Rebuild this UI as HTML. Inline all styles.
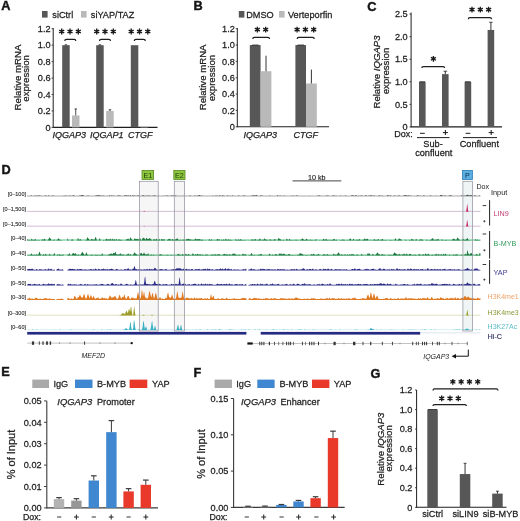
<!DOCTYPE html>
<html><head><meta charset="utf-8"><style>
html,body{margin:0;padding:0;background:#fff;}
svg{display:block;will-change:transform;}
text{font-family:"Liberation Sans", sans-serif;stroke:#222;stroke-width:0.25px;}
</style></head><body>
<svg width="520" height="521" viewBox="0 0 520 521" fill="#222">
<rect width="520" height="521" fill="#fff"/>
<text transform="translate(1.20,10.40) scale(0.95,1)" font-size="13.44" font-weight="bold" fill="#111" stroke="#111" style="stroke-width:0.45px">A</text>
<rect x="42.00" y="11.00" width="5.60" height="6.60" fill="#575757"/>
<text transform="translate(52.30,17.60) scale(0.95,1)" font-size="9.67">siCtrl</text>
<rect x="81.00" y="11.00" width="5.60" height="6.60" fill="#b9b9b9"/>
<text transform="translate(90.80,17.60) scale(0.95,1)" font-size="9.67">siYAP/TAZ</text>
<line x1="53.20" y1="28.00" x2="53.20" y2="127.90" stroke="#1e1e1e" stroke-width="1"/>
<line x1="53.20" y1="127.40" x2="157.50" y2="127.40" stroke="#1e1e1e" stroke-width="1.1"/>
<text transform="translate(50.60,130.60) scale(0.95,1)" font-size="9.67" text-anchor="end">0</text>
<line x1="51.60" y1="127.40" x2="53.20" y2="127.40" stroke="#1e1e1e" stroke-width="0.8"/>
<text transform="translate(50.60,114.16) scale(0.95,1)" font-size="9.67" text-anchor="end">0.2</text>
<line x1="51.60" y1="110.96" x2="53.20" y2="110.96" stroke="#1e1e1e" stroke-width="0.8"/>
<text transform="translate(50.60,97.72) scale(0.95,1)" font-size="9.67" text-anchor="end">0.4</text>
<line x1="51.60" y1="94.52" x2="53.20" y2="94.52" stroke="#1e1e1e" stroke-width="0.8"/>
<text transform="translate(50.60,81.28) scale(0.95,1)" font-size="9.67" text-anchor="end">0.6</text>
<line x1="51.60" y1="78.08" x2="53.20" y2="78.08" stroke="#1e1e1e" stroke-width="0.8"/>
<text transform="translate(50.60,64.84) scale(0.95,1)" font-size="9.67" text-anchor="end">0.8</text>
<line x1="51.60" y1="61.64" x2="53.20" y2="61.64" stroke="#1e1e1e" stroke-width="0.8"/>
<text transform="translate(50.60,48.40) scale(0.95,1)" font-size="9.67" text-anchor="end">1.0</text>
<line x1="51.60" y1="45.20" x2="53.20" y2="45.20" stroke="#1e1e1e" stroke-width="0.8"/>
<text transform="translate(50.60,31.96) scale(0.95,1)" font-size="9.67" text-anchor="end">1.2</text>
<line x1="51.60" y1="28.76" x2="53.20" y2="28.76" stroke="#1e1e1e" stroke-width="0.8"/>
<text transform="translate(20.80,77.50) rotate(-90)" font-size="9.63" text-anchor="middle" fill="#222" stroke="#222">Relative mRNA</text>
<text transform="translate(29.40,78.40) rotate(-90)" font-size="9.63" text-anchor="middle" fill="#222" stroke="#222">expression</text>
<rect x="62.20" y="45.20" width="7.50" height="82.20" fill="#575757"/>
<line x1="65.95" y1="45.20" x2="65.95" y2="44.79" stroke="#1e1e1e" stroke-width="0.8"/>
<line x1="64.75" y1="44.79" x2="67.15" y2="44.79" stroke="#1e1e1e" stroke-width="0.8"/>
<rect x="72.00" y="115.48" width="7.50" height="11.92" fill="#b9b9b9"/>
<line x1="75.75" y1="115.48" x2="75.75" y2="108.91" stroke="#1e1e1e" stroke-width="0.8"/>
<line x1="74.55" y1="108.91" x2="76.95" y2="108.91" stroke="#1e1e1e" stroke-width="0.8"/>
<rect x="96.20" y="45.20" width="7.50" height="82.20" fill="#575757"/>
<line x1="99.95" y1="45.20" x2="99.95" y2="44.79" stroke="#1e1e1e" stroke-width="0.8"/>
<line x1="98.75" y1="44.79" x2="101.15" y2="44.79" stroke="#1e1e1e" stroke-width="0.8"/>
<rect x="106.20" y="110.96" width="7.50" height="16.44" fill="#b9b9b9"/>
<line x1="109.95" y1="110.96" x2="109.95" y2="109.73" stroke="#1e1e1e" stroke-width="0.8"/>
<line x1="108.75" y1="109.73" x2="111.15" y2="109.73" stroke="#1e1e1e" stroke-width="0.8"/>
<rect x="130.80" y="45.20" width="7.50" height="82.20" fill="#575757"/>
<rect x="140.50" y="126.41" width="7.50" height="0.99" fill="#b9b9b9"/>
<path d="M61.70 28.60L61.70 34.40M64.21 30.05L59.19 32.95M64.21 32.95L59.19 30.05" fill="none" stroke="#1a1a1a" stroke-width="1.35"/>
<path d="M70.00 28.60L70.00 34.40M72.51 30.05L67.49 32.95M72.51 32.95L67.49 30.05" fill="none" stroke="#1a1a1a" stroke-width="1.35"/>
<path d="M78.30 28.60L78.30 34.40M80.81 30.05L75.79 32.95M80.81 32.95L75.79 30.05" fill="none" stroke="#1a1a1a" stroke-width="1.35"/>
<path d="M64.80 40.90Q64.80 39.30 66.40 39.30L74.20 39.30Q75.80 39.30 75.80 40.90" fill="none" stroke="#1e1e1e" stroke-width="1.25"/>
<path d="M96.70 28.60L96.70 34.40M99.21 30.05L94.19 32.95M99.21 32.95L94.19 30.05" fill="none" stroke="#1a1a1a" stroke-width="1.35"/>
<path d="M105.00 28.60L105.00 34.40M107.51 30.05L102.49 32.95M107.51 32.95L102.49 30.05" fill="none" stroke="#1a1a1a" stroke-width="1.35"/>
<path d="M113.30 28.60L113.30 34.40M115.81 30.05L110.79 32.95M115.81 32.95L110.79 30.05" fill="none" stroke="#1a1a1a" stroke-width="1.35"/>
<path d="M99.50 40.90Q99.50 39.30 101.10 39.30L108.90 39.30Q110.50 39.30 110.50 40.90" fill="none" stroke="#1e1e1e" stroke-width="1.25"/>
<path d="M131.20 28.60L131.20 34.40M133.71 30.05L128.69 32.95M133.71 32.95L128.69 30.05" fill="none" stroke="#1a1a1a" stroke-width="1.35"/>
<path d="M139.50 28.60L139.50 34.40M142.01 30.05L136.99 32.95M142.01 32.95L136.99 30.05" fill="none" stroke="#1a1a1a" stroke-width="1.35"/>
<path d="M147.80 28.60L147.80 34.40M150.31 30.05L145.29 32.95M150.31 32.95L145.29 30.05" fill="none" stroke="#1a1a1a" stroke-width="1.35"/>
<path d="M134.30 40.90Q134.30 39.30 135.90 39.30L143.70 39.30Q145.30 39.30 145.30 40.90" fill="none" stroke="#1e1e1e" stroke-width="1.25"/>
<text transform="translate(52.50,137.60) scale(1.0,1)" font-size="9.00" font-style="italic">IQGAP3</text>
<text transform="translate(90.00,137.60) scale(1.0,1)" font-size="9.00" font-style="italic">IQGAP1</text>
<text transform="translate(128.00,137.60) scale(1.0,1)" font-size="9.00" font-style="italic">CTGF</text>
<text transform="translate(193.50,10.40) scale(0.95,1)" font-size="13.44" font-weight="bold" fill="#111" stroke="#111" style="stroke-width:0.45px">B</text>
<rect x="238.80" y="11.00" width="5.60" height="6.60" fill="#575757"/>
<text transform="translate(246.20,17.60) scale(0.95,1)" font-size="9.67">DMSO</text>
<rect x="279.00" y="11.00" width="5.60" height="6.60" fill="#b9b9b9"/>
<text transform="translate(288.00,17.60) scale(0.95,1)" font-size="9.67">Verteporfin</text>
<line x1="237.30" y1="28.00" x2="237.30" y2="127.30" stroke="#1e1e1e" stroke-width="1"/>
<line x1="237.30" y1="126.80" x2="329.00" y2="126.80" stroke="#1e1e1e" stroke-width="1.1"/>
<text transform="translate(234.80,130.00) scale(0.95,1)" font-size="9.67" text-anchor="end">0</text>
<line x1="235.70" y1="126.80" x2="237.30" y2="126.80" stroke="#1e1e1e" stroke-width="0.8"/>
<text transform="translate(234.80,113.65) scale(0.95,1)" font-size="9.67" text-anchor="end">0.2</text>
<line x1="235.70" y1="110.45" x2="237.30" y2="110.45" stroke="#1e1e1e" stroke-width="0.8"/>
<text transform="translate(234.80,97.30) scale(0.95,1)" font-size="9.67" text-anchor="end">0.4</text>
<line x1="235.70" y1="94.10" x2="237.30" y2="94.10" stroke="#1e1e1e" stroke-width="0.8"/>
<text transform="translate(234.80,80.95) scale(0.95,1)" font-size="9.67" text-anchor="end">0.6</text>
<line x1="235.70" y1="77.75" x2="237.30" y2="77.75" stroke="#1e1e1e" stroke-width="0.8"/>
<text transform="translate(234.80,64.60) scale(0.95,1)" font-size="9.67" text-anchor="end">0.8</text>
<line x1="235.70" y1="61.40" x2="237.30" y2="61.40" stroke="#1e1e1e" stroke-width="0.8"/>
<text transform="translate(234.80,48.25) scale(0.95,1)" font-size="9.67" text-anchor="end">1.0</text>
<line x1="235.70" y1="45.05" x2="237.30" y2="45.05" stroke="#1e1e1e" stroke-width="0.8"/>
<text transform="translate(234.80,31.90) scale(0.95,1)" font-size="9.67" text-anchor="end">1.2</text>
<line x1="235.70" y1="28.70" x2="237.30" y2="28.70" stroke="#1e1e1e" stroke-width="0.8"/>
<text transform="translate(206.10,77.40) rotate(-90)" font-size="9.63" text-anchor="middle" fill="#222" stroke="#222">Relative mRNA</text>
<text transform="translate(214.60,78.10) rotate(-90)" font-size="9.63" text-anchor="middle" fill="#222" stroke="#222">expression</text>
<rect x="249.80" y="45.05" width="10.80" height="81.75" fill="#575757"/>
<line x1="252.00" y1="45.05" x2="258.50" y2="45.05" stroke="#1e1e1e" stroke-width="0.8"/>
<rect x="260.60" y="71.21" width="10.80" height="55.59" fill="#b9b9b9"/>
<line x1="266.00" y1="71.21" x2="266.00" y2="55.68" stroke="#1e1e1e" stroke-width="0.9"/>
<line x1="266.00" y1="55.68" x2="266.00" y2="55.68" stroke="#1e1e1e" stroke-width="0.9"/>
<rect x="295.40" y="45.05" width="10.60" height="81.75" fill="#575757"/>
<line x1="297.50" y1="45.05" x2="304.00" y2="45.05" stroke="#1e1e1e" stroke-width="0.8"/>
<rect x="306.00" y="83.47" width="10.80" height="43.33" fill="#b9b9b9"/>
<line x1="311.40" y1="83.47" x2="311.40" y2="69.58" stroke="#1e1e1e" stroke-width="0.9"/>
<line x1="311.40" y1="69.58" x2="311.40" y2="69.58" stroke="#1e1e1e" stroke-width="0.9"/>
<path d="M257.35 26.70L257.35 32.50M259.86 28.15L254.84 31.05M259.86 31.05L254.84 28.15" fill="none" stroke="#1a1a1a" stroke-width="1.35"/>
<path d="M265.65 26.70L265.65 32.50M268.16 28.15L263.14 31.05M268.16 31.05L263.14 28.15" fill="none" stroke="#1a1a1a" stroke-width="1.35"/>
<path d="M252.80 38.90Q252.80 37.30 254.40 37.30L267.90 37.30Q269.50 37.30 269.50 38.90" fill="none" stroke="#1e1e1e" stroke-width="1.25"/>
<path d="M297.10 26.70L297.10 32.50M299.61 28.15L294.59 31.05M299.61 31.05L294.59 28.15" fill="none" stroke="#1a1a1a" stroke-width="1.35"/>
<path d="M305.40 26.70L305.40 32.50M307.91 28.15L302.89 31.05M307.91 31.05L302.89 28.15" fill="none" stroke="#1a1a1a" stroke-width="1.35"/>
<path d="M313.70 26.70L313.70 32.50M316.21 28.15L311.19 31.05M316.21 31.05L311.19 28.15" fill="none" stroke="#1a1a1a" stroke-width="1.35"/>
<path d="M297.20 38.90Q297.20 37.30 298.80 37.30L312.60 37.30Q314.20 37.30 314.20 38.90" fill="none" stroke="#1e1e1e" stroke-width="1.25"/>
<text transform="translate(243.40,137.90) scale(1.0,1)" font-size="9.00" font-style="italic">IQGAP3</text>
<text transform="translate(293.60,137.90) scale(1.0,1)" font-size="9.00" font-style="italic">CTGF</text>
<text transform="translate(367.20,10.60) scale(0.95,1)" font-size="13.44" font-weight="bold" fill="#111" stroke="#111" style="stroke-width:0.45px">C</text>
<line x1="411.10" y1="12.50" x2="411.10" y2="127.40" stroke="#1e1e1e" stroke-width="1"/>
<line x1="411.10" y1="126.90" x2="502.00" y2="126.90" stroke="#1e1e1e" stroke-width="1.1"/>
<text transform="translate(407.70,130.10) scale(0.95,1)" font-size="9.67" text-anchor="end">0</text>
<line x1="409.50" y1="126.90" x2="411.10" y2="126.90" stroke="#1e1e1e" stroke-width="0.8"/>
<text transform="translate(407.70,107.55) scale(0.95,1)" font-size="9.67" text-anchor="end">0.5</text>
<line x1="409.50" y1="104.35" x2="411.10" y2="104.35" stroke="#1e1e1e" stroke-width="0.8"/>
<text transform="translate(407.70,85.00) scale(0.95,1)" font-size="9.67" text-anchor="end">1.0</text>
<line x1="409.50" y1="81.80" x2="411.10" y2="81.80" stroke="#1e1e1e" stroke-width="0.8"/>
<text transform="translate(407.70,62.45) scale(0.95,1)" font-size="9.67" text-anchor="end">1.5</text>
<line x1="409.50" y1="59.25" x2="411.10" y2="59.25" stroke="#1e1e1e" stroke-width="0.8"/>
<text transform="translate(407.70,39.90) scale(0.95,1)" font-size="9.67" text-anchor="end">2.0</text>
<line x1="409.50" y1="36.70" x2="411.10" y2="36.70" stroke="#1e1e1e" stroke-width="0.8"/>
<text transform="translate(407.70,17.35) scale(0.95,1)" font-size="9.67" text-anchor="end">2.5</text>
<line x1="409.50" y1="14.15" x2="411.10" y2="14.15" stroke="#1e1e1e" stroke-width="0.8"/>
<text transform="translate(380.0,72.0) rotate(-90)" font-size="9.6" text-anchor="middle" fill="#222">Relative <tspan font-style="italic">IQGAP3</tspan></text>
<text transform="translate(389.00,71.00) rotate(-90)" font-size="9.63" text-anchor="middle" fill="#222" stroke="#222">expression</text>
<rect x="419.00" y="81.80" width="6.60" height="45.10" fill="#575757"/>
<line x1="419.50" y1="81.80" x2="425.00" y2="81.80" stroke="#1e1e1e" stroke-width="0.8"/>
<rect x="442.00" y="74.13" width="6.60" height="52.77" fill="#575757"/>
<line x1="445.30" y1="74.13" x2="445.30" y2="71.20" stroke="#1e1e1e" stroke-width="0.9"/>
<line x1="445.30" y1="71.20" x2="445.30" y2="71.20" stroke="#1e1e1e" stroke-width="0.9"/>
<line x1="443.50" y1="71.20" x2="447.20" y2="71.20" stroke="#1e1e1e" stroke-width="0.8"/>
<rect x="464.60" y="81.80" width="6.60" height="45.10" fill="#575757"/>
<line x1="465.00" y1="81.80" x2="470.50" y2="81.80" stroke="#1e1e1e" stroke-width="0.8"/>
<rect x="487.60" y="29.94" width="6.60" height="96.97" fill="#575757"/>
<line x1="490.90" y1="29.94" x2="490.90" y2="22.27" stroke="#1e1e1e" stroke-width="0.9"/>
<line x1="490.90" y1="22.27" x2="490.90" y2="22.27" stroke="#1e1e1e" stroke-width="0.9"/>
<line x1="489.20" y1="22.27" x2="492.60" y2="22.27" stroke="#1e1e1e" stroke-width="0.8"/>
<path d="M433.40 55.90L433.40 61.70M435.91 57.35L430.89 60.25M435.91 60.25L430.89 57.35" fill="none" stroke="#1a1a1a" stroke-width="1.35"/>
<path d="M421.80 68.10Q421.80 66.50 423.40 66.50L443.00 66.50Q444.60 66.50 444.60 68.10" fill="none" stroke="#1e1e1e" stroke-width="1.25"/>
<path d="M472.00 6.70L472.00 12.50M474.51 8.15L469.49 11.05M474.51 11.05L469.49 8.15" fill="none" stroke="#1a1a1a" stroke-width="1.35"/>
<path d="M480.30 6.70L480.30 12.50M482.81 8.15L477.79 11.05M482.81 11.05L477.79 8.15" fill="none" stroke="#1a1a1a" stroke-width="1.35"/>
<path d="M488.60 6.70L488.60 12.50M491.11 8.15L486.09 11.05M491.11 11.05L486.09 8.15" fill="none" stroke="#1a1a1a" stroke-width="1.35"/>
<path d="M468.30 19.20Q468.30 17.60 469.90 17.60L489.90 17.60Q491.50 17.60 491.50 19.20" fill="none" stroke="#1e1e1e" stroke-width="1.25"/>
<text transform="translate(394.20,136.80) scale(1,1)" font-size="9.00">Dox:</text>
<line x1="420.00" y1="133.30" x2="424.80" y2="133.30" stroke="#1e1e1e" stroke-width="1.0"/>
<line x1="442.90" y1="132.60" x2="447.90" y2="132.60" stroke="#1e1e1e" stroke-width="1.05"/>
<line x1="445.40" y1="130.10" x2="445.40" y2="135.10" stroke="#1e1e1e" stroke-width="1.05"/>
<line x1="465.60" y1="133.30" x2="470.40" y2="133.30" stroke="#1e1e1e" stroke-width="1.0"/>
<line x1="488.70" y1="132.60" x2="493.70" y2="132.60" stroke="#1e1e1e" stroke-width="1.05"/>
<line x1="491.20" y1="130.10" x2="491.20" y2="135.10" stroke="#1e1e1e" stroke-width="1.05"/>
<line x1="417.00" y1="137.60" x2="449.50" y2="137.60" stroke="#1e1e1e" stroke-width="1.0"/>
<line x1="463.00" y1="137.60" x2="497.00" y2="137.60" stroke="#1e1e1e" stroke-width="1.0"/>
<text transform="translate(433.00,146.80) scale(0.95,1)" font-size="9.67" text-anchor="middle">Sub-</text>
<text transform="translate(433.80,156.20) scale(0.95,1)" font-size="9.67" text-anchor="middle">confluent</text>
<text transform="translate(479.30,146.60) scale(0.95,1)" font-size="9.67" text-anchor="middle">Confluent</text>
<rect x="139.40" y="181.30" width="18.80" height="149.70" fill="#f6f6f7"/>
<rect x="174.30" y="181.30" width="10.20" height="149.70" fill="#f6f6f7"/>
<rect x="462.90" y="181.30" width="9.70" height="149.70" fill="#eef5f4"/>
<text transform="translate(1.50,173.60) scale(0.95,1)" font-size="13.44" font-weight="bold" fill="#111" stroke="#111" style="stroke-width:0.45px">D</text>
<rect x="142.00" y="170.40" width="11.60" height="9.20" fill="#8cc63f" stroke="#5a8a1e" stroke-width="0.8"/>
<text transform="translate(147.80,177.90) scale(1,1)" font-size="7.20" text-anchor="middle" fill="#1d3a08" stroke="#1d3a08" style="stroke:none">E1</text>
<rect x="173.80" y="170.40" width="11.20" height="9.20" fill="#8cc63f" stroke="#5a8a1e" stroke-width="0.8"/>
<text transform="translate(179.40,177.90) scale(1,1)" font-size="7.20" text-anchor="middle" fill="#1d3a08" stroke="#1d3a08" style="stroke:none">E2</text>
<rect x="462.40" y="170.40" width="10.00" height="9.20" fill="#5aaee0" stroke="#2f7fb8" stroke-width="0.8"/>
<text transform="translate(467.40,177.90) scale(1,1)" font-size="7.20" text-anchor="middle" fill="#0d2a50" stroke="#0d2a50" style="stroke:none">P</text>
<line x1="292.50" y1="180.90" x2="341.30" y2="180.90" stroke="#444" stroke-width="1.0"/>
<text transform="translate(316.80,179.80) scale(1,1)" font-size="7.20" text-anchor="middle" style="stroke-width:0.15px">10 kb</text>
<text transform="translate(26.00,195.60) scale(1,1)" font-size="5.50" text-anchor="end" fill="#333333" stroke="#333333" style="stroke-width:0.12px">[0–100]</text>
<path d="M27.2 196.20L27.2 195.61L27.7 195.68L28.2 195.75L28.7 195.75L29.2 195.75L29.7 195.75L30.2 195.68L30.7 195.38L31.2 195.23L31.7 195.49L32.2 195.67L32.7 195.70L33.2 195.67L33.7 195.64L34.2 195.70L34.7 195.52L35.2 195.28L35.7 195.52L36.2 195.75L36.7 195.62L37.2 195.50L37.7 195.46L38.2 195.42L38.7 195.39L39.2 195.37L39.7 195.49L40.2 195.61L40.7 195.68L41.2 195.65L41.7 195.56L42.2 195.65L42.7 195.75L43.2 195.75L43.7 195.75L44.2 195.64L44.7 195.53L45.2 195.45L45.7 195.28L46.2 195.40L46.7 195.67L47.2 195.75L47.7 195.75L48.2 195.56L48.7 195.37L49.2 195.56L49.7 195.75L50.2 195.75L50.7 195.75L51.2 195.75L51.7 195.62L52.2 195.48L52.7 195.46L53.2 195.43L53.7 195.59L54.2 195.75L54.7 195.71L55.2 195.67L55.7 195.71L56.2 195.75L56.7 195.75L57.2 195.75L57.7 195.73L58.2 195.71L58.7 195.73L59.2 195.69L59.7 195.64L60.2 195.69L60.7 195.75L61.2 195.75L61.7 195.75L62.2 195.75L62.7 195.75L63.2 195.75L63.7 195.58L64.2 195.40L64.7 195.56L65.2 195.71L65.7 195.60L66.2 195.50L66.7 195.62L67.2 195.75L67.7 195.75L68.2 195.75L68.7 195.68L69.2 195.50L69.7 195.46L70.2 195.56L70.7 195.62L71.2 195.69L71.7 195.75L72.2 195.75L72.7 195.61L73.2 195.21L73.7 195.08L74.2 195.40L74.7 195.64L75.2 195.71L75.7 195.75L76.2 195.75L76.7 195.71L77.2 195.68L77.7 195.71L78.2 195.75L78.7 195.75L79.2 195.62L79.7 195.48L80.2 195.62L80.7 195.51L81.2 195.15L81.7 195.10L82.2 195.08L82.7 195.01L83.2 195.24L83.7 195.60L84.2 195.70L84.7 195.64L85.2 195.68L85.7 195.72L86.2 195.74L86.7 195.63L87.2 195.51L87.7 195.53L88.2 195.54L88.7 195.61L89.2 195.68L89.7 195.71L90.2 195.69L90.7 195.64L91.2 195.69L91.7 195.75L92.2 195.75L92.7 195.75L93.2 195.74L93.7 195.72L94.2 195.73L94.7 195.64L95.2 195.55L95.7 195.49L96.2 195.43L96.7 195.36L97.2 195.29L97.7 195.31L98.2 195.15L98.7 195.17L99.2 195.35L99.7 195.32L100.2 195.53L100.7 195.60L101.2 195.44L101.7 195.59L102.2 195.66L102.7 195.58L103.2 195.55L103.7 195.43L104.2 195.48L104.7 195.67L105.2 195.75L105.7 195.75L106.2 195.75L106.7 195.66L107.2 195.57L107.7 195.66L108.2 195.75L108.7 195.65L109.2 195.30L109.7 195.13L110.2 195.46L110.7 195.69L111.2 195.47L111.7 195.30L112.2 195.55L112.7 195.74L113.2 195.58L113.7 195.42L114.2 195.59L114.7 195.75L115.2 195.71L115.7 195.64L116.2 195.65L116.7 195.72L117.2 195.75L117.7 195.54L118.2 195.17L118.7 195.22L119.2 195.50L119.7 195.56L120.2 195.57L120.7 195.59L121.2 195.65L121.7 195.68L122.2 195.64L122.7 195.65L123.2 195.71L123.7 195.75L124.2 195.55L124.7 195.23L125.2 195.25L125.7 195.41L126.2 195.31L126.7 195.30L127.2 195.58L127.7 195.56L128.2 195.29L128.7 195.40L129.2 195.67L129.7 195.53L130.2 195.20L130.7 195.32L131.2 195.64L131.7 195.69L132.2 195.42L132.7 195.26L133.2 195.37L133.7 195.42L134.2 195.50L134.7 195.56L135.2 195.62L135.7 195.72L136.2 195.75L136.7 195.75L137.2 195.52L137.7 195.15L138.2 195.24L138.7 195.61L139.2 195.75L139.7 195.75L140.2 195.75L140.7 195.75L141.2 195.75L141.7 195.75L142.2 195.51L142.7 195.27L143.2 195.27L143.7 195.28L144.2 195.51L144.7 195.75L145.2 195.75L145.7 195.58L146.2 195.40L146.7 195.58L147.2 195.75L147.7 195.59L148.2 195.42L148.7 195.59L149.2 195.61L149.7 195.48L150.2 195.61L150.7 195.74L151.2 195.74L151.7 195.75L152.2 195.75L152.7 195.61L153.2 195.46L153.7 195.61L154.2 195.51L154.7 195.18L155.2 195.31L155.7 195.65L156.2 195.75L156.7 195.75L157.2 195.75L157.7 195.75L158.2 195.69L158.7 195.62L159.2 195.69L159.7 195.73L160.2 195.71L160.7 195.73L161.2 195.75L161.7 195.75L162.2 195.75L162.7 195.63L163.2 195.50L163.7 195.63L164.2 195.63L164.7 195.51L165.2 195.63L165.7 195.75L166.2 195.56L166.7 195.37L167.2 195.49L167.7 195.56L168.2 195.60L168.7 195.66L169.2 195.64L169.7 195.69L170.2 195.65L170.7 195.55L171.2 195.49L171.7 195.37L172.2 195.46L172.7 195.55L173.2 195.40L173.7 195.33L174.2 195.43L174.7 195.63L175.2 195.52L175.7 195.25L176.2 195.45L176.7 195.72L177.2 195.72L177.7 195.68L178.2 195.72L178.7 195.75L179.2 195.75L179.7 195.75L180.2 195.75L180.7 195.75L181.2 195.75L181.7 195.75L182.2 195.75L182.7 195.75L183.2 195.66L183.7 195.55L184.2 195.62L184.7 195.73L185.2 195.75L185.7 195.75L186.2 195.75L186.7 195.75L187.2 195.75L187.7 195.75L188.2 195.75L188.7 195.75L189.2 195.75L189.7 195.50L190.2 195.25L190.7 195.50L191.2 195.75L191.7 195.75L192.2 195.75L192.7 195.75L193.2 195.75L193.7 195.63L194.2 195.50L194.7 195.61L195.2 195.66L195.7 195.60L196.2 195.66L196.7 195.62L197.2 195.53L197.7 195.46L198.2 195.46L198.7 195.38L199.2 195.04L199.7 194.97L200.2 195.34L200.7 195.65L201.2 195.58L201.7 195.41L202.2 195.58L202.7 195.75L203.2 195.69L203.7 195.63L204.2 195.69L204.7 195.75L205.2 195.75L205.7 195.75L206.2 195.72L206.7 195.69L207.2 195.72L207.7 195.75L208.2 195.75L208.7 195.74L209.2 195.73L209.7 195.74L210.2 195.74L210.7 195.75L211.2 195.75L211.7 195.75L212.2 195.69L212.7 195.51L213.2 195.45L213.7 195.63L214.2 195.75L214.7 195.75L215.2 195.58L215.7 195.41L216.2 195.43L216.7 195.44L217.2 195.59L217.7 195.75L218.2 195.75L218.7 195.75L219.2 195.58L219.7 195.21L220.2 195.17L220.7 195.54L221.2 195.75L221.7 195.64L222.2 195.36L222.7 195.32L223.2 195.59L223.7 195.62L224.2 195.50L224.7 195.63L225.2 195.75L225.7 195.75L226.2 195.75L226.7 195.75L227.2 195.51L227.7 195.26L228.2 195.51L228.7 195.75L229.2 195.73L229.7 195.64L230.2 195.61L230.7 195.68L231.2 195.72L231.7 195.73L232.2 195.54L232.7 195.32L233.2 195.53L233.7 195.74L234.2 195.70L234.7 195.66L235.2 195.71L235.7 195.75L236.2 195.75L236.7 195.75L237.2 195.75L237.7 195.75L238.2 195.54L238.7 195.33L239.2 195.54L239.7 195.75L240.2 195.74L240.7 195.75L241.2 195.75L241.7 195.75L242.2 195.75L242.7 195.59L243.2 195.43L243.7 195.59L244.2 195.55L244.7 195.35L245.2 195.55L245.7 195.75L246.2 195.75L246.7 195.75L247.2 195.75L247.7 195.75L248.2 195.75L248.7 195.75L249.2 195.75L249.7 195.75L250.2 195.75L250.7 195.75L251.2 195.58L251.7 195.39L252.2 195.55L252.7 195.53L253.2 195.26L253.7 195.19L254.2 195.14L254.7 195.27L255.2 195.60L255.7 195.51L256.2 195.09L256.7 195.08L257.2 195.44L257.7 195.69L258.2 195.75L258.7 195.75L259.2 195.75L259.7 195.70L260.2 195.41L260.7 195.22L261.2 195.51L261.7 195.61L262.2 195.48L262.7 195.60L263.2 195.71L263.7 195.73L264.2 195.75L264.7 195.75L265.2 195.75L265.7 195.70L266.2 195.66L266.7 195.70L267.2 195.75L267.7 195.75L268.2 195.75L268.7 195.75L269.2 195.62L269.7 195.49L270.2 195.62L270.7 195.75L271.2 195.74L271.7 195.75L272.2 195.74L272.7 195.74L273.2 195.74L273.7 195.75L274.2 195.75L274.7 195.75L275.2 195.75L275.7 195.75L276.2 195.75L276.7 195.63L277.2 195.30L277.7 195.21L278.2 195.54L278.7 195.75L279.2 195.75L279.7 195.61L280.2 195.47L280.7 195.56L281.2 195.64L281.7 195.65L282.2 195.66L282.7 195.70L283.2 195.69L283.7 195.55L284.2 195.52L284.7 195.62L285.2 195.67L285.7 195.71L286.2 195.75L286.7 195.75L287.2 195.73L287.7 195.70L288.2 195.68L288.7 195.68L289.2 195.73L289.7 195.75L290.2 195.75L290.7 195.75L291.2 195.75L291.7 195.60L292.2 195.39L292.7 195.49L293.2 195.70L293.7 195.69L294.2 195.58L294.7 195.59L295.2 195.66L295.7 195.67L296.2 195.50L296.7 195.30L297.2 195.40L297.7 195.57L298.2 195.68L298.7 195.75L299.2 195.75L299.7 195.74L300.2 195.75L300.7 195.75L301.2 195.75L301.7 195.75L302.2 195.75L302.7 195.75L303.2 195.75L303.7 195.75L304.2 195.75L304.7 195.75L305.2 195.75L305.7 195.75L306.2 195.75L306.7 195.75L307.2 195.75L307.7 195.75L308.2 195.75L308.7 195.68L309.2 195.61L309.7 195.68L310.2 195.75L310.7 195.75L311.2 195.75L311.7 195.72L312.2 195.68L312.7 195.70L313.2 195.74L313.7 195.75L314.2 195.75L314.7 195.74L315.2 195.74L315.7 195.73L316.2 195.73L316.7 195.74L317.2 195.72L317.7 195.45L318.2 195.25L318.7 195.51L319.2 195.52L319.7 195.29L320.2 195.52L320.7 195.75L321.2 195.75L321.7 195.75L322.2 195.75L322.7 195.72L323.2 195.69L323.7 195.72L324.2 195.75L324.7 195.75L325.2 195.74L325.7 195.59L326.2 195.47L326.7 195.60L327.2 195.54L327.7 195.39L328.2 195.51L328.7 195.61L329.2 195.68L329.7 195.73L330.2 195.71L330.7 195.73L331.2 195.72L331.7 195.70L332.2 195.61L332.7 195.51L333.2 195.43L333.7 195.34L334.2 195.39L334.7 195.43L335.2 195.59L335.7 195.67L336.2 195.60L336.7 195.67L337.2 195.75L337.7 195.75L338.2 195.75L338.7 195.75L339.2 195.75L339.7 195.65L340.2 195.52L340.7 195.49L341.2 195.53L341.7 195.66L342.2 195.75L342.7 195.75L343.2 195.75L343.7 195.64L344.2 195.52L344.7 195.64L345.2 195.60L345.7 195.45L346.2 195.60L346.7 195.70L347.2 195.66L347.7 195.68L348.2 195.71L348.7 195.72L349.2 195.74L349.7 195.74L350.2 195.75L350.7 195.75L351.2 195.60L351.7 195.31L352.2 195.17L352.7 195.16L353.2 195.33L353.7 195.62L354.2 195.75L354.7 195.71L355.2 195.43L355.7 195.05L356.2 195.13L356.7 195.50L357.2 195.71L357.7 195.72L358.2 195.56L358.7 195.47L359.2 195.63L359.7 195.68L360.2 195.62L360.7 195.58L361.2 195.50L361.7 195.49L362.2 195.50L362.7 195.50L363.2 195.65L363.7 195.74L364.2 195.73L364.7 195.74L365.2 195.52L365.7 195.16L366.2 195.17L366.7 195.42L367.2 195.65L367.7 195.65L368.2 195.55L368.7 195.49L369.2 195.44L369.7 195.59L370.2 195.56L370.7 195.14L371.2 195.06L371.7 195.41L372.2 195.64L372.7 195.61L373.2 195.54L373.7 195.48L374.2 195.42L374.7 195.59L375.2 195.71L375.7 195.68L376.2 195.71L376.7 195.75L377.2 195.74L377.7 195.73L378.2 195.74L378.7 195.57L379.2 195.23L379.7 195.24L380.2 195.59L380.7 195.67L381.2 195.59L381.7 195.66L382.2 195.62L382.7 195.50L383.2 195.63L383.7 195.75L384.2 195.75L384.7 195.75L385.2 195.75L385.7 195.75L386.2 195.72L386.7 195.69L387.2 195.47L387.7 195.04L388.2 195.08L388.7 195.49L389.2 195.65L389.7 195.45L390.2 195.25L390.7 195.50L391.2 195.64L391.7 195.54L392.2 195.64L392.7 195.75L393.2 195.75L393.7 195.67L394.2 195.42L394.7 195.29L395.2 195.46L395.7 195.63L396.2 195.71L396.7 195.75L397.2 195.68L397.7 195.49L398.2 195.44L398.7 195.43L399.2 195.35L399.7 195.55L400.2 195.75L400.7 195.75L401.2 195.75L401.7 195.75L402.2 195.75L402.7 195.63L403.2 195.50L403.7 195.49L404.2 195.26L404.7 195.19L405.2 195.33L405.7 195.19L406.2 195.06L406.7 195.24L407.2 195.57L407.7 195.67L408.2 195.34L408.7 195.18L409.2 195.51L409.7 195.75L410.2 195.61L410.7 195.47L411.2 195.61L411.7 195.75L412.2 195.75L412.7 195.75L413.2 195.75L413.7 195.75L414.2 195.75L414.7 195.75L415.2 195.70L415.7 195.64L416.2 195.67L416.7 195.62L417.2 195.46L417.7 195.33L418.2 195.32L418.7 195.56L419.2 195.71L419.7 195.68L420.2 195.62L420.7 195.57L421.2 195.66L421.7 195.75L422.2 195.75L422.7 195.71L423.2 195.43L423.7 195.22L424.2 195.41L424.7 195.56L425.2 195.65L425.7 195.75L426.2 195.75L426.7 195.74L427.2 195.71L427.7 195.66L428.2 195.66L428.7 195.72L429.2 195.65L429.7 195.55L430.2 195.41L430.7 195.26L431.2 195.51L431.7 195.75L432.2 195.75L432.7 195.75L433.2 195.75L433.7 195.69L434.2 195.63L434.7 195.63L435.2 195.62L435.7 195.68L436.2 195.65L436.7 195.56L437.2 195.65L437.7 195.75L438.2 195.75L438.7 195.75L439.2 195.75L439.7 195.63L440.2 195.29L440.7 195.08L441.2 195.08L441.7 195.03L442.2 195.19L442.7 195.43L443.2 195.48L443.7 195.63L444.2 195.71L444.7 195.47L445.2 195.32L445.7 195.56L446.2 195.75L446.7 195.75L447.2 195.75L447.7 195.75L448.2 195.75L448.7 195.60L449.2 195.42L449.7 195.29L450.2 195.24L450.7 195.27L451.2 195.26L451.7 195.50L452.2 195.73L452.7 195.71L453.2 195.73L453.7 195.75L454.2 195.75L454.7 195.75L455.2 195.75L455.7 195.75L456.2 195.75L456.7 195.66L457.2 195.57L457.7 195.66L458.2 195.75L458.7 195.75L459.2 195.75L459.7 195.75L460.2 195.75L460.7 195.63L461.2 195.37L461.7 195.33L462.2 195.60L462.7 195.75L463.2 195.75L463.7 195.62L464.2 195.49L464.7 195.62L465.2 195.75L465.7 195.54L466.2 195.34L466.7 195.01L467.2 194.70L467.7 194.67L468.2 194.97L468.7 195.31L469.2 195.48L469.7 195.26L470.2 195.15L470.7 195.00L471.2 194.99L471.7 195.26L472.2 195.58L472.7 195.69L473.2 195.69L473.7 195.64L474.2 195.48L474.7 195.34L475.2 195.36L475.7 195.59L476.2 195.74L476.7 195.75L477.2 195.75L477.7 195.75L478.2 195.75L478.7 195.69L479.2 195.44L479.7 195.30L480.2 195.56L480.5 196.20Z" fill="#555555" stroke="none" stroke-width="1"/>
<text transform="translate(26.00,211.20) scale(1,1)" font-size="5.50" text-anchor="end" fill="#333333" stroke="#333333" style="stroke-width:0.12px">[0–1,500]</text>
<line x1="27.20" y1="211.40" x2="480.50" y2="211.40" stroke="#cbaccb" stroke-width="0.8"/>
<path d="M27.2 211.80L27.2 211.80L27.7 211.80L28.2 211.80L28.7 211.80L29.2 211.80L29.7 211.80L30.2 211.80L30.7 211.80L31.2 211.80L31.7 211.80L32.2 211.80L32.7 211.80L33.2 211.80L33.7 211.80L34.2 211.80L34.7 211.80L35.2 211.80L35.7 211.80L36.2 211.80L36.7 211.80L37.2 211.80L37.7 211.80L38.2 211.80L38.7 211.80L39.2 211.80L39.7 211.80L40.2 211.80L40.7 211.80L41.2 211.80L41.7 211.80L42.2 211.80L42.7 211.80L43.2 211.80L43.7 211.80L44.2 211.80L44.7 211.80L45.2 211.80L45.7 211.80L46.2 211.80L46.7 211.80L47.2 211.80L47.7 211.80L48.2 211.80L48.7 211.80L49.2 211.80L49.7 211.80L50.2 211.80L50.7 211.80L51.2 211.80L51.7 211.80L52.2 211.80L52.7 211.80L53.2 211.80L53.7 211.80L54.2 211.80L54.7 211.80L55.2 211.80L55.7 211.80L56.2 211.80L56.7 211.80L57.2 211.80L57.7 211.80L58.2 211.80L58.7 211.80L59.2 211.80L59.7 211.80L60.2 211.80L60.7 211.80L61.2 211.80L61.7 211.80L62.2 211.80L62.7 211.80L63.2 211.80L63.7 211.80L64.2 211.80L64.7 211.80L65.2 211.80L65.7 211.80L66.2 211.80L66.7 211.80L67.2 211.80L67.7 211.80L68.2 211.80L68.7 211.80L69.2 211.80L69.7 211.80L70.2 211.80L70.7 211.80L71.2 211.80L71.7 211.80L72.2 211.80L72.7 211.80L73.2 211.80L73.7 211.80L74.2 211.80L74.7 211.80L75.2 211.80L75.7 211.80L76.2 211.80L76.7 211.80L77.2 211.80L77.7 211.80L78.2 211.80L78.7 211.80L79.2 211.80L79.7 211.80L80.2 211.80L80.7 211.80L81.2 211.80L81.7 211.80L82.2 211.80L82.7 211.80L83.2 211.80L83.7 211.80L84.2 211.80L84.7 211.80L85.2 211.80L85.7 211.80L86.2 211.80L86.7 211.80L87.2 211.80L87.7 211.80L88.2 211.80L88.7 211.80L89.2 211.80L89.7 211.80L90.2 211.80L90.7 211.80L91.2 211.80L91.7 211.80L92.2 211.80L92.7 211.80L93.2 211.80L93.7 211.80L94.2 211.80L94.7 211.80L95.2 211.80L95.7 211.80L96.2 211.80L96.7 211.80L97.2 211.80L97.7 211.80L98.2 211.80L98.7 211.80L99.2 211.80L99.7 211.80L100.2 211.80L100.7 211.80L101.2 211.80L101.7 211.80L102.2 211.80L102.7 211.80L103.2 211.80L103.7 211.80L104.2 211.80L104.7 211.80L105.2 211.80L105.7 211.80L106.2 211.80L106.7 211.80L107.2 211.80L107.7 211.80L108.2 211.80L108.7 211.80L109.2 211.80L109.7 211.80L110.2 211.80L110.7 211.80L111.2 211.80L111.7 211.80L112.2 211.80L112.7 211.80L113.2 211.80L113.7 211.80L114.2 211.80L114.7 211.80L115.2 211.80L115.7 211.80L116.2 211.80L116.7 211.80L117.2 211.80L117.7 211.80L118.2 211.80L118.7 211.80L119.2 211.80L119.7 211.80L120.2 211.80L120.7 211.80L121.2 211.80L121.7 211.80L122.2 211.80L122.7 211.80L123.2 211.80L123.7 211.80L124.2 211.80L124.7 211.80L125.2 211.80L125.7 211.80L126.2 211.80L126.7 211.80L127.2 211.80L127.7 211.80L128.2 211.80L128.7 211.80L129.2 211.80L129.7 211.80L130.2 211.80L130.7 211.80L131.2 211.80L131.7 211.80L132.2 211.80L132.7 211.80L133.2 211.80L133.7 211.80L134.2 211.80L134.7 211.80L135.2 211.80L135.7 211.80L136.2 211.80L136.7 211.80L137.2 211.80L137.7 211.80L138.2 211.80L138.7 211.80L139.2 211.80L139.7 211.80L140.2 211.80L140.7 211.80L141.2 211.80L141.7 211.80L142.2 211.80L142.7 211.80L143.2 211.80L143.7 211.56L144.2 210.51L144.7 211.52L145.2 211.80L145.7 211.80L146.2 211.80L146.7 211.80L147.2 211.80L147.7 211.80L148.2 211.80L148.7 211.80L149.2 211.80L149.7 211.80L150.2 211.80L150.7 211.80L151.2 211.80L151.7 211.80L152.2 211.80L152.7 211.80L153.2 211.80L153.7 211.80L154.2 211.80L154.7 211.80L155.2 211.80L155.7 211.80L156.2 211.80L156.7 211.80L157.2 211.80L157.7 211.80L158.2 211.80L158.7 211.80L159.2 211.80L159.7 211.80L160.2 211.80L160.7 211.80L161.2 211.80L161.7 211.80L162.2 211.80L162.7 211.80L163.2 211.80L163.7 211.80L164.2 211.80L164.7 211.80L165.2 211.80L165.7 211.80L166.2 211.80L166.7 211.80L167.2 211.80L167.7 211.80L168.2 211.80L168.7 211.80L169.2 211.80L169.7 211.80L170.2 211.80L170.7 211.80L171.2 211.80L171.7 211.80L172.2 211.80L172.7 211.80L173.2 211.80L173.7 211.80L174.2 211.80L174.7 211.80L175.2 211.80L175.7 211.80L176.2 211.80L176.7 211.80L177.2 211.80L177.7 211.80L178.2 211.80L178.7 211.80L179.2 211.80L179.7 211.80L180.2 211.80L180.7 211.80L181.2 211.80L181.7 211.80L182.2 211.80L182.7 211.80L183.2 211.80L183.7 211.80L184.2 211.80L184.7 211.80L185.2 211.80L185.7 211.80L186.2 211.80L186.7 211.80L187.2 211.80L187.7 211.80L188.2 211.80L188.7 211.80L189.2 211.80L189.7 211.80L190.2 211.80L190.7 211.80L191.2 211.80L191.7 211.80L192.2 211.80L192.7 211.80L193.2 211.80L193.7 211.80L194.2 211.80L194.7 211.80L195.2 211.80L195.7 211.80L196.2 211.80L196.7 211.80L197.2 211.80L197.7 211.80L198.2 211.80L198.7 211.80L199.2 211.80L199.7 211.80L200.2 211.80L200.7 211.80L201.2 211.80L201.7 211.80L202.2 211.80L202.7 211.80L203.2 211.80L203.7 211.80L204.2 211.80L204.7 211.80L205.2 211.80L205.7 211.80L206.2 211.80L206.7 211.80L207.2 211.80L207.7 211.80L208.2 211.80L208.7 211.80L209.2 211.80L209.7 211.80L210.2 211.80L210.7 211.80L211.2 211.80L211.7 211.80L212.2 211.80L212.7 211.80L213.2 211.80L213.7 211.80L214.2 211.80L214.7 211.80L215.2 211.80L215.7 211.80L216.2 211.80L216.7 211.80L217.2 211.80L217.7 211.80L218.2 211.80L218.7 211.80L219.2 211.80L219.7 211.80L220.2 211.80L220.7 211.80L221.2 211.80L221.7 211.80L222.2 211.80L222.7 211.80L223.2 211.80L223.7 211.80L224.2 211.80L224.7 211.80L225.2 211.80L225.7 211.80L226.2 211.80L226.7 211.80L227.2 211.80L227.7 211.80L228.2 211.80L228.7 211.80L229.2 211.80L229.7 211.80L230.2 211.80L230.7 211.80L231.2 211.80L231.7 211.80L232.2 211.80L232.7 211.80L233.2 211.80L233.7 211.80L234.2 211.80L234.7 211.80L235.2 211.80L235.7 211.80L236.2 211.80L236.7 211.80L237.2 211.80L237.7 211.80L238.2 211.80L238.7 211.80L239.2 211.80L239.7 211.80L240.2 211.80L240.7 211.80L241.2 211.80L241.7 211.80L242.2 211.80L242.7 211.80L243.2 211.80L243.7 211.80L244.2 211.80L244.7 211.80L245.2 211.80L245.7 211.80L246.2 211.80L246.7 211.80L247.2 211.80L247.7 211.80L248.2 211.80L248.7 211.80L249.2 211.80L249.7 211.80L250.2 211.80L250.7 211.80L251.2 211.80L251.7 211.80L252.2 211.80L252.7 211.80L253.2 211.80L253.7 211.80L254.2 211.80L254.7 211.80L255.2 211.80L255.7 211.80L256.2 211.80L256.7 211.80L257.2 211.80L257.7 211.80L258.2 211.80L258.7 211.80L259.2 211.80L259.7 211.80L260.2 211.80L260.7 211.80L261.2 211.80L261.7 211.80L262.2 211.80L262.7 211.80L263.2 211.80L263.7 211.80L264.2 211.80L264.7 211.80L265.2 211.80L265.7 211.80L266.2 211.80L266.7 211.80L267.2 211.80L267.7 211.80L268.2 211.80L268.7 211.80L269.2 211.80L269.7 211.80L270.2 211.80L270.7 211.80L271.2 211.80L271.7 211.80L272.2 211.80L272.7 211.80L273.2 211.80L273.7 211.80L274.2 211.80L274.7 211.80L275.2 211.80L275.7 211.80L276.2 211.80L276.7 211.80L277.2 211.80L277.7 211.80L278.2 211.80L278.7 211.80L279.2 211.80L279.7 211.80L280.2 211.80L280.7 211.80L281.2 211.80L281.7 211.80L282.2 211.80L282.7 211.80L283.2 211.80L283.7 211.80L284.2 211.80L284.7 211.80L285.2 211.80L285.7 211.80L286.2 211.80L286.7 211.80L287.2 211.80L287.7 211.80L288.2 211.80L288.7 211.80L289.2 211.80L289.7 211.80L290.2 211.80L290.7 211.80L291.2 211.80L291.7 211.80L292.2 211.80L292.7 211.80L293.2 211.80L293.7 211.80L294.2 211.80L294.7 211.80L295.2 211.80L295.7 211.80L296.2 211.80L296.7 211.80L297.2 211.80L297.7 211.80L298.2 211.80L298.7 211.80L299.2 211.80L299.7 211.80L300.2 211.80L300.7 211.80L301.2 211.80L301.7 211.80L302.2 211.80L302.7 211.80L303.2 211.80L303.7 211.80L304.2 211.80L304.7 211.80L305.2 211.80L305.7 211.80L306.2 211.80L306.7 211.80L307.2 211.80L307.7 211.80L308.2 211.80L308.7 211.80L309.2 211.80L309.7 211.80L310.2 211.80L310.7 211.80L311.2 211.80L311.7 211.80L312.2 211.80L312.7 211.80L313.2 211.80L313.7 211.80L314.2 211.80L314.7 211.80L315.2 211.80L315.7 211.80L316.2 211.80L316.7 211.80L317.2 211.80L317.7 211.80L318.2 211.80L318.7 211.80L319.2 211.80L319.7 211.80L320.2 211.80L320.7 211.80L321.2 211.80L321.7 211.80L322.2 211.80L322.7 211.80L323.2 211.80L323.7 211.80L324.2 211.80L324.7 211.80L325.2 211.80L325.7 211.80L326.2 211.80L326.7 211.80L327.2 211.80L327.7 211.80L328.2 211.80L328.7 211.80L329.2 211.80L329.7 211.80L330.2 211.80L330.7 211.80L331.2 211.80L331.7 211.80L332.2 211.80L332.7 211.80L333.2 211.80L333.7 211.80L334.2 211.80L334.7 211.80L335.2 211.80L335.7 211.80L336.2 211.80L336.7 211.80L337.2 211.80L337.7 211.80L338.2 211.80L338.7 211.80L339.2 211.80L339.7 211.80L340.2 211.80L340.7 211.80L341.2 211.80L341.7 211.80L342.2 211.80L342.7 211.80L343.2 211.80L343.7 211.80L344.2 211.80L344.7 211.80L345.2 211.80L345.7 211.80L346.2 211.80L346.7 211.80L347.2 211.80L347.7 211.80L348.2 211.80L348.7 211.80L349.2 211.80L349.7 211.80L350.2 211.80L350.7 211.80L351.2 211.80L351.7 211.80L352.2 211.80L352.7 211.80L353.2 211.80L353.7 211.80L354.2 211.80L354.7 211.80L355.2 211.80L355.7 211.80L356.2 211.80L356.7 211.80L357.2 211.80L357.7 211.80L358.2 211.80L358.7 211.80L359.2 211.80L359.7 211.80L360.2 211.80L360.7 211.80L361.2 211.80L361.7 211.80L362.2 211.80L362.7 211.80L363.2 211.80L363.7 211.80L364.2 211.80L364.7 211.80L365.2 211.80L365.7 211.80L366.2 211.80L366.7 211.80L367.2 211.80L367.7 211.80L368.2 211.80L368.7 211.80L369.2 211.80L369.7 211.80L370.2 211.80L370.7 211.80L371.2 211.80L371.7 211.80L372.2 211.80L372.7 211.80L373.2 211.80L373.7 211.80L374.2 211.80L374.7 211.80L375.2 211.80L375.7 211.80L376.2 211.80L376.7 211.80L377.2 211.80L377.7 211.80L378.2 211.80L378.7 211.80L379.2 211.80L379.7 211.80L380.2 211.80L380.7 211.80L381.2 211.80L381.7 211.80L382.2 211.80L382.7 211.80L383.2 211.80L383.7 211.80L384.2 211.80L384.7 211.80L385.2 211.80L385.7 211.80L386.2 211.80L386.7 211.80L387.2 211.80L387.7 211.80L388.2 211.80L388.7 211.80L389.2 211.80L389.7 211.80L390.2 211.80L390.7 211.80L391.2 211.80L391.7 211.80L392.2 211.80L392.7 211.80L393.2 211.80L393.7 211.80L394.2 211.80L394.7 211.80L395.2 211.80L395.7 211.80L396.2 211.80L396.7 211.80L397.2 211.80L397.7 211.80L398.2 211.80L398.7 211.80L399.2 211.80L399.7 211.80L400.2 211.80L400.7 211.80L401.2 211.80L401.7 211.80L402.2 211.80L402.7 211.80L403.2 211.80L403.7 211.80L404.2 211.80L404.7 211.80L405.2 211.80L405.7 211.80L406.2 211.80L406.7 211.80L407.2 211.80L407.7 211.80L408.2 211.80L408.7 211.80L409.2 211.80L409.7 211.80L410.2 211.80L410.7 211.80L411.2 211.80L411.7 211.80L412.2 211.80L412.7 211.80L413.2 211.80L413.7 211.80L414.2 211.80L414.7 211.80L415.2 211.80L415.7 211.80L416.2 211.80L416.7 211.80L417.2 211.80L417.7 211.80L418.2 211.80L418.7 211.80L419.2 211.80L419.7 211.80L420.2 211.80L420.7 211.80L421.2 211.80L421.7 211.80L422.2 211.80L422.7 211.80L423.2 211.80L423.7 211.80L424.2 211.80L424.7 211.80L425.2 211.80L425.7 211.80L426.2 211.80L426.7 211.80L427.2 211.80L427.7 211.80L428.2 211.80L428.7 211.80L429.2 211.80L429.7 211.80L430.2 211.80L430.7 211.80L431.2 211.80L431.7 211.80L432.2 211.80L432.7 211.80L433.2 211.80L433.7 211.80L434.2 211.80L434.7 211.80L435.2 211.80L435.7 211.80L436.2 211.80L436.7 211.80L437.2 211.80L437.7 211.80L438.2 211.80L438.7 211.80L439.2 211.80L439.7 211.80L440.2 211.80L440.7 211.80L441.2 211.80L441.7 211.80L442.2 211.80L442.7 211.80L443.2 211.80L443.7 211.80L444.2 211.80L444.7 211.80L445.2 211.80L445.7 211.80L446.2 211.80L446.7 211.80L447.2 211.80L447.7 211.80L448.2 211.80L448.7 211.80L449.2 211.80L449.7 211.80L450.2 211.80L450.7 211.80L451.2 211.80L451.7 211.80L452.2 211.80L452.7 211.80L453.2 211.80L453.7 211.80L454.2 211.80L454.7 211.80L455.2 211.80L455.7 211.80L456.2 211.80L456.7 211.80L457.2 211.80L457.7 211.80L458.2 211.80L458.7 211.80L459.2 211.80L459.7 211.80L460.2 211.80L460.7 211.80L461.2 211.80L461.7 211.80L462.2 211.80L462.7 211.80L463.2 211.80L463.7 211.80L464.2 211.80L464.7 211.80L465.2 211.80L465.7 211.80L466.2 211.23L466.7 207.73L467.2 203.57L467.7 207.03L468.2 211.20L468.7 211.80L469.2 211.80L469.7 211.80L470.2 211.80L470.7 211.80L471.2 211.80L471.7 211.80L472.2 211.80L472.7 211.80L473.2 211.80L473.7 211.80L474.2 211.80L474.7 211.80L475.2 211.80L475.7 211.80L476.2 211.80L476.7 211.80L477.2 211.80L477.7 211.80L478.2 211.80L478.7 211.80L479.2 211.80L479.7 211.80L480.2 211.80L480.5 211.80Z" fill="#c8286e" stroke="none" stroke-width="1"/>
<text transform="translate(26.00,226.00) scale(1,1)" font-size="5.50" text-anchor="end" fill="#333333" stroke="#333333" style="stroke-width:0.12px">[0–1,500]</text>
<line x1="27.20" y1="226.20" x2="480.50" y2="226.20" stroke="#cbaccb" stroke-width="0.8"/>
<path d="M27.2 226.60L27.2 226.60L27.7 226.60L28.2 226.60L28.7 226.60L29.2 226.60L29.7 226.60L30.2 226.60L30.7 226.60L31.2 226.60L31.7 226.60L32.2 226.60L32.7 226.60L33.2 226.60L33.7 226.60L34.2 226.60L34.7 226.60L35.2 226.60L35.7 226.60L36.2 226.60L36.7 226.60L37.2 226.60L37.7 226.60L38.2 226.60L38.7 226.60L39.2 226.60L39.7 226.60L40.2 226.60L40.7 226.60L41.2 226.60L41.7 226.60L42.2 226.60L42.7 226.60L43.2 226.60L43.7 226.60L44.2 226.60L44.7 226.60L45.2 226.60L45.7 226.60L46.2 226.60L46.7 226.60L47.2 226.60L47.7 226.60L48.2 226.60L48.7 226.60L49.2 226.60L49.7 226.60L50.2 226.60L50.7 226.60L51.2 226.60L51.7 226.60L52.2 226.60L52.7 226.60L53.2 226.60L53.7 226.60L54.2 226.60L54.7 226.60L55.2 226.60L55.7 226.60L56.2 226.60L56.7 226.60L57.2 226.60L57.7 226.60L58.2 226.60L58.7 226.60L59.2 226.60L59.7 226.60L60.2 226.60L60.7 226.60L61.2 226.60L61.7 226.60L62.2 226.60L62.7 226.60L63.2 226.60L63.7 226.60L64.2 226.60L64.7 226.60L65.2 226.60L65.7 226.60L66.2 226.60L66.7 226.60L67.2 226.60L67.7 226.60L68.2 226.60L68.7 226.60L69.2 226.60L69.7 226.60L70.2 226.60L70.7 226.60L71.2 226.60L71.7 226.60L72.2 226.60L72.7 226.60L73.2 226.60L73.7 226.60L74.2 226.60L74.7 226.60L75.2 226.60L75.7 226.60L76.2 226.60L76.7 226.60L77.2 226.60L77.7 226.60L78.2 226.60L78.7 226.60L79.2 226.60L79.7 226.60L80.2 226.60L80.7 226.60L81.2 226.60L81.7 226.60L82.2 226.60L82.7 226.60L83.2 226.60L83.7 226.60L84.2 226.60L84.7 226.60L85.2 226.60L85.7 226.60L86.2 226.60L86.7 226.60L87.2 226.60L87.7 226.60L88.2 226.60L88.7 226.60L89.2 226.60L89.7 226.60L90.2 226.60L90.7 226.60L91.2 226.60L91.7 226.60L92.2 226.60L92.7 226.60L93.2 226.60L93.7 226.60L94.2 226.60L94.7 226.60L95.2 226.60L95.7 226.60L96.2 226.60L96.7 226.60L97.2 226.60L97.7 226.60L98.2 226.60L98.7 226.60L99.2 226.60L99.7 226.60L100.2 226.60L100.7 226.60L101.2 226.60L101.7 226.60L102.2 226.60L102.7 226.60L103.2 226.60L103.7 226.60L104.2 226.60L104.7 226.60L105.2 226.60L105.7 226.60L106.2 226.60L106.7 226.60L107.2 226.60L107.7 226.60L108.2 226.60L108.7 226.60L109.2 226.60L109.7 226.60L110.2 226.60L110.7 226.60L111.2 226.60L111.7 226.60L112.2 226.60L112.7 226.60L113.2 226.60L113.7 226.60L114.2 226.60L114.7 226.60L115.2 226.60L115.7 226.60L116.2 226.60L116.7 226.60L117.2 226.60L117.7 226.60L118.2 226.60L118.7 226.60L119.2 226.60L119.7 226.60L120.2 226.60L120.7 226.60L121.2 226.60L121.7 226.60L122.2 226.60L122.7 226.60L123.2 226.60L123.7 226.60L124.2 226.60L124.7 226.60L125.2 226.60L125.7 226.60L126.2 226.60L126.7 226.60L127.2 226.60L127.7 226.60L128.2 226.60L128.7 226.60L129.2 226.60L129.7 226.60L130.2 226.60L130.7 226.60L131.2 226.60L131.7 226.60L132.2 226.60L132.7 226.60L133.2 226.60L133.7 226.60L134.2 226.60L134.7 226.60L135.2 226.60L135.7 226.60L136.2 226.60L136.7 226.60L137.2 226.60L137.7 226.60L138.2 226.60L138.7 226.60L139.2 226.60L139.7 226.60L140.2 226.60L140.7 226.60L141.2 226.60L141.7 226.60L142.2 226.60L142.7 226.60L143.2 226.60L143.7 226.39L144.2 225.64L144.7 226.41L145.2 226.60L145.7 226.60L146.2 226.60L146.7 226.60L147.2 226.60L147.7 226.60L148.2 226.60L148.7 226.60L149.2 226.60L149.7 226.60L150.2 226.60L150.7 226.60L151.2 226.60L151.7 226.60L152.2 226.60L152.7 226.60L153.2 226.60L153.7 226.60L154.2 226.60L154.7 226.60L155.2 226.60L155.7 226.60L156.2 226.60L156.7 226.60L157.2 226.60L157.7 226.60L158.2 226.60L158.7 226.60L159.2 226.60L159.7 226.60L160.2 226.60L160.7 226.60L161.2 226.60L161.7 226.60L162.2 226.60L162.7 226.60L163.2 226.60L163.7 226.60L164.2 226.60L164.7 226.60L165.2 226.60L165.7 226.60L166.2 226.60L166.7 226.60L167.2 226.60L167.7 226.60L168.2 226.60L168.7 226.60L169.2 226.60L169.7 226.60L170.2 226.60L170.7 226.60L171.2 226.60L171.7 226.60L172.2 226.60L172.7 226.60L173.2 226.60L173.7 226.60L174.2 226.60L174.7 226.60L175.2 226.60L175.7 226.60L176.2 226.60L176.7 226.60L177.2 226.60L177.7 226.60L178.2 226.60L178.7 226.60L179.2 226.60L179.7 226.60L180.2 226.60L180.7 226.60L181.2 226.60L181.7 226.60L182.2 226.60L182.7 226.60L183.2 226.60L183.7 226.60L184.2 226.60L184.7 226.60L185.2 226.60L185.7 226.60L186.2 226.60L186.7 226.60L187.2 226.60L187.7 226.60L188.2 226.60L188.7 226.60L189.2 226.60L189.7 226.60L190.2 226.60L190.7 226.60L191.2 226.60L191.7 226.60L192.2 226.60L192.7 226.60L193.2 226.60L193.7 226.60L194.2 226.60L194.7 226.60L195.2 226.60L195.7 226.60L196.2 226.60L196.7 226.60L197.2 226.60L197.7 226.60L198.2 226.60L198.7 226.60L199.2 226.60L199.7 226.60L200.2 226.60L200.7 226.60L201.2 226.60L201.7 226.60L202.2 226.60L202.7 226.60L203.2 226.60L203.7 226.60L204.2 226.60L204.7 226.60L205.2 226.60L205.7 226.60L206.2 226.60L206.7 226.60L207.2 226.60L207.7 226.60L208.2 226.60L208.7 226.60L209.2 226.60L209.7 226.60L210.2 226.60L210.7 226.60L211.2 226.60L211.7 226.60L212.2 226.60L212.7 226.60L213.2 226.60L213.7 226.60L214.2 226.60L214.7 226.60L215.2 226.60L215.7 226.60L216.2 226.60L216.7 226.60L217.2 226.60L217.7 226.60L218.2 226.60L218.7 226.60L219.2 226.60L219.7 226.60L220.2 226.60L220.7 226.60L221.2 226.60L221.7 226.60L222.2 226.60L222.7 226.60L223.2 226.60L223.7 226.60L224.2 226.60L224.7 226.60L225.2 226.60L225.7 226.60L226.2 226.60L226.7 226.60L227.2 226.60L227.7 226.60L228.2 226.60L228.7 226.60L229.2 226.60L229.7 226.60L230.2 226.60L230.7 226.60L231.2 226.60L231.7 226.60L232.2 226.60L232.7 226.60L233.2 226.60L233.7 226.60L234.2 226.60L234.7 226.60L235.2 226.60L235.7 226.60L236.2 226.60L236.7 226.60L237.2 226.60L237.7 226.60L238.2 226.60L238.7 226.60L239.2 226.60L239.7 226.60L240.2 226.60L240.7 226.60L241.2 226.60L241.7 226.60L242.2 226.60L242.7 226.60L243.2 226.60L243.7 226.60L244.2 226.60L244.7 226.60L245.2 226.60L245.7 226.60L246.2 226.60L246.7 226.60L247.2 226.60L247.7 226.60L248.2 226.60L248.7 226.60L249.2 226.60L249.7 226.60L250.2 226.60L250.7 226.60L251.2 226.60L251.7 226.60L252.2 226.60L252.7 226.60L253.2 226.60L253.7 226.60L254.2 226.60L254.7 226.60L255.2 226.60L255.7 226.60L256.2 226.60L256.7 226.60L257.2 226.60L257.7 226.60L258.2 226.60L258.7 226.60L259.2 226.60L259.7 226.60L260.2 226.60L260.7 226.60L261.2 226.60L261.7 226.60L262.2 226.60L262.7 226.60L263.2 226.60L263.7 226.60L264.2 226.60L264.7 226.60L265.2 226.60L265.7 226.60L266.2 226.60L266.7 226.60L267.2 226.60L267.7 226.60L268.2 226.60L268.7 226.60L269.2 226.60L269.7 226.60L270.2 226.60L270.7 226.60L271.2 226.60L271.7 226.60L272.2 226.60L272.7 226.60L273.2 226.60L273.7 226.60L274.2 226.60L274.7 226.60L275.2 226.60L275.7 226.60L276.2 226.60L276.7 226.60L277.2 226.60L277.7 226.60L278.2 226.60L278.7 226.60L279.2 226.60L279.7 226.60L280.2 226.60L280.7 226.60L281.2 226.60L281.7 226.60L282.2 226.60L282.7 226.60L283.2 226.60L283.7 226.60L284.2 226.60L284.7 226.60L285.2 226.60L285.7 226.60L286.2 226.60L286.7 226.60L287.2 226.60L287.7 226.60L288.2 226.60L288.7 226.60L289.2 226.60L289.7 226.60L290.2 226.60L290.7 226.60L291.2 226.60L291.7 226.60L292.2 226.60L292.7 226.60L293.2 226.60L293.7 226.60L294.2 226.60L294.7 226.60L295.2 226.60L295.7 226.60L296.2 226.60L296.7 226.60L297.2 226.60L297.7 226.60L298.2 226.60L298.7 226.60L299.2 226.60L299.7 226.60L300.2 226.60L300.7 226.60L301.2 226.60L301.7 226.60L302.2 226.60L302.7 226.60L303.2 226.60L303.7 226.60L304.2 226.60L304.7 226.60L305.2 226.60L305.7 226.60L306.2 226.60L306.7 226.60L307.2 226.60L307.7 226.60L308.2 226.60L308.7 226.60L309.2 226.60L309.7 226.60L310.2 226.60L310.7 226.60L311.2 226.60L311.7 226.60L312.2 226.60L312.7 226.60L313.2 226.60L313.7 226.60L314.2 226.60L314.7 226.60L315.2 226.60L315.7 226.60L316.2 226.60L316.7 226.60L317.2 226.60L317.7 226.60L318.2 226.60L318.7 226.60L319.2 226.60L319.7 226.60L320.2 226.60L320.7 226.60L321.2 226.60L321.7 226.60L322.2 226.60L322.7 226.60L323.2 226.60L323.7 226.60L324.2 226.60L324.7 226.60L325.2 226.60L325.7 226.60L326.2 226.60L326.7 226.60L327.2 226.60L327.7 226.60L328.2 226.60L328.7 226.60L329.2 226.60L329.7 226.60L330.2 226.60L330.7 226.60L331.2 226.60L331.7 226.60L332.2 226.60L332.7 226.60L333.2 226.60L333.7 226.60L334.2 226.60L334.7 226.60L335.2 226.60L335.7 226.60L336.2 226.60L336.7 226.60L337.2 226.60L337.7 226.60L338.2 226.60L338.7 226.60L339.2 226.60L339.7 226.60L340.2 226.60L340.7 226.60L341.2 226.60L341.7 226.60L342.2 226.60L342.7 226.60L343.2 226.60L343.7 226.60L344.2 226.60L344.7 226.60L345.2 226.60L345.7 226.60L346.2 226.60L346.7 226.60L347.2 226.60L347.7 226.60L348.2 226.60L348.7 226.60L349.2 226.60L349.7 226.60L350.2 226.60L350.7 226.60L351.2 226.60L351.7 226.60L352.2 226.60L352.7 226.60L353.2 226.60L353.7 226.60L354.2 226.60L354.7 226.60L355.2 226.60L355.7 226.60L356.2 226.60L356.7 226.60L357.2 226.60L357.7 226.60L358.2 226.60L358.7 226.60L359.2 226.60L359.7 226.60L360.2 226.60L360.7 226.60L361.2 226.60L361.7 226.60L362.2 226.60L362.7 226.60L363.2 226.60L363.7 226.60L364.2 226.60L364.7 226.60L365.2 226.60L365.7 226.60L366.2 226.60L366.7 226.60L367.2 226.60L367.7 226.60L368.2 226.60L368.7 226.60L369.2 226.60L369.7 226.60L370.2 226.60L370.7 226.60L371.2 226.60L371.7 226.60L372.2 226.60L372.7 226.60L373.2 226.60L373.7 226.60L374.2 226.60L374.7 226.60L375.2 226.60L375.7 226.60L376.2 226.60L376.7 226.60L377.2 226.60L377.7 226.60L378.2 226.60L378.7 226.60L379.2 226.60L379.7 226.60L380.2 226.60L380.7 226.60L381.2 226.60L381.7 226.60L382.2 226.60L382.7 226.60L383.2 226.60L383.7 226.60L384.2 226.60L384.7 226.60L385.2 226.60L385.7 226.60L386.2 226.60L386.7 226.60L387.2 226.60L387.7 226.60L388.2 226.60L388.7 226.60L389.2 226.60L389.7 226.60L390.2 226.60L390.7 226.60L391.2 226.60L391.7 226.60L392.2 226.60L392.7 226.60L393.2 226.60L393.7 226.60L394.2 226.60L394.7 226.60L395.2 226.60L395.7 226.60L396.2 226.60L396.7 226.60L397.2 226.60L397.7 226.60L398.2 226.60L398.7 226.60L399.2 226.60L399.7 226.60L400.2 226.60L400.7 226.60L401.2 226.60L401.7 226.60L402.2 226.60L402.7 226.60L403.2 226.60L403.7 226.60L404.2 226.60L404.7 226.60L405.2 226.60L405.7 226.60L406.2 226.60L406.7 226.60L407.2 226.60L407.7 226.60L408.2 226.60L408.7 226.60L409.2 226.60L409.7 226.60L410.2 226.60L410.7 226.60L411.2 226.60L411.7 226.60L412.2 226.60L412.7 226.60L413.2 226.60L413.7 226.60L414.2 226.60L414.7 226.60L415.2 226.60L415.7 226.60L416.2 226.60L416.7 226.60L417.2 226.60L417.7 226.60L418.2 226.60L418.7 226.60L419.2 226.60L419.7 226.60L420.2 226.60L420.7 226.60L421.2 226.60L421.7 226.60L422.2 226.60L422.7 226.60L423.2 226.60L423.7 226.60L424.2 226.60L424.7 226.60L425.2 226.60L425.7 226.60L426.2 226.60L426.7 226.60L427.2 226.60L427.7 226.60L428.2 226.60L428.7 226.60L429.2 226.60L429.7 226.60L430.2 226.60L430.7 226.60L431.2 226.60L431.7 226.60L432.2 226.60L432.7 226.60L433.2 226.60L433.7 226.60L434.2 226.60L434.7 226.60L435.2 226.60L435.7 226.60L436.2 226.60L436.7 226.60L437.2 226.60L437.7 226.60L438.2 226.60L438.7 226.60L439.2 226.60L439.7 226.60L440.2 226.60L440.7 226.60L441.2 226.60L441.7 226.60L442.2 226.60L442.7 226.60L443.2 226.60L443.7 226.60L444.2 226.60L444.7 226.60L445.2 226.60L445.7 226.60L446.2 226.60L446.7 226.60L447.2 226.60L447.7 226.60L448.2 226.60L448.7 226.60L449.2 226.60L449.7 226.60L450.2 226.60L450.7 226.60L451.2 226.60L451.7 226.60L452.2 226.60L452.7 226.60L453.2 226.60L453.7 226.60L454.2 226.60L454.7 226.60L455.2 226.60L455.7 226.60L456.2 226.60L456.7 226.60L457.2 226.60L457.7 226.60L458.2 226.60L458.7 226.60L459.2 226.60L459.7 226.60L460.2 226.60L460.7 226.60L461.2 226.60L461.7 226.60L462.2 226.60L462.7 226.60L463.2 226.60L463.7 226.60L464.2 226.60L464.7 226.60L465.2 226.60L465.7 226.60L466.2 226.13L466.7 223.09L467.2 219.51L467.7 222.73L468.2 226.15L468.7 226.60L469.2 226.60L469.7 226.60L470.2 226.60L470.7 226.60L471.2 226.60L471.7 226.60L472.2 226.60L472.7 226.60L473.2 226.60L473.7 226.60L474.2 226.60L474.7 226.60L475.2 226.60L475.7 226.60L476.2 226.60L476.7 226.60L477.2 226.60L477.7 226.60L478.2 226.60L478.7 226.60L479.2 226.60L479.7 226.60L480.2 226.60L480.5 226.60Z" fill="#c8286e" stroke="none" stroke-width="1"/>
<text transform="translate(26.00,240.00) scale(1,1)" font-size="5.50" text-anchor="end" fill="#333333" stroke="#333333" style="stroke-width:0.12px">[0–40]</text>
<line x1="27.20" y1="240.05" x2="480.50" y2="240.05" stroke="#5cbf85" stroke-width="1.1"/>
<path d="M27.2 240.60L27.2 239.66L27.7 238.93L28.2 239.64L28.7 240.36L29.2 240.11L29.7 239.86L30.2 240.13L30.7 240.38L31.2 239.43L31.7 238.41L32.2 239.20L32.7 240.19L33.2 240.05L33.7 239.80L34.2 240.10L34.7 239.55L35.2 238.70L35.7 239.55L36.2 240.15L36.7 239.89L37.2 240.15L37.7 240.40L38.2 240.26L38.7 240.02L39.2 240.05L39.7 240.29L40.2 240.40L40.7 240.40L41.2 240.40L41.7 240.01L42.2 239.31L42.7 239.36L43.2 240.03L43.7 239.47L44.2 238.61L44.7 239.11L45.2 239.61L45.7 240.01L46.2 240.40L46.7 240.40L47.2 240.40L47.7 239.92L48.2 239.44L48.7 239.01L49.2 237.80L49.7 237.57L50.2 238.31L50.7 238.81L51.2 239.78L51.7 240.40L52.2 240.40L52.7 240.13L53.2 239.85L53.7 240.13L54.2 240.02L54.7 239.15L55.2 240.60L55.7 240.60L56.2 240.60L56.7 239.72L57.2 240.40L57.7 239.31L58.2 237.97L58.7 238.81L59.2 239.58L59.7 239.25L60.2 239.83L60.7 240.40L61.2 240.19L61.7 239.97L62.2 240.18L62.7 240.39L63.2 240.40L63.7 240.60L64.2 240.60L64.7 240.60L65.2 240.60L65.7 240.60L66.2 240.60L66.7 240.60L67.2 240.60L67.7 238.08L68.2 239.43L68.7 240.35L69.2 240.40L69.7 240.40L70.2 240.40L70.7 240.40L71.2 240.00L71.7 239.39L72.2 239.21L72.7 239.46L73.2 240.04L73.7 240.40L74.2 240.40L74.7 240.40L75.2 240.40L75.7 240.39L76.2 240.38L76.7 240.39L77.2 240.13L77.7 238.32L78.2 237.78L78.7 239.92L79.2 240.27L79.7 239.32L80.2 238.63L80.7 239.58L81.2 240.40L81.7 240.31L82.2 240.22L82.7 240.31L83.2 240.40L83.7 240.40L84.2 240.40L84.7 240.40L85.2 240.23L85.7 240.06L86.2 240.23L86.7 239.29L87.2 237.36L87.7 237.49L88.2 238.40L88.7 238.52L89.2 239.54L89.7 240.40L90.2 240.16L90.7 239.83L91.2 239.35L91.7 238.70L92.2 239.07L92.7 239.71L93.2 239.52L93.7 239.65L94.2 239.91L94.7 239.17L95.2 237.61L95.7 236.73L96.2 237.93L96.7 239.75L97.2 240.40L97.7 240.40L98.2 240.35L98.7 240.29L99.2 239.14L99.7 238.00L100.2 239.20L100.7 240.40L101.2 240.40L101.7 240.40L102.2 240.40L102.7 240.25L103.2 239.96L103.7 239.97L104.2 240.26L104.7 240.40L105.2 239.92L105.7 239.45L106.2 238.91L106.7 238.37L107.2 239.39L107.7 239.74L108.2 238.91L108.7 239.38L109.2 240.04L109.7 239.05L110.2 238.23L110.7 239.40L111.2 240.40L111.7 239.31L112.2 238.23L112.7 239.19L113.2 240.15L113.7 239.42L114.2 238.69L114.7 239.54L115.2 240.40L115.7 239.62L116.2 238.84L116.7 239.62L117.2 240.40L117.7 240.36L118.2 239.78L118.7 239.27L119.2 239.39L119.7 239.45L120.2 239.71L120.7 239.93L121.2 239.87L121.7 239.91L122.2 240.18L122.7 240.40L123.2 240.40L123.7 240.27L124.2 240.15L124.7 240.27L125.2 240.40L125.7 240.27L126.2 239.70L126.7 239.01L127.2 239.20L127.7 238.91L128.2 238.18L128.7 239.29L129.2 240.07L129.7 239.15L130.2 238.00L130.7 237.29L131.2 237.96L131.7 239.53L132.2 240.34L132.7 240.31L133.2 240.21L133.7 240.31L134.2 239.17L134.7 237.94L135.2 238.75L135.7 239.04L136.2 238.68L136.7 239.36L137.2 239.21L137.7 238.54L138.2 239.47L138.7 239.42L139.2 238.43L139.7 238.34L140.2 238.25L140.7 239.22L141.2 240.20L141.7 240.30L142.2 239.40L142.7 237.73L143.2 238.06L143.7 237.67L144.2 238.01L144.7 238.70L145.2 239.76L145.7 239.38L146.2 237.67L146.7 238.01L147.2 238.91L147.7 238.78L148.2 239.12L148.7 238.99L149.2 238.37L149.7 238.04L150.2 238.47L150.7 239.22L151.2 239.37L151.7 239.89L152.2 240.40L152.7 240.36L153.2 239.81L153.7 239.33L154.2 239.45L154.7 239.17L155.2 239.20L155.7 239.94L156.2 239.43L156.7 238.56L157.2 239.41L157.7 240.27L158.2 240.34L158.7 239.53L159.2 238.66L159.7 239.53L160.2 240.40L160.7 240.40L161.2 239.56L161.7 238.71L162.2 239.17L162.7 239.39L163.2 239.55L163.7 239.49L164.2 239.04L164.7 239.73L165.2 240.40L165.7 240.40L166.2 240.40L166.7 240.40L167.2 240.09L167.7 239.78L168.2 239.37L168.7 238.97L169.2 239.07L169.7 238.65L170.2 238.73L170.7 239.87L171.2 240.40L171.7 239.83L172.2 238.90L172.7 239.11L173.2 240.04L173.7 239.74L174.2 239.08L174.7 239.64L175.2 239.89L175.7 239.00L176.2 238.74L176.7 239.10L177.2 238.42L177.7 238.33L178.2 239.65L178.7 240.32L179.2 240.33L179.7 240.07L180.2 239.65L180.7 239.81L181.2 240.26L181.7 240.40L182.2 240.04L182.7 239.69L183.2 239.73L183.7 239.48L184.2 239.52L184.7 240.12L185.2 240.40L185.7 239.74L186.2 238.98L186.7 239.55L187.2 239.53L187.7 238.84L188.2 238.79L188.7 238.74L189.2 239.13L189.7 239.52L190.2 239.48L190.7 239.27L191.2 239.61L191.7 240.25L192.2 240.28L192.7 239.86L193.2 239.64L193.7 240.05L194.2 240.32L194.7 239.49L195.2 238.36L195.7 238.82L196.2 239.44L196.7 239.24L197.2 239.35L197.7 239.13L198.2 239.20L198.7 239.22L199.2 238.68L199.7 239.33L200.2 239.70L200.7 239.28L201.2 239.84L201.7 240.29L202.2 239.80L202.7 239.50L203.2 239.97L203.7 240.37L204.2 240.39L204.7 240.40L205.2 240.19L205.7 239.98L206.2 240.19L206.7 240.40L207.2 240.40L207.7 240.40L208.2 240.40L208.7 239.72L209.2 239.01L209.7 239.48L210.2 240.01L210.7 240.22L211.2 239.74L211.7 239.08L212.2 239.74L212.7 240.40L213.2 240.40L213.7 240.36L214.2 240.24L214.7 240.20L215.2 240.30L215.7 240.37L216.2 240.14L216.7 239.51L217.2 238.93L217.7 239.01L218.2 239.65L218.7 239.53L219.2 239.01L219.7 239.71L220.2 240.40L220.7 240.40L221.2 239.97L221.7 239.45L222.2 239.80L222.7 240.31L223.2 239.86L223.7 239.26L224.2 239.73L224.7 240.33L225.2 239.71L225.7 238.57L226.2 238.81L226.7 239.95L227.2 240.29L227.7 239.66L228.2 239.27L228.7 239.46L229.2 239.52L229.7 239.96L230.2 239.98L230.7 239.55L231.2 239.98L231.7 240.33L232.2 240.26L232.7 240.33L233.2 240.40L233.7 240.40L234.2 240.40L234.7 240.40L235.2 239.69L235.7 238.96L236.2 239.61L236.7 240.30L237.2 240.31L237.7 239.87L238.2 239.34L238.7 239.74L239.2 240.02L239.7 239.83L240.2 239.52L240.7 239.05L241.2 239.46L241.7 240.07L242.2 240.10L242.7 240.25L243.2 240.13L243.7 239.86L244.2 240.13L244.7 240.34L245.2 240.27L245.7 240.28L246.2 239.96L246.7 240.60L247.2 240.60L247.7 240.60L248.2 240.60L248.7 240.25L249.2 240.22L249.7 240.18L250.2 240.29L250.7 240.40L251.2 239.91L251.7 239.43L252.2 239.38L252.7 239.33L253.2 239.85L253.7 240.38L254.2 239.83L254.7 239.29L255.2 239.20L255.7 239.10L256.2 239.75L256.7 240.40L257.2 240.40L257.7 239.93L258.2 239.47L258.7 239.93L259.2 239.82L259.7 238.62L260.2 238.57L260.7 239.77L261.2 240.40L261.7 240.33L262.2 239.81L262.7 239.44L263.2 239.95L263.7 239.64L264.2 238.61L264.7 238.55L265.2 239.05L265.7 239.86L266.2 239.94L266.7 239.47L267.2 239.73L267.7 239.99L268.2 240.20L268.7 240.39L269.2 240.25L269.7 239.43L270.2 238.86L270.7 239.69L271.2 240.26L271.7 240.12L272.2 240.26L272.7 240.36L273.2 240.33L273.7 239.80L274.2 239.27L274.7 239.17L275.2 239.06L275.7 239.73L276.2 240.40L276.7 240.40L277.2 240.40L277.7 239.64L278.2 238.48L278.7 238.07L279.2 238.46L279.7 238.90L280.2 238.94L280.7 239.42L281.2 239.90L281.7 240.15L282.2 240.32L282.7 240.24L283.2 239.98L283.7 239.73L284.2 240.07L284.7 240.40L285.2 240.40L285.7 240.40L286.2 239.65L286.7 238.40L287.2 238.64L287.7 239.90L288.2 240.40L288.7 240.11L289.2 239.19L289.7 238.84L290.2 239.64L290.7 240.11L291.2 240.22L291.7 240.37L292.2 240.20L292.7 239.99L293.2 240.20L293.7 240.33L294.2 240.25L294.7 240.33L295.2 240.16L295.7 239.57L296.2 239.45L296.7 240.04L297.2 240.32L297.7 240.14L298.2 240.12L298.7 240.30L299.2 240.40L299.7 240.40L300.2 240.35L300.7 239.85L301.2 239.44L301.7 239.31L302.2 238.44L302.7 238.37L303.2 239.27L303.7 239.55L304.2 239.88L304.7 240.04L305.2 239.94L305.7 239.67L306.2 238.88L306.7 238.63L307.2 239.24L307.7 239.93L308.2 240.14L308.7 240.20L309.2 240.35L309.7 239.94L310.2 239.45L310.7 239.87L311.2 240.17L311.7 240.01L312.2 240.07L312.7 240.14L313.2 240.27L313.7 240.19L314.2 239.97L314.7 240.19L315.2 240.32L315.7 239.57L316.2 238.97L316.7 239.72L317.2 240.40L317.7 240.40L318.2 240.40L318.7 240.27L319.2 240.09L319.7 240.16L320.2 240.34L320.7 240.40L321.2 240.18L321.7 239.95L322.2 240.18L322.7 240.02L323.2 239.07L323.7 238.70L324.2 239.49L324.7 239.98L325.2 239.73L325.7 239.03L326.2 238.66L326.7 239.58L327.2 240.11L327.7 239.92L328.2 240.18L328.7 240.36L329.2 239.97L329.7 239.66L330.2 240.05L330.7 240.38L331.2 240.10L331.7 239.84L332.2 240.04L332.7 239.97L333.2 239.38L333.7 238.90L334.2 238.85L334.7 239.34L335.2 240.07L335.7 240.36L336.2 239.92L336.7 239.56L337.2 240.00L337.7 240.40L338.2 240.40L338.7 240.40L339.2 240.40L339.7 240.28L340.2 240.01L340.7 239.97L341.2 240.24L341.7 240.36L342.2 239.80L342.7 239.19L343.2 239.62L343.7 239.99L344.2 239.73L344.7 239.91L345.2 240.29L345.7 240.40L346.2 240.36L346.7 240.32L347.2 240.22L347.7 240.12L348.2 240.26L348.7 240.40L349.2 239.69L349.7 238.83L350.2 238.62L350.7 238.71L351.2 239.63L351.7 240.40L352.2 240.29L352.7 239.91L353.2 239.02L353.7 238.66L354.2 239.66L354.7 240.40L355.2 240.40L355.7 239.99L356.2 239.58L356.7 239.99L357.2 239.97L357.7 239.54L358.2 239.97L358.7 239.81L359.2 239.00L359.7 239.16L360.2 239.74L360.7 240.18L361.2 240.40L361.7 240.40L362.2 240.04L362.7 239.68L363.2 240.04L363.7 239.82L364.2 238.62L364.7 238.59L365.2 239.46L365.7 239.13L366.2 238.83L366.7 239.50L367.2 239.03L367.7 238.49L368.2 239.58L368.7 240.40L369.2 240.40L369.7 240.14L370.2 239.87L370.7 240.14L371.2 240.40L371.7 240.32L372.2 240.17L372.7 240.18L373.2 240.18L373.7 239.74L374.2 239.08L374.7 239.16L375.2 239.96L375.7 240.11L376.2 239.82L376.7 240.11L377.2 240.10L377.7 239.41L378.2 238.90L378.7 239.18L379.2 239.99L379.7 240.40L380.2 240.30L380.7 239.76L381.2 239.43L381.7 239.79L382.2 239.36L382.7 238.84L383.2 239.71L383.7 240.30L384.2 240.19L384.7 240.12L385.2 240.05L385.7 240.22L386.2 240.25L386.7 240.10L387.2 240.25L387.7 240.40L388.2 240.40L388.7 240.27L389.2 240.13L389.7 240.02L390.2 239.90L390.7 240.14L391.2 240.19L391.7 240.00L392.2 240.17L392.7 240.34L393.2 240.37L393.7 240.40L394.2 240.40L394.7 239.66L395.2 238.31L395.7 238.44L396.2 239.79L396.7 240.40L397.2 240.24L397.7 240.01L398.2 239.81L398.7 239.11L399.2 238.31L399.7 238.73L400.2 239.14L400.7 238.90L401.2 239.53L401.7 240.16L402.2 240.28L402.7 240.40L403.2 240.40L403.7 240.40L404.2 240.40L404.7 240.40L405.2 239.95L405.7 239.50L406.2 239.95L406.7 240.38L407.2 240.37L407.7 240.38L408.2 240.40L408.7 240.40L409.2 240.06L409.7 239.72L410.2 240.06L410.7 240.40L411.2 239.63L411.7 238.50L412.2 238.91L412.7 239.59L413.2 239.50L413.7 239.95L414.2 240.40L414.7 240.32L415.2 240.17L415.7 239.38L416.2 238.75L416.7 239.61L417.2 240.40L417.7 240.32L418.2 240.24L418.7 240.32L419.2 239.91L419.7 239.41L420.2 239.67L420.7 239.25L421.2 238.76L421.7 239.68L422.2 239.89L422.7 239.37L423.2 239.89L423.7 240.40L424.2 240.40L424.7 240.40L425.2 240.40L425.7 240.40L426.2 240.01L426.7 239.57L427.2 239.91L427.7 240.35L428.2 240.40L428.7 240.30L429.2 240.20L429.7 240.06L430.2 239.87L430.7 240.05L431.2 239.68L431.7 238.63L432.2 238.31L432.7 238.25L433.2 238.62L433.7 239.79L434.2 240.33L434.7 239.87L435.2 239.55L435.7 240.01L436.2 239.87L436.7 239.34L437.2 239.67L437.7 239.13L438.2 238.47L438.7 239.49L439.2 240.32L439.7 240.36L440.2 240.40L440.7 240.39L441.2 239.89L441.7 239.23L442.2 239.55L442.7 240.19L443.2 240.24L443.7 240.17L444.2 240.24L444.7 240.17L445.2 240.09L445.7 239.91L446.2 239.74L446.7 240.09L447.2 240.40L447.7 240.27L448.2 240.14L448.7 240.25L449.2 240.36L449.7 240.34L450.2 240.33L450.7 240.36L451.2 240.40L451.7 240.02L452.2 239.65L452.7 239.13L453.2 238.61L453.7 238.75L454.2 238.90L454.7 239.26L455.2 239.62L455.7 240.01L456.2 240.07L456.7 239.08L457.2 238.08L457.7 237.50L458.2 237.94L458.7 239.37L459.2 239.85L459.7 239.71L460.2 240.12L460.7 240.40L461.2 240.37L461.7 240.34L462.2 240.18L462.7 239.14L463.2 238.47L463.7 239.24L464.2 239.82L464.7 240.08L465.2 240.10L465.7 239.85L466.2 239.29L466.7 238.65L467.2 238.51L467.7 237.72L468.2 239.69L468.7 240.27L469.2 240.20L469.7 240.13L470.2 240.27L470.7 240.40L471.2 240.40L471.7 240.35L472.2 240.30L472.7 240.35L473.2 240.40L473.7 240.40L474.2 240.40L474.7 240.31L475.2 239.60L475.7 239.06L476.2 239.74L476.7 240.32L477.2 239.94L477.7 239.55L478.2 239.95L478.7 240.35L479.2 240.15L479.7 239.94L480.2 240.17L480.5 240.60Z" fill="#1f7a42" stroke="none" stroke-width="1"/>
<text transform="translate(26.00,254.90) scale(1,1)" font-size="5.50" text-anchor="end" fill="#333333" stroke="#333333" style="stroke-width:0.12px">[0–40]</text>
<line x1="27.20" y1="254.95" x2="480.50" y2="254.95" stroke="#5cbf85" stroke-width="1.1"/>
<path d="M27.2 255.50L27.2 255.30L27.7 255.30L28.2 255.10L28.7 254.89L29.2 255.10L29.7 255.23L30.2 255.16L30.7 254.62L31.2 253.48L31.7 253.50L32.2 254.70L32.7 255.10L33.2 254.91L33.7 255.10L34.2 254.95L34.7 254.59L35.2 254.87L35.7 255.15L36.2 254.70L36.7 254.25L37.2 254.77L37.7 255.01L38.2 254.71L38.7 253.82L39.2 252.02L39.7 251.67L40.2 253.13L40.7 254.67L41.2 255.30L41.7 255.30L42.2 255.30L42.7 254.88L43.2 254.20L43.7 254.30L44.2 254.92L44.7 255.18L45.2 254.32L45.7 253.50L46.2 254.40L46.7 255.28L47.2 255.30L47.7 255.30L48.2 255.30L48.7 255.30L49.2 254.39L49.7 253.48L50.2 254.39L50.7 255.30L51.2 255.30L51.7 255.30L52.2 255.30L52.7 255.30L53.2 255.30L53.7 254.26L54.2 252.83L54.7 253.48L55.2 255.50L55.7 255.50L56.2 255.50L56.7 255.30L57.2 254.82L57.7 254.34L58.2 254.82L58.7 255.30L59.2 254.64L59.7 253.91L60.2 254.43L60.7 254.98L61.2 254.89L61.7 254.94L62.2 255.08L62.7 254.71L63.2 253.97L63.7 255.50L64.2 255.50L64.7 255.50L65.2 255.50L65.7 255.50L66.2 255.50L66.7 255.50L67.2 255.50L67.7 254.52L68.2 255.04L68.7 254.29L69.2 253.05L69.7 253.83L70.2 255.07L70.7 255.30L71.2 255.30L71.7 255.29L72.2 254.31L72.7 253.26L73.2 253.33L73.7 252.90L74.2 253.16L74.7 254.33L75.2 253.82L75.7 253.06L76.2 253.98L76.7 255.06L77.2 255.27L77.7 255.06L78.2 254.59L78.7 254.50L79.2 254.99L79.7 255.30L80.2 255.30L80.7 254.82L81.2 253.82L81.7 252.73L82.2 251.65L82.7 252.13L83.2 253.22L83.7 253.44L84.2 254.42L84.7 255.30L85.2 255.18L85.7 253.99L86.2 252.34L86.7 252.66L87.2 254.28L87.7 255.12L88.2 255.27L88.7 255.28L89.2 255.30L89.7 255.30L90.2 255.30L90.7 255.00L91.2 254.71L91.7 254.71L92.2 254.71L92.7 255.00L93.2 255.30L93.7 255.30L94.2 255.30L94.7 255.30L95.2 254.88L95.7 254.46L96.2 254.88L96.7 254.98L97.2 254.66L97.7 254.97L98.2 255.13L98.7 254.99L99.2 255.15L99.7 255.11L100.2 254.92L100.7 255.11L101.2 255.30L101.7 254.19L102.2 253.07L102.7 254.19L103.2 255.30L103.7 255.30L104.2 255.29L104.7 255.28L105.2 255.27L105.7 255.29L106.2 255.30L106.7 255.30L107.2 255.30L107.7 255.30L108.2 254.91L108.7 254.52L109.2 254.23L109.7 253.89L110.2 254.27L110.7 253.79L111.2 252.98L111.7 254.07L112.2 254.40L112.7 253.72L113.2 253.30L113.7 252.77L114.2 253.29L114.7 253.18L115.2 251.83L115.7 252.05L116.2 253.96L116.7 254.66L117.2 254.27L117.7 254.79L118.2 254.77L118.7 254.24L119.2 254.65L119.7 253.93L120.2 252.91L120.7 253.78L121.2 254.41L121.7 254.69L122.2 254.78L122.7 254.47L123.2 254.53L123.7 254.58L124.2 254.94L124.7 255.30L125.2 255.30L125.7 255.30L126.2 254.89L126.7 254.48L127.2 254.72L127.7 253.99L128.2 253.12L128.7 254.21L129.2 255.24L129.7 254.54L130.2 253.79L130.7 254.53L131.2 255.26L131.7 255.28L132.2 255.30L132.7 255.17L133.2 254.68L133.7 253.82L134.2 252.55L134.7 252.47L135.2 253.28L135.7 253.77L136.2 254.14L136.7 254.37L137.2 254.79L137.7 255.21L138.2 255.26L138.7 255.28L139.2 255.01L139.7 254.78L140.2 253.91L140.7 253.07L141.2 253.10L141.7 253.06L142.2 254.10L142.7 254.84L143.2 253.95L143.7 252.82L144.2 252.42L144.7 253.71L145.2 254.73L145.7 254.36L146.2 254.04L146.7 254.70L147.2 254.81L147.7 253.51L148.2 253.20L148.7 254.42L149.2 255.15L149.7 255.23L150.2 255.30L150.7 254.86L151.2 254.41L151.7 254.86L152.2 255.30L152.7 255.30L153.2 254.91L153.7 254.52L154.2 254.91L154.7 255.26L155.2 255.22L155.7 255.26L156.2 255.30L156.7 255.30L157.2 255.30L157.7 255.30L158.2 255.30L158.7 255.30L159.2 254.84L159.7 254.38L160.2 254.26L160.7 254.14L161.2 254.50L161.7 254.85L162.2 255.07L162.7 255.26L163.2 255.25L163.7 255.28L164.2 255.14L164.7 254.98L165.2 255.14L165.7 255.30L166.2 255.30L166.7 255.05L167.2 254.80L167.7 255.05L168.2 255.14L168.7 254.98L169.2 255.14L169.7 255.30L170.2 255.13L170.7 254.88L171.2 254.88L171.7 255.06L172.2 255.22L172.7 255.30L173.2 255.30L173.7 255.15L174.2 254.99L174.7 255.10L175.2 255.17L175.7 255.13L176.2 255.17L176.7 255.26L177.2 254.75L177.7 254.18L178.2 254.14L178.7 253.81L179.2 254.06L179.7 254.96L180.2 254.98L180.7 254.67L181.2 254.98L181.7 255.30L182.2 254.51L182.7 253.73L183.2 254.51L183.7 255.30L184.2 255.08L184.7 254.85L185.2 254.48L185.7 253.76L186.2 254.01L186.7 254.81L187.2 255.01L187.7 255.06L188.2 254.34L188.7 253.65L189.2 254.52L189.7 255.30L190.2 255.13L190.7 254.97L191.2 255.13L191.7 255.30L192.2 254.61L192.7 253.26L193.2 253.29L193.7 254.64L194.2 255.30L194.7 255.00L195.2 254.28L195.7 254.14L196.2 254.87L196.7 254.72L197.2 253.75L197.7 253.79L198.2 254.64L198.7 254.69L199.2 254.35L199.7 254.82L200.2 254.69L200.7 254.08L201.2 254.69L201.7 255.30L202.2 254.95L202.7 254.57L203.2 254.88L203.7 255.27L204.2 255.26L204.7 255.21L205.2 254.86L205.7 254.50L206.2 254.79L206.7 254.66L207.2 254.36L207.7 254.89L208.2 255.30L208.7 255.30L209.2 255.21L209.7 255.12L210.2 255.21L210.7 255.29L211.2 255.09L211.7 254.56L212.2 254.40L212.7 254.80L213.2 254.83L213.7 254.79L214.2 255.11L214.7 254.59L215.2 253.91L215.7 254.41L216.2 254.91L216.7 254.70L217.2 254.49L217.7 254.68L218.2 254.41L218.7 253.90L219.2 253.91L219.7 254.28L220.2 254.93L220.7 255.30L221.2 255.27L221.7 255.19L222.2 255.11L222.7 255.15L223.2 254.72L223.7 253.76L224.2 253.74L224.7 254.01L225.2 253.89L225.7 254.63L226.2 254.82L226.7 254.11L227.2 254.17L227.7 254.69L228.2 255.01L228.7 255.10L229.2 254.54L229.7 253.99L230.2 254.54L230.7 255.10L231.2 255.20L231.7 254.86L232.2 254.20L232.7 253.77L233.2 253.51L233.7 254.00L234.2 254.09L234.7 253.32L235.2 253.72L235.7 254.86L236.2 255.06L236.7 254.82L237.2 255.06L237.7 255.15L238.2 255.00L238.7 254.81L239.2 254.62L239.7 254.96L240.2 255.30L240.7 255.30L241.2 255.30L241.7 255.16L242.2 254.55L242.7 253.63L243.2 253.62L243.7 254.64L244.2 254.78L244.7 254.24L245.2 254.19L245.7 254.33L246.2 254.86L246.7 255.50L247.2 255.50L247.7 255.50L248.2 255.50L248.7 254.93L249.2 255.12L249.7 255.19L250.2 255.08L250.7 254.53L251.2 253.22L251.7 253.00L252.2 254.27L252.7 255.16L253.2 255.30L253.7 255.03L254.2 254.76L254.7 255.03L255.2 255.30L255.7 255.30L256.2 255.30L256.7 255.30L257.2 255.30L257.7 255.30L258.2 254.91L258.7 254.52L259.2 254.72L259.7 254.78L260.2 254.25L260.7 253.73L261.2 253.94L261.7 254.56L262.2 255.07L262.7 255.30L263.2 255.30L263.7 255.30L264.2 255.30L264.7 255.28L265.2 255.27L265.7 255.28L266.2 255.30L266.7 255.30L267.2 255.30L267.7 255.22L268.2 255.15L268.7 254.95L269.2 254.01L269.7 253.55L270.2 254.56L270.7 255.30L271.2 255.30L271.7 255.17L272.2 254.74L272.7 254.55L273.2 254.97L273.7 255.23L274.2 255.18L274.7 254.77L275.2 254.35L275.7 254.29L276.2 254.03L276.7 254.34L277.2 255.08L277.7 255.28L278.2 255.20L278.7 254.43L279.2 253.32L279.7 253.68L280.2 254.33L280.7 253.48L281.2 253.12L281.7 254.17L282.2 254.70L282.7 253.88L283.2 253.48L283.7 253.89L284.2 253.69L284.7 253.95L285.2 254.82L285.7 254.96L286.2 254.80L286.7 255.05L287.2 255.30L287.7 254.75L288.2 253.97L288.7 254.14L289.2 254.23L289.7 254.08L290.2 254.77L290.7 255.24L291.2 255.16L291.7 255.04L292.2 254.94L292.7 255.12L293.2 255.30L293.7 255.28L294.2 255.26L294.7 255.19L295.2 255.12L295.7 255.21L296.2 255.30L296.7 255.29L297.2 255.16L297.7 254.68L298.2 254.45L298.7 254.94L299.2 254.52L299.7 253.20L300.2 253.08L300.7 253.56L301.2 253.39L301.7 253.68L302.2 254.28L302.7 254.37L303.2 254.83L303.7 255.28L304.2 255.21L304.7 255.14L305.2 255.14L305.7 255.07L306.2 254.96L306.7 255.01L307.2 255.20L307.7 255.30L308.2 255.29L308.7 255.28L309.2 255.29L309.7 255.30L310.2 255.30L310.7 254.89L311.2 254.11L311.7 254.15L312.2 254.93L312.7 254.60L313.2 253.56L313.7 253.92L314.2 254.58L314.7 254.54L315.2 254.92L315.7 255.27L316.2 254.94L316.7 254.46L317.2 254.61L317.7 254.98L318.2 254.32L318.7 253.70L319.2 254.51L319.7 255.26L320.2 255.30L320.7 255.30L321.2 255.30L321.7 255.30L322.2 255.30L322.7 254.93L323.2 254.40L323.7 254.33L324.2 254.43L324.7 254.34L325.2 254.38L325.7 254.89L326.2 255.22L326.7 254.48L327.2 253.82L327.7 254.59L328.2 255.19L328.7 254.84L329.2 254.71L329.7 255.06L330.2 255.30L330.7 255.17L331.2 255.04L331.7 255.17L332.2 255.30L332.7 255.08L333.2 254.19L333.7 253.43L334.2 253.99L334.7 254.98L335.2 254.87L335.7 254.45L336.2 254.87L336.7 254.88L337.2 254.07L337.7 253.38L338.2 252.71L338.7 252.30L339.2 252.99L339.7 254.52L340.2 255.21L340.7 254.83L341.2 254.62L341.7 254.61L342.2 254.50L342.7 254.90L343.2 255.21L343.7 255.11L344.2 255.16L344.7 254.56L345.2 253.98L345.7 254.66L346.2 255.30L346.7 255.30L347.2 254.71L347.7 254.13L348.2 254.71L348.7 255.30L349.2 254.76L349.7 254.22L350.2 254.76L350.7 254.83L351.2 254.36L351.7 254.25L352.2 254.14L352.7 254.34L353.2 254.54L353.7 254.62L354.2 254.70L354.7 255.00L355.2 255.29L355.7 255.19L356.2 255.11L356.7 254.84L357.2 254.38L357.7 254.48L358.2 254.92L358.7 255.20L359.2 255.30L359.7 255.30L360.2 255.30L360.7 255.30L361.2 254.54L361.7 253.78L362.2 254.47L362.7 255.16L363.2 255.23L363.7 255.30L364.2 255.30L364.7 255.28L365.2 255.23L365.7 255.24L366.2 255.28L366.7 255.18L367.2 254.43L367.7 253.25L368.2 253.34L368.7 254.08L369.2 253.62L369.7 253.61L370.2 254.73L370.7 255.30L371.2 255.30L371.7 255.30L372.2 254.57L372.7 253.80L373.2 254.35L373.7 254.96L374.2 255.14L374.7 255.30L375.2 255.08L375.7 254.87L376.2 254.40L376.7 253.37L377.2 252.65L377.7 252.51L378.2 253.35L378.7 254.36L379.2 254.18L379.7 254.21L380.2 254.94L380.7 255.29L381.2 254.79L381.7 254.22L382.2 254.20L382.7 254.32L383.2 254.85L383.7 254.90L384.2 254.49L384.7 254.90L385.2 255.30L385.7 255.26L386.2 255.22L386.7 255.26L387.2 255.30L387.7 255.30L388.2 255.13L388.7 254.68L389.2 254.56L389.7 254.92L390.2 255.11L390.7 254.94L391.2 254.77L391.7 255.04L392.2 255.20L392.7 254.95L393.2 254.52L393.7 253.57L394.2 252.68L394.7 252.57L395.2 253.11L395.7 253.45L396.2 253.50L396.7 254.27L397.2 254.90L397.7 254.54L398.2 254.15L398.7 254.69L399.2 254.40L399.7 253.55L400.2 254.42L400.7 255.30L401.2 255.30L401.7 254.70L402.2 254.10L402.7 254.70L403.2 254.66L403.7 253.50L404.2 253.61L404.7 254.44L405.2 254.64L405.7 254.84L406.2 254.34L406.7 253.38L407.2 253.82L407.7 254.91L408.2 255.30L408.7 254.65L409.2 253.65L409.7 253.94L410.2 254.21L410.7 253.82L411.2 254.56L411.7 255.30L412.2 255.30L412.7 254.89L413.2 254.48L413.7 254.89L414.2 255.25L414.7 255.12L415.2 254.75L415.7 254.55L416.2 254.97L416.7 255.30L417.2 255.22L417.7 255.14L418.2 255.22L418.7 254.55L419.2 253.81L419.7 254.25L420.2 254.67L420.7 254.99L421.2 255.30L421.7 255.30L422.2 255.00L422.7 254.27L423.2 254.12L423.7 254.86L424.2 255.30L424.7 254.88L425.2 253.76L425.7 253.49L426.2 254.30L426.7 254.68L427.2 254.79L427.7 254.04L428.2 253.38L428.7 254.17L429.2 254.77L429.7 255.04L430.2 255.30L430.7 255.30L431.2 255.30L431.7 254.86L432.2 254.38L432.7 254.76L433.2 255.23L433.7 255.28L434.2 255.30L434.7 254.69L435.2 254.07L435.7 254.69L436.2 254.45L436.7 253.60L437.2 254.45L437.7 255.30L438.2 254.63L438.7 253.83L439.2 254.36L439.7 255.17L440.2 255.27L440.7 254.46L441.2 253.70L441.7 254.42L442.2 255.11L442.7 255.17L443.2 254.34L443.7 253.49L444.2 254.41L444.7 255.08L445.2 254.11L445.7 253.56L446.2 254.49L446.7 255.27L447.2 255.30L447.7 255.30L448.2 255.30L448.7 255.30L449.2 254.91L449.7 254.53L450.2 254.91L450.7 255.30L451.2 255.30L451.7 255.30L452.2 255.30L452.7 255.30L453.2 254.85L453.7 254.39L454.2 254.81L454.7 255.24L455.2 254.81L455.7 254.43L456.2 254.47L456.7 254.19L457.2 254.32L457.7 255.01L458.2 255.30L458.7 255.30L459.2 255.30L459.7 255.30L460.2 255.30L460.7 255.29L461.2 254.93L461.7 254.57L462.2 254.90L462.7 255.22L463.2 255.26L463.7 255.30L464.2 255.30L464.7 254.45L465.2 253.60L465.7 254.32L466.2 254.81L466.7 254.38L467.2 250.71L467.7 250.24L468.2 253.71L468.7 253.45L469.2 254.35L469.7 254.99L470.2 254.04L470.7 253.05L471.2 252.89L471.7 253.32L472.2 253.97L472.7 254.67L473.2 255.15L473.7 255.30L474.2 255.30L474.7 255.30L475.2 255.30L475.7 254.71L476.2 254.12L476.7 254.16L477.2 254.16L477.7 254.68L478.2 255.27L478.7 255.30L479.2 254.37L479.7 252.66L480.2 252.82L480.5 255.50Z" fill="#1f7a42" stroke="none" stroke-width="1"/>
<text transform="translate(26.00,269.90) scale(1,1)" font-size="5.50" text-anchor="end" fill="#333333" stroke="#333333" style="stroke-width:0.12px">[0–50]</text>
<path d="M27.2 270.50L27.2 269.37L27.7 269.05L28.2 269.06L28.7 269.05L29.2 269.04L29.7 268.83L30.2 268.88L30.7 269.30L31.2 269.08L31.7 268.82L32.2 268.85L32.7 268.77L33.2 269.23L33.7 269.70L34.2 269.65L34.7 269.60L35.2 269.65L35.7 269.70L36.2 269.35L36.7 269.00L37.2 269.35L37.7 269.70L38.2 269.70L38.7 269.70L39.2 269.53L39.7 269.05L40.2 268.91L40.7 269.39L41.2 269.50L41.7 269.29L42.2 269.50L42.7 269.70L43.2 269.70L43.7 269.58L44.2 269.41L44.7 269.46L45.2 269.30L45.7 269.04L46.2 269.38L46.7 269.70L47.2 269.67L47.7 269.25L48.2 268.63L48.7 268.55L49.2 269.02L49.7 269.50L50.2 269.47L50.7 268.78L51.2 268.51L51.7 269.14L52.2 269.64L52.7 269.68L53.2 269.69L53.7 269.67L54.2 269.65L54.7 269.62L55.2 270.50L55.7 270.50L56.2 270.50L56.7 269.15L57.2 269.21L57.7 268.89L58.2 268.47L58.7 268.81L59.2 269.30L59.7 269.39L60.2 269.50L60.7 269.67L61.2 269.70L61.7 269.40L62.2 269.10L62.7 269.40L63.2 269.70L63.7 270.50L64.2 270.50L64.7 270.50L65.2 270.50L65.7 270.50L66.2 270.50L66.7 270.50L67.2 270.50L67.7 269.70L68.2 269.44L68.7 269.18L69.2 269.01L69.7 268.84L70.2 268.92L70.7 268.85L71.2 268.92L71.7 268.92L72.2 268.73L72.7 268.90L73.2 269.18L73.7 269.12L74.2 268.93L74.7 269.31L75.2 269.57L75.7 269.43L76.2 269.57L76.7 269.69L77.2 269.25L77.7 268.82L78.2 269.26L78.7 269.49L79.2 269.28L79.7 269.12L80.2 268.96L80.7 269.04L81.2 269.12L81.7 269.24L82.2 269.36L82.7 269.53L83.2 269.70L83.7 269.58L84.2 269.46L84.7 269.44L85.2 269.26L85.7 269.23L86.2 269.54L86.7 269.70L87.2 269.66L87.7 269.54L88.2 269.50L88.7 269.47L89.2 269.41L89.7 269.42L90.2 269.35L90.7 269.05L91.2 268.90L91.7 269.33L92.2 269.69L92.7 269.55L93.2 269.35L93.7 269.35L94.2 269.46L94.7 269.41L95.2 268.83L95.7 268.42L96.2 268.93L96.7 269.52L97.2 269.65L97.7 269.60L98.2 269.13L98.7 268.72L99.2 268.95L99.7 269.15L100.2 269.43L100.7 269.70L101.2 269.29L101.7 268.88L102.2 269.28L102.7 269.25L103.2 268.51L103.7 268.64L104.2 269.26L104.7 269.36L105.2 269.22L105.7 269.14L106.2 269.32L106.7 269.51L107.2 269.14L107.7 268.88L108.2 269.34L108.7 269.70L109.2 269.42L109.7 268.99L110.2 269.02L110.7 269.01L111.2 268.82L111.7 268.78L112.2 268.84L112.7 269.22L113.2 269.46L113.7 269.53L114.2 269.67L114.7 269.70L115.2 269.70L115.7 269.38L116.2 268.85L116.7 268.96L117.2 269.31L117.7 269.35L118.2 269.52L118.7 269.69L119.2 269.70L119.7 269.70L120.2 269.69L120.7 269.54L121.2 269.42L121.7 269.57L122.2 269.70L122.7 269.70L123.2 269.70L123.7 269.70L124.2 269.52L124.7 269.00L125.2 268.84L125.7 269.34L126.2 269.66L126.7 269.24L127.2 268.81L127.7 268.87L128.2 268.45L128.7 268.36L129.2 269.23L129.7 269.70L130.2 269.47L130.7 269.25L131.2 269.47L131.7 269.70L132.2 269.44L132.7 268.82L133.2 268.71L133.7 268.46L134.2 266.37L134.7 266.28L135.2 268.15L135.7 269.18L136.2 269.13L136.7 269.03L137.2 269.30L137.7 269.65L138.2 269.70L138.7 269.23L139.2 268.66L139.7 269.04L140.2 269.60L140.7 269.59L141.2 269.49L141.7 269.59L142.2 269.64L142.7 269.58L143.2 269.55L143.7 269.47L144.2 269.36L144.7 269.34L145.2 269.54L145.7 269.59L146.2 269.46L146.7 269.11L147.2 268.79L147.7 269.26L148.2 269.70L148.7 269.40L149.2 268.78L149.7 268.75L150.2 269.38L150.7 269.32L151.2 268.95L151.7 269.32L152.2 269.45L152.7 269.16L153.2 269.37L153.7 269.32L154.2 268.38L154.7 267.72L155.2 267.73L155.7 268.46L156.2 269.00L156.7 269.45L157.2 269.70L157.7 269.67L158.2 269.63L158.7 269.51L159.2 269.38L159.7 269.29L160.2 269.15L160.7 269.02L161.2 268.95L161.7 269.21L162.2 269.35L162.7 269.33L163.2 269.56L163.7 269.64L164.2 269.49L164.7 269.44L165.2 269.44L165.7 269.01L166.2 268.82L166.7 269.34L167.2 269.70L167.7 269.70L168.2 269.70L168.7 269.69L169.2 269.67L169.7 269.68L170.2 269.69L170.7 269.69L171.2 269.58L171.7 269.32L172.2 269.28L172.7 269.53L173.2 269.31L173.7 268.95L174.2 269.01L174.7 269.07L175.2 269.19L175.7 268.93L176.2 268.52L176.7 268.48L177.2 268.28L177.7 268.34L178.2 269.00L178.7 267.84L179.2 268.48L179.7 268.05L180.2 268.33L180.7 268.65L181.2 268.72L181.7 269.16L182.2 269.48L182.7 269.27L183.2 268.73L183.7 268.66L184.2 269.27L184.7 269.63L185.2 269.47L185.7 269.05L186.2 268.75L186.7 268.77L187.2 269.17L187.7 269.58L188.2 269.56L188.7 269.18L189.2 269.08L189.7 269.46L190.2 269.70L190.7 269.54L191.2 269.37L191.7 269.12L192.2 268.90L192.7 269.31L193.2 269.70L193.7 269.68L194.2 269.67L194.7 269.49L195.2 269.31L195.7 269.14L196.2 268.97L196.7 269.33L197.2 269.60L197.7 269.20L198.2 268.96L198.7 268.90L199.2 268.78L199.7 269.25L200.2 269.70L200.7 269.45L201.2 269.19L201.7 269.42L202.2 269.54L202.7 269.37L203.2 269.01L203.7 268.78L204.2 269.13L204.7 269.00L205.2 268.56L205.7 268.92L206.2 269.51L206.7 269.39L207.2 268.74L207.7 268.58L208.2 269.07L208.7 269.16L209.2 268.80L209.7 268.91L210.2 269.25L210.7 269.49L211.2 269.64L211.7 269.31L212.2 268.90L212.7 269.22L213.2 269.64L213.7 269.63L214.2 269.59L214.7 269.65L215.2 269.70L215.7 269.36L216.2 269.01L216.7 269.36L217.2 269.38L217.7 269.05L218.2 269.27L218.7 269.52L219.2 269.30L219.7 268.90L220.2 268.57L220.7 268.59L221.2 269.18L221.7 269.37L222.2 268.74L222.7 268.56L223.2 269.24L223.7 269.57L224.2 269.34L224.7 268.94L225.2 268.30L225.7 268.36L226.2 269.24L226.7 269.56L227.2 269.06L227.7 268.84L228.2 268.88L228.7 268.57L229.2 268.82L229.7 269.34L230.2 269.41L230.7 269.15L231.2 268.86L231.7 269.22L232.2 269.66L232.7 269.70L233.2 269.70L233.7 269.49L234.2 269.29L234.7 269.39L235.2 269.45L235.7 269.51L236.2 269.63L236.7 269.56L237.2 269.47L237.7 269.51L238.2 269.53L238.7 269.61L239.2 269.68L239.7 269.69L240.2 269.70L240.7 269.70L241.2 269.70L241.7 269.70L242.2 269.70L242.7 269.32L243.2 268.89L243.7 269.22L244.2 269.42L244.7 269.24L245.2 269.20L245.7 268.81L246.2 268.72L246.7 270.50L247.2 270.50L247.7 270.50L248.2 270.50L248.7 269.21L249.2 269.60L249.7 269.48L250.2 269.27L250.7 269.07L251.2 268.46L251.7 268.45L252.2 269.27L252.7 269.59L253.2 269.31L253.7 269.26L254.2 269.34L254.7 269.30L255.2 269.50L255.7 269.67L256.2 269.63L256.7 269.67L257.2 269.64L257.7 269.57L258.2 269.56L258.7 269.55L259.2 269.63L259.7 269.51L260.2 269.01L260.7 268.69L261.2 268.81L261.7 269.16L262.2 269.19L262.7 268.79L263.2 268.84L263.7 269.19L264.2 269.05L264.7 269.01L265.2 269.43L265.7 269.45L266.2 269.19L266.7 269.45L267.2 269.51L267.7 268.90L268.2 268.66L268.7 269.22L269.2 269.26L269.7 268.98L270.2 269.37L270.7 269.68L271.2 269.49L271.7 269.18L272.2 269.20L272.7 269.46L273.2 269.52L273.7 269.54L274.2 269.50L274.7 269.30L275.2 269.32L275.7 269.58L276.2 269.68L276.7 269.67L277.2 269.28L277.7 268.79L278.2 268.88L278.7 269.18L279.2 269.44L279.7 269.22L280.2 268.91L280.7 269.20L281.2 269.44L281.7 269.22L282.2 269.01L282.7 269.25L283.2 269.41L283.7 269.27L284.2 269.16L284.7 269.29L285.2 269.58L285.7 269.70L286.2 269.70L286.7 269.63L287.2 269.53L287.7 269.57L288.2 269.67L288.7 269.70L289.2 269.70L289.7 269.61L290.2 269.51L290.7 269.45L291.2 269.15L291.7 269.05L292.2 269.21L292.7 269.26L293.2 269.49L293.7 269.26L294.2 268.81L294.7 269.23L295.2 269.68L295.7 269.41L296.2 268.86L296.7 268.90L297.2 269.35L297.7 269.49L298.2 269.58L298.7 269.69L299.2 269.55L299.7 269.40L300.2 269.47L300.7 269.47L301.2 269.50L301.7 269.26L302.2 268.79L302.7 268.64L303.2 268.38L303.7 268.13L304.2 268.54L304.7 269.29L305.2 269.63L305.7 269.66L306.2 269.70L306.7 269.35L307.2 268.98L307.7 269.32L308.2 269.68L308.7 269.49L309.2 269.03L309.7 269.01L310.2 269.11L310.7 269.00L311.2 269.35L311.7 269.70L312.2 269.26L312.7 268.54L313.2 268.70L313.7 269.42L314.2 269.70L314.7 269.70L315.2 269.61L315.7 269.34L316.2 269.24L316.7 269.51L317.2 269.70L317.7 269.70L318.2 269.70L318.7 269.70L319.2 269.59L319.7 269.04L320.2 268.73L320.7 269.15L321.2 269.46L321.7 269.58L322.2 269.70L322.7 269.43L323.2 268.85L323.7 268.76L324.2 269.26L324.7 269.22L325.2 268.85L325.7 268.97L326.2 269.13L326.7 269.43L327.2 269.24L327.7 268.77L328.2 268.81L328.7 268.84L329.2 269.15L329.7 269.48L330.2 269.59L330.7 269.53L331.2 268.97L331.7 268.75L332.2 269.31L332.7 269.69L333.2 269.67L333.7 269.69L334.2 269.70L334.7 269.32L335.2 268.94L335.7 269.31L336.2 269.42L336.7 269.06L337.2 269.24L337.7 269.61L338.2 269.51L338.7 269.17L339.2 269.14L339.7 269.29L340.2 269.41L340.7 269.33L341.2 269.16L341.7 269.38L342.2 269.60L342.7 269.65L343.2 269.54L343.7 269.28L344.2 269.34L344.7 269.60L345.2 269.70L345.7 269.34L346.2 268.95L346.7 269.27L347.2 269.64L347.7 269.65L348.2 269.68L348.7 269.69L349.2 269.68L349.7 269.69L350.2 269.70L350.7 269.70L351.2 269.51L351.7 269.31L352.2 269.12L352.7 268.95L353.2 269.15L353.7 269.29L354.2 268.95L354.7 268.35L355.2 268.49L355.7 269.33L356.2 269.70L356.7 269.40L357.2 268.97L357.7 268.89L358.2 269.01L358.7 269.01L359.2 268.77L359.7 268.83L360.2 269.25L360.7 269.55L361.2 269.63L361.7 269.64L362.2 269.64L362.7 269.66L363.2 269.64L363.7 269.58L364.2 269.64L364.7 269.25L365.2 268.81L365.7 269.25L366.2 269.37L366.7 268.69L367.2 268.65L367.7 269.21L368.2 269.17L368.7 268.97L369.2 269.38L369.7 269.70L370.2 269.55L370.7 269.39L371.2 269.33L371.7 268.95L372.2 268.85L372.7 268.96L373.2 268.63L373.7 268.75L374.2 269.29L374.7 269.43L375.2 269.38L375.7 269.55L376.2 269.70L376.7 269.70L377.2 269.66L377.7 269.63L378.2 269.52L378.7 268.98L379.2 268.68L379.7 268.17L380.2 267.76L380.7 269.36L381.2 269.30L381.7 269.53L382.2 269.69L382.7 269.34L383.2 268.76L383.7 268.87L384.2 268.99L384.7 268.79L385.2 269.25L385.7 269.70L386.2 269.70L386.7 269.48L387.2 269.25L387.7 269.39L388.2 269.52L388.7 269.46L389.2 269.18L389.7 269.13L390.2 269.47L390.7 269.66L391.2 269.27L391.7 268.78L392.2 269.12L392.7 269.62L393.2 269.45L393.7 269.05L394.2 269.16L394.7 269.56L395.2 269.70L395.7 269.70L396.2 269.24L396.7 268.32L397.2 268.23L397.7 268.83L398.2 269.16L398.7 269.45L399.2 269.33L399.7 269.03L400.2 269.28L400.7 269.44L401.2 269.36L401.7 269.42L402.2 269.41L402.7 269.23L403.2 269.33L403.7 269.61L404.2 269.37L404.7 268.96L405.2 269.20L405.7 269.61L406.2 269.70L406.7 269.70L407.2 269.33L407.7 268.56L408.2 268.53L408.7 269.22L409.2 269.50L409.7 269.28L410.2 268.73L410.7 268.56L411.2 268.84L411.7 268.89L412.2 269.30L412.7 269.67L413.2 269.42L413.7 268.91L414.2 268.86L414.7 269.37L415.2 269.55L415.7 269.14L416.2 268.93L416.7 269.33L417.2 269.58L417.7 269.25L418.2 268.99L418.7 269.32L419.2 269.66L419.7 269.48L420.2 269.26L420.7 269.37L421.2 269.30L421.7 269.22L422.2 269.10L422.7 268.91L423.2 269.29L423.7 269.66L424.2 269.66L424.7 269.46L425.2 269.24L425.7 269.42L426.2 269.66L426.7 269.49L427.2 268.80L427.7 268.10L428.2 268.33L428.7 269.25L429.2 269.70L429.7 269.59L430.2 269.41L430.7 269.25L431.2 268.97L431.7 268.88L432.2 269.10L432.7 269.39L433.2 269.61L433.7 269.59L434.2 269.17L434.7 268.83L435.2 269.11L435.7 269.56L436.2 269.55L436.7 269.21L437.2 269.08L437.7 269.31L438.2 269.48L438.7 269.36L439.2 269.38L439.7 269.23L440.2 268.96L440.7 269.33L441.2 269.65L441.7 269.42L442.2 269.17L442.7 269.16L443.2 269.13L443.7 269.17L444.2 269.10L444.7 268.64L445.2 268.76L445.7 269.42L446.2 269.69L446.7 269.60L447.2 269.51L447.7 269.58L448.2 269.38L448.7 269.13L449.2 269.26L449.7 269.36L450.2 269.15L450.7 268.94L451.2 269.29L451.7 269.38L452.2 269.13L452.7 269.43L453.2 269.69L453.7 269.42L454.2 269.09L454.7 269.32L455.2 269.64L455.7 269.59L456.2 269.52L456.7 269.60L457.2 269.68L457.7 269.32L458.2 268.96L458.7 269.15L459.2 269.34L459.7 269.52L460.2 269.70L460.7 269.70L461.2 269.70L461.7 269.70L462.2 269.68L462.7 269.66L463.2 269.67L463.7 269.69L464.2 269.60L464.7 269.49L465.2 269.30L465.7 269.10L466.2 268.94L466.7 268.49L467.2 268.09L467.7 268.01L468.2 268.43L468.7 269.01L469.2 269.09L469.7 269.48L470.2 269.67L470.7 269.70L471.2 269.49L471.7 269.20L472.2 269.33L472.7 269.61L473.2 269.67L473.7 269.68L474.2 269.26L474.7 268.55L475.2 268.34L475.7 268.67L476.2 268.85L476.7 268.58L477.2 268.46L477.7 268.71L478.2 269.27L478.7 269.64L479.2 269.66L479.7 269.68L480.2 269.69L480.5 270.50Z" fill="#2b2b88" stroke="none" stroke-width="1"/>
<text transform="translate(26.00,284.90) scale(1,1)" font-size="5.50" text-anchor="end" fill="#333333" stroke="#333333" style="stroke-width:0.12px">[0–50]</text>
<path d="M27.2 285.50L27.2 284.70L27.7 284.27L28.2 283.84L28.7 283.93L29.2 284.03L29.7 283.91L30.2 283.66L30.7 283.98L31.2 284.57L31.7 284.70L32.2 284.55L32.7 284.34L33.2 284.42L33.7 284.28L34.2 283.88L34.7 283.82L35.2 283.96L35.7 284.35L36.2 284.48L36.7 284.33L37.2 284.40L37.7 284.44L38.2 284.49L38.7 284.18L39.2 283.84L39.7 284.25L40.2 284.64L40.7 284.68L41.2 284.70L41.7 284.70L42.2 284.57L42.7 284.19L43.2 283.92L43.7 283.87L44.2 284.03L44.7 284.45L45.2 284.49L45.7 284.29L46.2 284.49L46.7 284.51L47.2 284.34L47.7 284.24L48.2 283.78L48.7 283.36L49.2 283.64L49.7 284.30L50.2 284.29L50.7 284.01L51.2 284.09L51.7 283.74L52.2 283.65L52.7 284.16L53.2 284.24L53.7 284.15L54.2 283.94L54.7 283.65L55.2 285.50L55.7 285.50L56.2 285.50L56.7 284.40L57.2 284.15L57.7 284.12L58.2 284.08L58.7 284.39L59.2 284.39L59.7 284.05L60.2 284.32L60.7 284.67L61.2 284.70L61.7 284.70L62.2 284.66L62.7 284.62L63.2 284.36L63.7 285.50L64.2 285.50L64.7 285.50L65.2 285.50L65.7 285.50L66.2 285.50L66.7 285.50L67.2 285.50L67.7 284.21L68.2 283.63L68.7 283.69L69.2 284.38L69.7 284.25L70.2 283.73L70.7 284.10L71.2 284.61L71.7 284.50L72.2 284.32L72.7 284.51L73.2 284.70L73.7 284.49L74.2 284.15L74.7 284.23L75.2 284.48L75.7 284.48L76.2 284.48L76.7 284.57L77.2 284.66L77.7 284.70L78.2 284.70L78.7 284.62L79.2 284.53L79.7 284.62L80.2 284.23L80.7 283.76L81.2 284.12L81.7 284.48L82.2 284.56L82.7 284.65L83.2 284.67L83.7 284.70L84.2 284.54L84.7 283.95L85.2 283.68L85.7 284.27L86.2 284.67L86.7 284.64L87.2 284.30L87.7 283.97L88.2 284.32L88.7 284.67L89.2 284.57L89.7 284.48L90.2 284.58L90.7 284.68L91.2 284.58L91.7 284.48L92.2 284.58L92.7 284.69L93.2 284.57L93.7 284.43L94.2 284.54L94.7 284.49L95.2 284.37L95.7 284.39L96.2 284.13L96.7 284.04L97.2 284.45L97.7 284.70L98.2 284.70L98.7 284.58L99.2 284.46L99.7 284.51L100.2 284.56L100.7 284.17L101.2 283.78L101.7 284.02L102.2 284.12L102.7 284.12L103.2 284.28L103.7 284.39L104.2 284.59L104.7 284.68L105.2 284.66L105.7 284.68L106.2 284.70L106.7 284.33L107.2 283.95L107.7 284.12L108.2 284.03L108.7 283.98L109.2 284.44L109.7 284.69L110.2 284.64L110.7 284.36L111.2 283.71L111.7 283.15L112.2 283.05L112.7 283.30L113.2 283.63L113.7 283.96L114.2 284.42L114.7 284.67L115.2 284.28L115.7 283.91L116.2 284.10L116.7 284.34L117.2 284.53L117.7 284.70L118.2 284.57L118.7 284.40L119.2 284.48L119.7 284.65L120.2 284.23L120.7 283.41L121.2 283.40L121.7 284.10L122.2 284.58L122.7 284.70L123.2 284.70L123.7 284.70L124.2 284.70L124.7 284.70L125.2 284.49L125.7 284.25L126.2 284.01L126.7 283.68L127.2 283.78L127.7 284.18L128.2 284.52L128.7 284.70L129.2 284.70L129.7 284.70L130.2 284.49L130.7 284.27L131.2 284.49L131.7 284.70L132.2 284.70L132.7 284.69L133.2 284.69L133.7 284.46L134.2 284.23L134.7 284.14L135.2 282.31L135.7 279.81L136.2 281.00L136.7 283.74L137.2 284.61L137.7 284.70L138.2 284.70L138.7 284.53L139.2 284.34L139.7 284.43L140.2 284.54L140.7 284.62L141.2 284.54L141.7 284.40L142.2 284.55L142.7 284.55L143.2 284.40L143.7 284.44L144.2 282.41L144.7 277.84L145.2 276.56L145.7 281.55L146.2 283.95L146.7 284.05L147.2 284.09L147.7 283.89L148.2 284.15L148.7 284.27L149.2 284.25L149.7 284.36L150.2 284.37L150.7 284.53L151.2 284.68L151.7 284.33L152.2 283.92L152.7 284.18L153.2 284.17L153.7 283.60L154.2 281.79L154.7 280.63L155.2 281.47L155.7 283.86L156.2 283.94L156.7 283.94L157.2 283.72L157.7 284.23L158.2 284.28L158.7 283.66L159.2 283.84L159.7 284.11L160.2 284.05L160.7 284.39L161.2 284.70L161.7 284.70L162.2 284.52L162.7 284.34L163.2 284.34L163.7 284.34L164.2 284.36L164.7 284.38L165.2 284.28L165.7 284.19L166.2 284.03L166.7 283.88L167.2 284.28L167.7 284.69L168.2 284.70L168.7 284.70L169.2 284.64L169.7 284.58L170.2 284.64L170.7 284.45L171.2 283.88L171.7 283.81L172.2 284.29L172.7 284.53L173.2 284.29L173.7 284.05L174.2 284.37L174.7 284.25L175.2 283.80L175.7 284.25L176.2 284.28L176.7 283.86L177.2 284.27L177.7 284.46L178.2 284.25L178.7 283.92L179.2 279.26L179.7 277.03L180.2 281.40L180.7 284.44L181.2 284.70L181.7 284.37L182.2 283.97L182.7 284.01L183.2 283.80L183.7 283.38L184.2 283.64L184.7 283.94L185.2 283.86L185.7 284.28L186.2 284.70L186.7 284.70L187.2 284.55L187.7 284.39L188.2 284.53L188.7 284.27L189.2 283.89L189.7 284.30L190.2 284.70L190.7 284.70L191.2 284.55L191.7 284.41L192.2 284.41L192.7 284.18L193.2 284.01L193.7 283.95L194.2 283.63L194.7 283.64L195.2 283.86L195.7 283.92L196.2 284.30L196.7 284.66L197.2 284.64L197.7 284.57L198.2 284.22L198.7 283.87L199.2 284.29L199.7 284.70L200.2 284.70L200.7 284.30L201.2 283.53L201.7 283.57L202.2 284.33L202.7 284.39L203.2 283.94L203.7 284.13L204.2 284.57L204.7 284.30L205.2 283.59L205.7 283.68L206.2 284.38L206.7 284.61L207.2 284.14L207.7 283.81L208.2 284.29L208.7 284.57L209.2 284.20L209.7 283.86L210.2 283.98L210.7 284.18L211.2 284.17L211.7 284.25L212.2 284.33L212.7 284.53L213.2 284.70L213.7 284.70L214.2 284.67L214.7 284.63L215.2 284.67L215.7 284.63L216.2 284.56L216.7 284.18L217.2 283.51L217.7 283.63L218.2 284.14L218.7 283.96L219.2 283.90L219.7 284.41L220.2 284.37L220.7 284.01L221.2 283.88L221.7 283.79L222.2 284.26L222.7 284.68L223.2 284.28L223.7 283.91L224.2 283.99L224.7 284.00L225.2 284.27L225.7 284.49L226.2 283.95L226.7 283.58L227.2 284.07L227.7 284.58L228.2 284.62L228.7 284.18L229.2 283.43L229.7 283.45L230.2 284.27L230.7 284.54L231.2 284.24L231.7 284.16L232.2 284.32L232.7 284.57L233.2 284.70L233.7 284.64L234.2 284.55L234.7 284.50L235.2 284.31L235.7 284.08L236.2 283.89L236.7 283.92L237.2 284.15L237.7 284.23L238.2 284.46L238.7 284.70L239.2 284.38L239.7 284.05L240.2 284.33L240.7 284.40L241.2 284.22L241.7 284.22L242.2 284.11L242.7 284.29L243.2 284.63L243.7 284.68L244.2 284.67L244.7 284.68L245.2 284.30L245.7 283.90L246.2 284.21L246.7 285.50L247.2 285.50L247.7 285.50L248.2 285.50L248.7 284.69L249.2 284.69L249.7 284.67L250.2 284.51L250.7 284.42L251.2 284.49L251.7 284.35L252.2 284.08L252.7 284.11L253.2 284.41L253.7 284.24L254.2 283.90L254.7 284.06L255.2 284.22L255.7 284.46L256.2 284.70L256.7 284.37L257.2 283.75L257.7 283.68L258.2 284.14L258.7 284.39L259.2 284.47L259.7 284.61L260.2 284.24L260.7 283.54L261.2 283.78L261.7 284.47L262.2 284.29L262.7 283.87L263.2 284.29L263.7 284.66L264.2 284.61L264.7 284.47L265.2 284.32L265.7 284.30L266.2 284.01L266.7 283.59L267.2 283.73L267.7 284.34L268.2 284.68L268.7 284.69L269.2 284.67L269.7 284.46L270.2 284.21L270.7 284.11L271.2 284.17L271.7 284.14L272.2 283.58L272.7 283.42L273.2 284.12L273.7 284.38L274.2 284.22L274.7 284.46L275.2 284.62L275.7 284.54L276.2 284.62L276.7 284.40L277.2 284.10L277.7 284.29L278.2 284.05L278.7 283.76L279.2 284.29L279.7 284.70L280.2 284.70L280.7 284.70L281.2 284.64L281.7 284.39L282.2 284.24L282.7 284.45L283.2 284.66L283.7 284.56L284.2 284.43L284.7 284.55L285.2 284.45L285.7 283.94L286.2 283.86L286.7 284.07L287.2 284.16L287.7 284.45L288.2 284.69L288.7 284.69L289.2 284.68L289.7 284.43L290.2 284.07L290.7 284.15L291.2 284.54L291.7 284.70L292.2 284.52L292.7 284.34L293.2 284.12L293.7 283.68L294.2 283.86L294.7 284.48L295.2 284.70L295.7 284.69L296.2 284.67L296.7 284.27L297.2 283.60L297.7 283.76L298.2 284.04L298.7 283.89L299.2 284.24L299.7 284.58L300.2 284.63L300.7 284.68L301.2 284.65L301.7 284.18L302.2 283.78L302.7 284.04L303.2 284.27L303.7 284.04L304.2 283.43L304.7 283.16L305.2 283.66L305.7 284.38L306.2 284.53L306.7 284.36L307.2 284.38L307.7 284.37L308.2 284.49L308.7 284.32L309.2 284.00L309.7 284.15L310.2 284.31L310.7 284.47L311.2 284.64L311.7 284.67L312.2 284.70L312.7 284.70L313.2 284.70L313.7 284.43L314.2 284.15L314.7 284.43L315.2 284.70L315.7 284.70L316.2 284.69L316.7 284.46L317.2 284.14L317.7 284.29L318.2 284.58L318.7 284.16L319.2 283.73L319.7 284.23L320.2 284.70L320.7 284.62L321.2 284.14L321.7 283.81L322.2 283.82L322.7 283.65L323.2 283.88L323.7 284.34L324.2 284.50L324.7 284.55L325.2 284.47L325.7 284.39L326.2 284.54L326.7 284.68L327.2 284.26L327.7 283.85L328.2 284.28L328.7 284.70L329.2 284.30L329.7 283.46L330.2 283.29L330.7 283.99L331.2 284.56L331.7 284.70L332.2 284.70L332.7 284.70L333.2 284.70L333.7 284.69L334.2 284.68L334.7 284.69L335.2 284.70L335.7 284.70L336.2 284.25L336.7 283.73L337.2 284.13L337.7 284.36L338.2 283.89L338.7 283.67L339.2 283.67L339.7 283.90L340.2 284.42L340.7 284.43L341.2 283.73L341.7 283.56L342.2 284.24L342.7 284.39L343.2 284.02L343.7 284.18L344.2 284.51L344.7 284.16L345.2 283.76L345.7 284.24L346.2 284.68L346.7 284.33L347.2 284.00L347.7 284.35L348.2 284.70L348.7 284.44L349.2 283.73L349.7 283.55L350.2 284.26L350.7 284.25L351.2 283.81L351.7 284.25L352.2 284.24L352.7 283.78L353.2 284.24L353.7 284.70L354.2 284.54L354.7 284.36L355.2 284.34L355.7 284.33L356.2 284.36L356.7 284.38L357.2 284.24L357.7 284.11L358.2 283.93L358.7 283.75L359.2 284.14L359.7 284.31L360.2 283.93L360.7 284.00L361.2 284.46L361.7 284.54L362.2 284.39L362.7 284.49L363.2 284.45L363.7 283.94L364.2 283.69L364.7 284.26L365.2 284.29L365.7 283.88L366.2 284.09L366.7 284.00L367.2 283.88L367.7 284.32L368.2 284.55L368.7 284.62L369.2 284.65L369.7 284.43L370.2 284.04L370.7 283.94L371.2 284.32L371.7 284.57L372.2 284.37L372.7 284.25L373.2 284.51L373.7 284.30L374.2 283.90L374.7 283.96L375.2 284.02L375.7 284.32L376.2 284.52L376.7 284.03L377.2 283.75L377.7 284.28L378.2 284.36L378.7 284.03L379.2 283.94L379.7 283.39L380.2 283.25L380.7 283.56L381.2 283.34L381.7 283.57L382.2 284.13L382.7 284.08L383.2 283.74L383.7 283.55L384.2 283.63L384.7 283.76L385.2 284.08L385.7 284.52L386.2 284.69L386.7 284.28L387.2 283.50L387.7 283.56L388.2 284.34L388.7 284.31L389.2 283.92L389.7 284.17L390.2 283.96L390.7 283.61L391.2 284.17L391.7 284.66L392.2 284.69L392.7 284.64L393.2 284.58L393.7 284.63L394.2 284.67L394.7 284.69L395.2 284.23L395.7 283.60L396.2 283.89L396.7 284.42L397.2 284.42L397.7 284.46L398.2 284.63L398.7 284.70L399.2 284.67L399.7 284.64L400.2 284.55L400.7 284.46L401.2 284.57L401.7 284.59L402.2 284.50L402.7 284.32L403.2 284.13L403.7 284.01L404.2 283.88L404.7 284.09L405.2 284.24L405.7 284.34L406.2 284.57L406.7 284.67L407.2 284.37L407.7 284.04L408.2 284.37L408.7 284.70L409.2 284.70L409.7 284.70L410.2 284.70L410.7 284.70L411.2 284.70L411.7 284.64L412.2 284.59L412.7 284.57L413.2 284.56L413.7 284.28L414.2 283.85L414.7 284.06L415.2 284.56L415.7 284.67L416.2 284.42L416.7 283.77L417.2 283.54L417.7 284.17L418.2 284.23L418.7 283.92L419.2 284.12L419.7 284.20L420.2 283.91L420.7 283.51L421.2 283.76L421.7 284.45L422.2 284.70L422.7 284.70L423.2 284.70L423.7 284.53L424.2 284.37L424.7 284.51L425.2 284.49L425.7 284.33L426.2 284.53L426.7 284.57L427.2 284.44L427.7 284.52L428.2 284.59L428.7 284.34L429.2 284.08L429.7 284.36L430.2 284.61L430.7 284.19L431.2 283.59L431.7 283.37L432.2 283.14L432.7 283.41L433.2 283.85L433.7 283.83L434.2 284.18L434.7 284.35L435.2 284.06L435.7 283.79L436.2 283.76L436.7 283.87L437.2 283.88L437.7 284.31L438.2 284.69L438.7 284.67L439.2 284.56L439.7 284.47L440.2 284.53L440.7 284.49L441.2 284.47L441.7 284.36L442.2 284.12L442.7 284.07L443.2 284.12L443.7 283.94L444.2 283.81L444.7 284.12L445.2 284.37L445.7 284.12L446.2 283.86L446.7 283.92L447.2 283.94L447.7 284.27L448.2 284.58L448.7 284.53L449.2 284.16L449.7 283.79L450.2 284.24L450.7 284.67L451.2 284.64L451.7 284.67L452.2 284.70L452.7 284.50L453.2 283.97L453.7 283.84L454.2 284.10L454.7 284.15L455.2 284.38L455.7 284.57L456.2 284.58L456.7 284.66L457.2 284.57L457.7 284.44L458.2 284.57L458.7 284.29L459.2 283.77L459.7 284.05L460.2 284.58L460.7 284.65L461.2 284.18L461.7 283.71L462.2 284.02L462.7 284.50L463.2 284.66L463.7 284.35L464.2 284.01L464.7 284.35L465.2 284.34L465.7 283.97L466.2 284.08L466.7 283.30L467.2 282.62L467.7 282.61L468.2 283.23L468.7 283.81L469.2 283.92L469.7 283.85L470.2 283.79L470.7 284.24L471.2 284.70L471.7 284.29L472.2 283.88L472.7 284.25L473.2 284.31L473.7 283.63L474.2 283.54L474.7 284.08L475.2 284.39L475.7 284.55L476.2 284.67L476.7 284.69L477.2 284.70L477.7 284.41L478.2 284.12L478.7 284.29L479.2 284.21L479.7 284.08L480.2 284.45L480.5 285.50Z" fill="#2b2b88" stroke="none" stroke-width="1"/>
<text transform="translate(26.00,299.40) scale(1,1)" font-size="5.50" text-anchor="end" fill="#333333" stroke="#333333" style="stroke-width:0.12px">[0–30]</text>
<path d="M27.2 300.00L27.2 298.51L27.7 298.81L28.2 298.99L28.7 298.19L29.2 297.60L29.7 298.10L30.2 298.49L30.7 298.80L31.2 298.99L31.7 298.58L32.2 298.39L32.7 298.80L33.2 298.96L33.7 298.77L34.2 298.85L34.7 298.92L35.2 298.37L35.7 297.62L36.2 297.82L36.7 298.12L37.2 298.06L37.7 298.63L38.2 299.10L38.7 299.10L39.2 299.03L39.7 298.65L40.2 298.40L40.7 298.78L41.2 299.10L41.7 299.10L42.2 299.10L42.7 299.10L43.2 299.10L43.7 298.61L44.2 298.12L44.7 298.49L45.2 298.53L45.7 298.11L46.2 297.90L46.7 298.01L47.2 298.67L47.7 299.10L48.2 298.94L48.7 298.78L49.2 298.61L49.7 298.30L50.2 298.47L50.7 298.95L51.2 299.10L51.7 299.10L52.2 299.10L52.7 299.10L53.2 299.10L53.7 299.10L54.2 299.10L54.7 298.93L55.2 300.00L55.7 300.00L56.2 300.00L56.7 299.09L57.2 299.07L57.7 299.07L58.2 298.99L58.7 298.89L59.2 298.98L59.7 299.07L60.2 299.08L60.7 298.84L61.2 298.42L61.7 298.50L62.2 298.90L62.7 299.08L63.2 299.10L63.7 300.00L64.2 300.00L64.7 300.00L65.2 300.00L65.7 300.00L66.2 300.00L66.7 300.00L67.2 300.00L67.7 297.74L68.2 297.94L68.7 298.12L69.2 298.57L69.7 299.02L70.2 299.06L70.7 298.85L71.2 298.38L71.7 298.42L72.2 298.89L72.7 299.10L73.2 299.10L73.7 298.19L74.2 296.47L74.7 295.65L75.2 296.18L75.7 297.42L76.2 298.37L76.7 298.86L77.2 298.63L77.7 297.33L78.2 296.99L78.7 297.56L79.2 296.16L79.7 294.91L80.2 294.95L80.7 296.20L81.2 297.23L81.7 297.04L82.2 298.02L82.7 297.49L83.2 295.93L83.7 294.44L84.2 293.85L84.7 295.39L85.2 297.33L85.7 298.42L86.2 298.54L86.7 297.69L87.2 295.95L87.7 294.13L88.2 293.81L88.7 295.92L89.2 297.12L89.7 298.39L90.2 296.76L90.7 295.03L91.2 295.51L91.7 296.79L92.2 298.11L92.7 297.88L93.2 296.58L93.7 295.96L94.2 296.93L94.7 298.45L95.2 299.10L95.7 298.50L96.2 297.91L96.7 298.04L97.2 298.18L97.7 297.76L98.2 297.23L98.7 298.00L99.2 298.99L99.7 298.79L100.2 298.47L100.7 298.76L101.2 298.53L101.7 297.68L102.2 297.26L102.7 297.51L103.2 298.48L103.7 298.37L104.2 297.63L104.7 298.18L105.2 298.57L105.7 298.60L106.2 298.54L106.7 298.29L107.2 298.65L107.7 299.00L108.2 298.71L108.7 298.05L109.2 297.00L109.7 295.40L110.2 295.53L110.7 296.36L111.2 297.91L111.7 297.36L112.2 297.24L112.7 297.54L113.2 297.50L113.7 297.27L114.2 296.81L114.7 296.02L115.2 295.87L115.7 296.75L116.2 297.83L116.7 298.72L117.2 299.00L117.7 298.87L118.2 298.36L118.7 297.07L119.2 295.21L119.7 294.74L120.2 295.98L120.7 297.65L121.2 298.54L121.7 298.04L122.2 296.87L122.7 296.72L123.2 297.43L123.7 296.81L124.2 294.95L124.7 294.38L125.2 297.00L125.7 298.62L126.2 299.05L126.7 298.58L127.2 297.13L127.7 296.21L128.2 296.06L128.7 296.07L129.2 297.38L129.7 298.79L130.2 299.07L130.7 299.08L131.2 298.18L131.7 296.93L132.2 297.50L132.7 297.96L133.2 297.50L133.7 298.30L134.2 298.72L134.7 297.96L135.2 297.97L135.7 298.65L136.2 298.79L136.7 297.64L137.2 295.23L137.7 292.72L138.2 291.82L138.7 294.98L139.2 296.09L139.7 296.45L140.2 298.08L140.7 298.41L141.2 295.61L141.7 290.42L142.2 290.17L142.7 295.09L143.2 296.25L143.7 292.38L144.2 291.67L144.7 295.60L145.2 297.76L145.7 297.51L146.2 297.80L146.7 298.58L147.2 298.48L147.7 298.17L148.2 297.14L148.7 294.75L149.2 291.75L149.7 291.04L150.2 293.20L150.7 295.61L151.2 297.59L151.7 295.88L152.2 293.37L152.7 292.94L153.2 295.19L153.7 297.73L154.2 298.50L154.7 296.80L155.2 294.48L155.7 292.76L156.2 293.63L156.7 295.83L157.2 298.06L157.7 298.88L158.2 298.66L158.7 298.70L159.2 298.24L159.7 297.16L160.2 297.09L160.7 298.28L161.2 298.97L161.7 298.62L162.2 298.27L162.7 298.66L163.2 299.03L163.7 299.03L164.2 299.08L164.7 299.00L165.2 298.14L165.7 297.47L166.2 298.34L166.7 297.92L167.2 295.62L167.7 293.03L168.2 292.65L168.7 295.12L169.2 297.58L169.7 297.04L170.2 297.31L170.7 298.20L171.2 296.95L171.7 295.35L172.2 294.39L172.7 296.17L173.2 298.03L173.7 298.69L174.2 298.91L174.7 299.10L175.2 299.10L175.7 298.34L176.2 297.32L176.7 293.93L177.2 290.73L177.7 293.29L178.2 296.15L178.7 298.09L179.2 297.44L179.7 297.80L180.2 298.19L180.7 298.05L181.2 297.34L181.7 297.09L182.2 293.31L182.7 291.12L183.2 294.22L183.7 297.06L184.2 298.63L184.7 298.62L185.2 298.14L185.7 298.38L186.2 298.16L186.7 297.34L187.2 297.43L187.7 298.30L188.2 298.29L188.7 298.02L189.2 298.30L189.7 298.40L190.2 298.68L190.7 298.26L191.2 297.63L191.7 298.37L192.2 298.64L192.7 298.26L193.2 298.69L193.7 298.49L194.2 297.44L194.7 297.58L195.2 298.62L195.7 299.09L196.2 298.38L196.7 297.53L197.2 298.07L197.7 298.65L198.2 298.38L198.7 298.41L199.2 298.53L199.7 297.99L200.2 297.89L200.7 298.59L201.2 298.36L201.7 297.85L202.2 298.42L202.7 298.81L203.2 298.80L203.7 299.00L204.2 299.10L204.7 298.41L205.2 297.71L205.7 298.41L206.2 299.10L206.7 298.83L207.2 298.16L207.7 298.05L208.2 298.71L208.7 299.10L209.2 299.10L209.7 298.95L210.2 297.76L210.7 294.81L211.2 294.57L211.7 297.36L212.2 297.48L212.7 297.46L213.2 296.06L213.7 295.87L214.2 298.28L214.7 298.96L215.2 299.00L215.7 299.04L216.2 298.98L216.7 298.93L217.2 299.01L217.7 298.54L218.2 297.97L218.7 298.43L219.2 298.90L219.7 299.00L220.2 299.07L220.7 299.04L221.2 298.67L221.7 297.92L222.2 297.92L222.7 298.70L223.2 298.84L223.7 298.60L224.2 298.85L224.7 299.05L225.2 299.03L225.7 298.74L226.2 298.00L226.7 297.61L227.2 298.14L227.7 298.84L228.2 299.08L228.7 298.99L229.2 298.90L229.7 298.86L230.2 298.82L230.7 298.96L231.2 299.10L231.7 299.10L232.2 298.94L232.7 298.79L233.2 298.62L233.7 298.45L234.2 298.41L234.7 298.37L235.2 298.73L235.7 298.88L236.2 298.55L236.7 298.65L237.2 298.95L237.7 299.08L238.2 298.92L238.7 298.73L239.2 298.91L239.7 298.93L240.2 298.78L240.7 298.91L241.2 298.71L241.7 298.00L242.2 297.88L242.7 298.25L243.2 298.11L243.7 297.84L244.2 298.10L244.7 298.35L245.2 298.31L245.7 298.32L246.2 298.10L246.7 300.00L247.2 300.00L247.7 300.00L248.2 300.00L248.7 298.94L249.2 298.52L249.7 297.74L250.2 297.89L250.7 298.74L251.2 299.02L251.7 298.94L252.2 298.70L252.7 298.46L253.2 298.52L253.7 298.12L254.2 297.64L254.7 298.07L255.2 298.32L255.7 297.97L256.2 297.92L256.7 298.16L257.2 298.59L257.7 298.87L258.2 298.61L258.7 298.14L259.2 298.30L259.7 298.89L260.2 298.88L260.7 298.57L261.2 298.69L261.7 299.00L262.2 299.10L262.7 299.10L263.2 298.75L263.7 298.39L264.2 298.74L264.7 298.90L265.2 298.23L265.7 297.77L266.2 298.28L266.7 298.50L267.2 298.11L267.7 298.41L268.2 298.74L268.7 298.58L269.2 298.75L269.7 298.94L270.2 298.90L270.7 298.56L271.2 298.11L271.7 298.27L272.2 298.67L272.7 298.67L273.2 298.41L273.7 298.53L274.2 298.41L274.7 298.02L275.2 298.14L275.7 298.27L276.2 298.69L276.7 299.10L277.2 298.96L277.7 298.68L278.2 298.68L278.7 298.96L279.2 298.99L279.7 298.88L280.2 298.61L280.7 298.05L281.2 298.11L281.7 298.69L282.2 298.55L282.7 298.07L283.2 298.23L283.7 298.41L284.2 298.53L284.7 298.60L285.2 298.50L285.7 298.79L286.2 299.08L286.7 298.86L287.2 298.63L287.7 298.86L288.2 298.96L288.7 298.31L289.2 297.90L289.7 298.51L290.2 299.02L290.7 298.66L291.2 298.34L291.7 298.70L292.2 298.65L292.7 298.30L293.2 298.72L293.7 298.98L294.2 298.57L294.7 298.18L295.2 297.89L295.7 297.47L296.2 297.25L296.7 297.63L297.2 298.04L297.7 298.07L298.2 298.43L298.7 298.75L299.2 298.66L299.7 298.38L300.2 298.47L300.7 298.92L301.2 299.10L301.7 299.02L302.2 298.94L302.7 299.02L303.2 299.10L303.7 298.82L304.2 298.53L304.7 298.80L305.2 299.08L305.7 299.09L306.2 298.88L306.7 298.70L307.2 298.59L307.7 298.48L308.2 298.72L308.7 298.97L309.2 299.03L309.7 298.96L310.2 298.81L310.7 298.64L311.2 298.17L311.7 298.18L312.2 298.64L312.7 298.47L313.2 297.98L313.7 297.99L314.2 298.53L314.7 298.72L315.2 298.49L315.7 298.68L316.2 299.03L316.7 299.10L317.2 299.10L317.7 299.10L318.2 299.10L318.7 299.10L319.2 299.10L319.7 299.10L320.2 298.65L320.7 298.20L321.2 298.65L321.7 298.80L322.2 298.51L322.7 298.80L323.2 299.10L323.7 299.10L324.2 299.09L324.7 298.79L325.2 298.47L325.7 298.78L326.2 298.71L326.7 297.85L327.2 297.71L327.7 298.52L328.2 299.05L328.7 298.66L329.2 297.78L329.7 297.78L330.2 298.66L330.7 299.10L331.2 298.76L331.7 298.31L332.2 298.28L332.7 298.19L333.2 298.23L333.7 298.36L334.2 298.28L334.7 298.58L335.2 298.87L335.7 298.92L336.2 298.77L336.7 298.65L337.2 298.90L337.7 298.83L338.2 298.22L338.7 298.11L339.2 298.47L339.7 298.61L340.2 298.82L340.7 298.75L341.2 298.28L341.7 298.30L342.2 298.76L342.7 298.81L343.2 298.67L343.7 298.53L344.2 298.38L344.7 298.67L345.2 298.97L345.7 298.67L346.2 298.30L346.7 298.40L347.2 298.63L347.7 298.90L348.2 298.56L348.7 297.99L349.2 298.22L349.7 298.49L350.2 298.70L350.7 298.88L351.2 298.93L351.7 298.84L352.2 298.40L352.7 297.77L353.2 297.84L353.7 298.39L354.2 298.09L354.7 297.49L355.2 297.65L355.7 298.19L356.2 298.64L356.7 298.97L357.2 299.10L357.7 299.10L358.2 299.08L358.7 299.05L359.2 299.06L359.7 299.01L360.2 298.85L360.7 298.83L361.2 298.83L361.7 298.73L362.2 298.49L362.7 298.05L363.2 298.01L363.7 298.41L364.2 298.58L364.7 298.46L365.2 298.58L365.7 298.93L366.2 298.62L366.7 297.86L367.2 296.05L367.7 295.00L368.2 294.39L368.7 296.00L369.2 297.57L369.7 297.96L370.2 295.21L370.7 292.25L371.2 292.84L371.7 295.01L372.2 297.58L372.7 297.94L373.2 295.86L373.7 293.75L374.2 293.60L374.7 295.50L375.2 297.78L375.7 298.39L376.2 297.30L376.7 295.96L377.2 295.41L377.7 296.69L378.2 298.28L378.7 298.89L379.2 298.98L379.7 298.81L380.2 298.88L380.7 299.04L381.2 299.09L381.7 299.10L382.2 299.10L382.7 299.10L383.2 298.92L383.7 298.53L384.2 298.50L384.7 298.89L385.2 298.55L385.7 297.96L386.2 298.12L386.7 297.89L387.2 297.81L387.7 298.47L388.2 298.75L388.7 298.89L389.2 299.02L389.7 299.00L390.2 298.50L390.7 297.82L391.2 298.17L391.7 298.91L392.2 299.10L392.7 299.09L393.2 299.02L393.7 298.86L394.2 298.82L394.7 298.84L395.2 298.81L395.7 298.87L396.2 298.93L396.7 298.91L397.2 298.68L397.7 298.00L398.2 297.74L398.7 298.50L399.2 299.06L399.7 299.08L400.2 298.84L400.7 298.59L401.2 298.56L401.7 298.39L402.2 298.41L402.7 298.46L403.2 298.49L403.7 298.86L404.2 298.78L404.7 298.46L405.2 298.18L405.7 297.31L406.2 297.32L406.7 298.23L407.2 298.53L407.7 298.82L408.2 298.58L408.7 298.06L409.2 298.56L409.7 298.85L410.2 298.28L410.7 298.08L411.2 298.49L411.7 298.37L412.2 298.10L412.7 298.66L413.2 298.78L413.7 298.42L414.2 298.59L414.7 298.85L415.2 298.78L415.7 298.66L416.2 298.81L416.7 298.92L417.2 298.94L417.7 298.83L418.2 298.29L418.7 298.08L419.2 298.68L419.7 298.72L420.2 298.19L420.7 298.18L421.2 298.47L421.7 298.86L422.2 298.88L422.7 298.08L423.2 297.62L423.7 298.33L424.2 298.53L424.7 297.89L425.2 298.11L425.7 298.84L426.2 298.80L426.7 298.20L427.2 297.57L427.7 297.34L428.2 298.08L428.7 298.90L429.2 298.91L429.7 298.71L430.2 298.86L430.7 298.64L431.2 297.73L431.7 297.03L432.2 297.35L432.7 298.49L433.2 299.07L433.7 299.04L434.2 298.88L434.7 298.62L435.2 298.70L435.7 298.71L436.2 298.54L436.7 298.72L437.2 298.62L437.7 297.99L438.2 297.92L438.7 298.65L439.2 299.10L439.7 298.61L440.2 297.59L440.7 297.16L441.2 297.40L441.7 297.93L442.2 298.56L442.7 298.19L443.2 297.72L443.7 298.48L444.2 299.04L444.7 298.99L445.2 298.84L445.7 298.42L446.2 298.13L446.7 298.37L447.2 298.29L447.7 297.97L448.2 298.45L448.7 298.92L449.2 298.73L449.7 298.04L450.2 297.82L450.7 298.59L451.2 298.47L451.7 297.68L452.2 297.87L452.7 298.14L453.2 298.30L453.7 298.82L454.2 298.70L454.7 297.78L455.2 297.20L455.7 297.65L456.2 298.62L456.7 299.07L457.2 298.45L457.7 297.53L458.2 297.71L458.7 298.48L459.2 298.85L459.7 298.90L460.2 298.74L460.7 298.60L461.2 298.29L461.7 297.87L462.2 297.96L462.7 297.74L463.2 297.71L463.7 297.66L464.2 296.50L464.7 296.20L465.2 295.69L465.7 296.51L466.2 297.46L466.7 297.81L467.2 297.22L467.7 296.77L468.2 296.50L468.7 296.84L469.2 297.69L469.7 297.94L470.2 297.62L470.7 298.50L471.2 298.59L471.7 298.09L472.2 298.16L472.7 298.16L473.2 298.22L473.7 298.34L474.2 298.60L474.7 298.75L475.2 298.62L475.7 298.86L476.2 298.92L476.7 298.42L477.2 297.94L477.7 297.64L478.2 297.80L478.7 298.57L479.2 298.93L479.7 298.25L480.2 297.83L480.5 300.00Z" fill="#e07a22" stroke="none" stroke-width="1"/>
<text transform="translate(26.00,314.90) scale(1,1)" font-size="5.50" text-anchor="end" fill="#333333" stroke="#333333" style="stroke-width:0.12px">[0–300]</text>
<line x1="27.20" y1="315.20" x2="480.50" y2="315.20" stroke="#cdcd96" stroke-width="0.6"/>
<path d="M27.2 315.50L27.2 315.50L27.7 315.50L28.2 315.50L28.7 315.50L29.2 315.50L29.7 315.50L30.2 315.50L30.7 315.50L31.2 315.50L31.7 315.50L32.2 315.50L32.7 315.50L33.2 315.50L33.7 315.50L34.2 315.50L34.7 315.50L35.2 315.50L35.7 315.50L36.2 315.50L36.7 315.50L37.2 315.50L37.7 315.50L38.2 315.50L38.7 315.50L39.2 315.50L39.7 315.50L40.2 315.50L40.7 315.50L41.2 315.50L41.7 315.50L42.2 315.50L42.7 315.50L43.2 315.50L43.7 315.50L44.2 315.50L44.7 315.50L45.2 315.50L45.7 315.50L46.2 315.50L46.7 315.50L47.2 315.50L47.7 315.50L48.2 315.50L48.7 315.50L49.2 315.50L49.7 315.50L50.2 315.50L50.7 315.50L51.2 315.50L51.7 315.50L52.2 315.50L52.7 315.50L53.2 315.50L53.7 315.50L54.2 315.50L54.7 315.50L55.2 315.50L55.7 315.50L56.2 315.50L56.7 315.50L57.2 315.50L57.7 315.50L58.2 315.50L58.7 315.50L59.2 315.50L59.7 315.50L60.2 315.50L60.7 315.50L61.2 315.50L61.7 315.50L62.2 315.50L62.7 315.50L63.2 315.50L63.7 315.50L64.2 315.50L64.7 315.50L65.2 315.50L65.7 315.50L66.2 315.50L66.7 315.50L67.2 315.50L67.7 315.50L68.2 315.50L68.7 315.50L69.2 315.50L69.7 315.50L70.2 315.50L70.7 315.50L71.2 315.50L71.7 315.50L72.2 315.50L72.7 315.50L73.2 315.50L73.7 315.50L74.2 315.50L74.7 315.50L75.2 315.50L75.7 315.50L76.2 315.50L76.7 315.50L77.2 315.50L77.7 315.50L78.2 315.50L78.7 315.50L79.2 315.50L79.7 315.50L80.2 315.50L80.7 315.50L81.2 315.50L81.7 315.50L82.2 315.50L82.7 315.50L83.2 315.50L83.7 315.50L84.2 315.50L84.7 315.50L85.2 315.50L85.7 315.50L86.2 315.50L86.7 315.50L87.2 315.50L87.7 315.50L88.2 315.50L88.7 315.50L89.2 315.50L89.7 315.50L90.2 315.50L90.7 315.50L91.2 315.50L91.7 315.50L92.2 315.50L92.7 315.50L93.2 315.50L93.7 315.50L94.2 315.50L94.7 315.50L95.2 315.50L95.7 315.50L96.2 315.50L96.7 315.50L97.2 315.50L97.7 315.50L98.2 315.50L98.7 315.50L99.2 315.50L99.7 315.50L100.2 315.50L100.7 315.50L101.2 315.50L101.7 315.50L102.2 315.50L102.7 315.50L103.2 315.50L103.7 315.50L104.2 315.50L104.7 315.50L105.2 315.50L105.7 315.50L106.2 315.50L106.7 315.50L107.2 315.50L107.7 315.50L108.2 315.50L108.7 315.50L109.2 315.50L109.7 315.50L110.2 315.50L110.7 315.50L111.2 315.50L111.7 315.50L112.2 315.50L112.7 315.50L113.2 315.50L113.7 315.50L114.2 315.50L114.7 315.50L115.2 315.50L115.7 315.50L116.2 315.50L116.7 315.50L117.2 315.50L117.7 315.50L118.2 315.50L118.7 315.50L119.2 315.44L119.7 315.35L120.2 315.17L120.7 314.90L121.2 314.42L121.7 313.94L122.2 313.40L122.7 313.16L123.2 313.23L123.7 313.31L124.2 313.78L124.7 314.31L125.2 313.80L125.7 312.03L126.2 311.29L126.7 310.66L127.2 312.00L127.7 313.48L128.2 311.97L128.7 309.51L129.2 308.79L129.7 310.75L130.2 311.73L130.7 306.99L131.2 306.75L131.7 310.71L132.2 314.44L132.7 315.39L133.2 314.39L133.7 309.89L134.2 305.51L134.7 310.39L135.2 314.26L135.7 315.40L136.2 315.50L136.7 315.50L137.2 315.50L137.7 315.50L138.2 315.50L138.7 315.50L139.2 315.50L139.7 315.50L140.2 315.50L140.7 315.50L141.2 315.50L141.7 315.50L142.2 315.44L142.7 315.14L143.2 314.65L143.7 314.65L144.2 315.06L144.7 315.40L145.2 315.50L145.7 315.50L146.2 315.50L146.7 315.50L147.2 315.50L147.7 315.50L148.2 315.50L148.7 315.50L149.2 315.50L149.7 315.50L150.2 315.50L150.7 315.43L151.2 315.16L151.7 314.78L152.2 314.70L152.7 315.09L153.2 315.40L153.7 315.50L154.2 315.50L154.7 315.50L155.2 315.50L155.7 315.50L156.2 315.50L156.7 315.50L157.2 315.50L157.7 315.50L158.2 315.50L158.7 315.50L159.2 315.50L159.7 315.50L160.2 315.50L160.7 315.50L161.2 315.50L161.7 315.50L162.2 315.50L162.7 315.50L163.2 315.50L163.7 315.50L164.2 315.50L164.7 315.50L165.2 315.50L165.7 315.50L166.2 315.50L166.7 315.50L167.2 315.50L167.7 315.50L168.2 315.50L168.7 315.50L169.2 315.50L169.7 315.50L170.2 315.50L170.7 315.50L171.2 315.50L171.7 315.50L172.2 315.50L172.7 315.50L173.2 315.50L173.7 315.50L174.2 315.50L174.7 315.50L175.2 315.50L175.7 315.50L176.2 315.50L176.7 315.50L177.2 315.50L177.7 315.50L178.2 315.50L178.7 315.50L179.2 315.50L179.7 315.50L180.2 315.50L180.7 315.50L181.2 315.50L181.7 315.50L182.2 315.50L182.7 315.50L183.2 315.50L183.7 315.50L184.2 315.50L184.7 315.50L185.2 315.50L185.7 315.50L186.2 315.50L186.7 315.50L187.2 315.50L187.7 315.50L188.2 315.50L188.7 315.50L189.2 315.50L189.7 315.50L190.2 315.50L190.7 315.50L191.2 315.50L191.7 315.50L192.2 315.50L192.7 315.50L193.2 315.50L193.7 315.50L194.2 315.50L194.7 315.50L195.2 315.50L195.7 315.50L196.2 315.50L196.7 315.50L197.2 315.50L197.7 315.50L198.2 315.50L198.7 315.50L199.2 315.50L199.7 315.50L200.2 315.50L200.7 315.50L201.2 315.50L201.7 315.50L202.2 315.50L202.7 315.50L203.2 315.50L203.7 315.50L204.2 315.50L204.7 315.50L205.2 315.50L205.7 315.50L206.2 315.50L206.7 315.50L207.2 315.50L207.7 315.50L208.2 315.50L208.7 315.50L209.2 315.50L209.7 315.50L210.2 315.50L210.7 315.50L211.2 315.50L211.7 315.50L212.2 315.50L212.7 315.50L213.2 315.50L213.7 315.50L214.2 315.50L214.7 315.50L215.2 315.50L215.7 315.50L216.2 315.50L216.7 315.50L217.2 315.50L217.7 315.50L218.2 315.50L218.7 315.50L219.2 315.50L219.7 315.50L220.2 315.50L220.7 315.50L221.2 315.50L221.7 315.50L222.2 315.50L222.7 315.50L223.2 315.50L223.7 315.50L224.2 315.50L224.7 315.50L225.2 315.50L225.7 315.50L226.2 315.50L226.7 315.50L227.2 315.50L227.7 315.50L228.2 315.50L228.7 315.50L229.2 315.50L229.7 315.50L230.2 315.50L230.7 315.50L231.2 315.50L231.7 315.50L232.2 315.50L232.7 315.50L233.2 315.50L233.7 315.50L234.2 315.50L234.7 315.50L235.2 315.50L235.7 315.50L236.2 315.50L236.7 315.50L237.2 315.50L237.7 315.50L238.2 315.50L238.7 315.50L239.2 315.50L239.7 315.50L240.2 315.50L240.7 315.50L241.2 315.50L241.7 315.50L242.2 315.50L242.7 315.50L243.2 315.50L243.7 315.50L244.2 315.50L244.7 315.50L245.2 315.50L245.7 315.50L246.2 315.50L246.7 315.50L247.2 315.50L247.7 315.50L248.2 315.50L248.7 315.50L249.2 315.50L249.7 315.50L250.2 315.50L250.7 315.50L251.2 315.50L251.7 315.50L252.2 315.50L252.7 315.50L253.2 315.50L253.7 315.50L254.2 315.50L254.7 315.50L255.2 315.50L255.7 315.50L256.2 315.50L256.7 315.50L257.2 315.50L257.7 315.50L258.2 315.50L258.7 315.50L259.2 315.50L259.7 315.50L260.2 315.50L260.7 315.50L261.2 315.50L261.7 315.50L262.2 315.50L262.7 315.50L263.2 315.50L263.7 315.50L264.2 315.50L264.7 315.50L265.2 315.50L265.7 315.50L266.2 315.50L266.7 315.50L267.2 315.50L267.7 315.50L268.2 315.50L268.7 315.50L269.2 315.50L269.7 315.50L270.2 315.50L270.7 315.50L271.2 315.50L271.7 315.50L272.2 315.50L272.7 315.50L273.2 315.50L273.7 315.50L274.2 315.50L274.7 315.50L275.2 315.50L275.7 315.50L276.2 315.50L276.7 315.50L277.2 315.50L277.7 315.50L278.2 315.50L278.7 315.50L279.2 315.50L279.7 315.50L280.2 315.50L280.7 315.50L281.2 315.50L281.7 315.50L282.2 315.50L282.7 315.50L283.2 315.50L283.7 315.50L284.2 315.50L284.7 315.50L285.2 315.50L285.7 315.50L286.2 315.50L286.7 315.50L287.2 315.50L287.7 315.50L288.2 315.50L288.7 315.50L289.2 315.50L289.7 315.50L290.2 315.50L290.7 315.50L291.2 315.50L291.7 315.50L292.2 315.50L292.7 315.50L293.2 315.50L293.7 315.50L294.2 315.50L294.7 315.50L295.2 315.50L295.7 315.50L296.2 315.50L296.7 315.50L297.2 315.50L297.7 315.50L298.2 315.50L298.7 315.50L299.2 315.50L299.7 315.50L300.2 315.50L300.7 315.50L301.2 315.50L301.7 315.50L302.2 315.50L302.7 315.50L303.2 315.50L303.7 315.50L304.2 315.50L304.7 315.50L305.2 315.50L305.7 315.50L306.2 315.50L306.7 315.50L307.2 315.50L307.7 315.50L308.2 315.50L308.7 315.50L309.2 315.50L309.7 315.50L310.2 315.50L310.7 315.50L311.2 315.50L311.7 315.50L312.2 315.50L312.7 315.50L313.2 315.50L313.7 315.50L314.2 315.50L314.7 315.50L315.2 315.50L315.7 315.50L316.2 315.50L316.7 315.50L317.2 315.50L317.7 315.50L318.2 315.50L318.7 315.50L319.2 315.50L319.7 315.50L320.2 315.50L320.7 315.50L321.2 315.50L321.7 315.50L322.2 315.50L322.7 315.50L323.2 315.50L323.7 315.50L324.2 315.50L324.7 315.50L325.2 315.50L325.7 315.50L326.2 315.50L326.7 315.50L327.2 315.50L327.7 315.50L328.2 315.50L328.7 315.50L329.2 315.50L329.7 315.50L330.2 315.50L330.7 315.50L331.2 315.50L331.7 315.50L332.2 315.50L332.7 315.50L333.2 315.50L333.7 315.50L334.2 315.50L334.7 315.50L335.2 315.50L335.7 315.50L336.2 315.50L336.7 315.50L337.2 315.50L337.7 315.50L338.2 315.50L338.7 315.50L339.2 315.50L339.7 315.50L340.2 315.50L340.7 315.50L341.2 315.50L341.7 315.50L342.2 315.50L342.7 315.50L343.2 315.50L343.7 315.50L344.2 315.50L344.7 315.50L345.2 315.50L345.7 315.50L346.2 315.50L346.7 315.50L347.2 315.50L347.7 315.50L348.2 315.50L348.7 315.50L349.2 315.50L349.7 315.50L350.2 315.50L350.7 315.50L351.2 315.50L351.7 315.50L352.2 315.50L352.7 315.50L353.2 315.50L353.7 315.50L354.2 315.50L354.7 315.50L355.2 315.50L355.7 315.50L356.2 315.50L356.7 315.50L357.2 315.50L357.7 315.50L358.2 315.50L358.7 315.50L359.2 315.50L359.7 315.50L360.2 315.50L360.7 315.50L361.2 315.50L361.7 315.50L362.2 315.50L362.7 315.50L363.2 315.50L363.7 315.50L364.2 315.50L364.7 315.50L365.2 315.50L365.7 315.50L366.2 315.50L366.7 315.50L367.2 315.50L367.7 315.50L368.2 315.50L368.7 315.50L369.2 315.50L369.7 315.50L370.2 315.50L370.7 315.50L371.2 315.50L371.7 315.50L372.2 315.50L372.7 315.50L373.2 315.50L373.7 315.50L374.2 315.50L374.7 315.50L375.2 315.50L375.7 315.50L376.2 315.50L376.7 315.50L377.2 315.50L377.7 315.50L378.2 315.50L378.7 315.50L379.2 315.50L379.7 315.50L380.2 315.50L380.7 315.50L381.2 315.50L381.7 315.50L382.2 315.50L382.7 315.50L383.2 315.50L383.7 315.50L384.2 315.50L384.7 315.50L385.2 315.50L385.7 315.50L386.2 315.50L386.7 315.50L387.2 315.50L387.7 315.50L388.2 315.50L388.7 315.50L389.2 315.50L389.7 315.50L390.2 315.50L390.7 315.50L391.2 315.50L391.7 315.50L392.2 315.50L392.7 315.50L393.2 315.50L393.7 315.50L394.2 315.50L394.7 315.50L395.2 315.50L395.7 315.50L396.2 315.50L396.7 315.50L397.2 315.50L397.7 315.50L398.2 315.50L398.7 315.50L399.2 315.50L399.7 315.50L400.2 315.50L400.7 315.50L401.2 315.50L401.7 315.50L402.2 315.50L402.7 315.50L403.2 315.50L403.7 315.50L404.2 315.50L404.7 315.50L405.2 315.50L405.7 315.50L406.2 315.50L406.7 315.50L407.2 315.50L407.7 315.50L408.2 315.50L408.7 315.50L409.2 315.50L409.7 315.50L410.2 315.50L410.7 315.50L411.2 315.50L411.7 315.50L412.2 315.50L412.7 315.50L413.2 315.50L413.7 315.50L414.2 315.50L414.7 315.50L415.2 315.50L415.7 315.50L416.2 315.50L416.7 315.50L417.2 315.50L417.7 315.50L418.2 315.50L418.7 315.50L419.2 315.50L419.7 315.50L420.2 315.50L420.7 315.50L421.2 315.50L421.7 315.50L422.2 315.50L422.7 315.50L423.2 315.50L423.7 315.50L424.2 315.50L424.7 315.50L425.2 315.50L425.7 315.50L426.2 315.50L426.7 315.50L427.2 315.50L427.7 315.50L428.2 315.50L428.7 315.50L429.2 315.50L429.7 315.50L430.2 315.50L430.7 315.50L431.2 315.50L431.7 315.50L432.2 315.50L432.7 315.50L433.2 315.50L433.7 315.50L434.2 315.50L434.7 315.50L435.2 315.50L435.7 315.50L436.2 315.50L436.7 315.50L437.2 315.50L437.7 315.50L438.2 315.50L438.7 315.50L439.2 315.50L439.7 315.50L440.2 315.50L440.7 315.50L441.2 315.50L441.7 315.50L442.2 315.50L442.7 315.50L443.2 315.50L443.7 315.50L444.2 315.50L444.7 315.50L445.2 315.50L445.7 315.50L446.2 315.50L446.7 315.50L447.2 315.50L447.7 315.50L448.2 315.50L448.7 315.50L449.2 315.50L449.7 315.50L450.2 315.50L450.7 315.50L451.2 315.50L451.7 315.50L452.2 315.50L452.7 315.50L453.2 315.50L453.7 315.50L454.2 315.50L454.7 315.50L455.2 315.50L455.7 315.50L456.2 315.50L456.7 315.50L457.2 315.50L457.7 315.50L458.2 315.50L458.7 315.50L459.2 315.50L459.7 315.50L460.2 315.50L460.7 315.50L461.2 315.50L461.7 315.50L462.2 315.50L462.7 315.50L463.2 315.50L463.7 315.50L464.2 315.50L464.7 315.50L465.2 315.50L465.7 315.50L466.2 315.28L466.7 313.31L467.2 309.47L467.7 311.20L468.2 314.84L468.7 315.50L469.2 315.50L469.7 315.50L470.2 315.50L470.7 315.50L471.2 315.50L471.7 315.50L472.2 315.50L472.7 315.50L473.2 315.50L473.7 315.50L474.2 315.50L474.7 315.50L475.2 315.50L475.7 315.50L476.2 315.50L476.7 315.50L477.2 315.50L477.7 315.50L478.2 315.50L478.7 315.50L479.2 315.50L479.7 315.50L480.2 315.50L480.5 315.50Z" fill="#9c9c26" stroke="none" stroke-width="1"/>
<text transform="translate(26.00,329.40) scale(1,1)" font-size="5.50" text-anchor="end" fill="#333333" stroke="#333333" style="stroke-width:0.12px">[0–60]</text>
<line x1="27.20" y1="329.70" x2="480.50" y2="329.70" stroke="#bfe6ec" stroke-width="0.6"/>
<path d="M27.2 330.00L27.2 330.00L27.7 330.00L28.2 329.92L28.7 329.83L29.2 329.92L29.7 330.00L30.2 330.00L30.7 330.00L31.2 330.00L31.7 330.00L32.2 329.79L32.7 329.59L33.2 329.79L33.7 330.00L34.2 329.98L34.7 329.97L35.2 329.98L35.7 330.00L36.2 329.85L36.7 329.70L37.2 329.85L37.7 330.00L38.2 330.00L38.7 330.00L39.2 330.00L39.7 330.00L40.2 330.00L40.7 330.00L41.2 330.00L41.7 330.00L42.2 330.00L42.7 330.00L43.2 330.00L43.7 330.00L44.2 330.00L44.7 330.00L45.2 330.00L45.7 329.93L46.2 329.85L46.7 329.93L47.2 330.00L47.7 330.00L48.2 330.00L48.7 330.00L49.2 330.00L49.7 330.00L50.2 330.00L50.7 330.00L51.2 330.00L51.7 330.00L52.2 330.00L52.7 330.00L53.2 330.00L53.7 330.00L54.2 329.82L54.7 329.64L55.2 330.00L55.7 330.00L56.2 330.00L56.7 329.95L57.2 329.97L57.7 330.00L58.2 330.00L58.7 330.00L59.2 330.00L59.7 329.85L60.2 329.70L60.7 329.85L61.2 330.00L61.7 330.00L62.2 330.00L62.7 330.00L63.2 330.00L63.7 330.00L64.2 330.00L64.7 330.00L65.2 330.00L65.7 330.00L66.2 330.00L66.7 330.00L67.2 330.00L67.7 329.97L68.2 329.98L68.7 329.99L69.2 329.98L69.7 329.99L70.2 329.76L70.7 329.46L71.2 329.65L71.7 329.94L72.2 330.00L72.7 329.97L73.2 329.94L73.7 329.96L74.2 329.93L74.7 329.88L75.2 329.94L75.7 330.00L76.2 330.00L76.7 330.00L77.2 330.00L77.7 330.00L78.2 330.00L78.7 330.00L79.2 330.00L79.7 329.96L80.2 329.92L80.7 329.96L81.2 330.00L81.7 330.00L82.2 330.00L82.7 330.00L83.2 330.00L83.7 329.95L84.2 329.90L84.7 329.95L85.2 329.99L85.7 329.98L86.2 329.99L86.7 330.00L87.2 330.00L87.7 330.00L88.2 330.00L88.7 330.00L89.2 330.00L89.7 330.00L90.2 329.99L90.7 329.99L91.2 329.99L91.7 330.00L92.2 329.92L92.7 329.83L93.2 329.68L93.7 329.52L94.2 329.76L94.7 330.00L95.2 330.00L95.7 330.00L96.2 330.00L96.7 330.00L97.2 330.00L97.7 330.00L98.2 330.00L98.7 330.00L99.2 330.00L99.7 330.00L100.2 330.00L100.7 330.00L101.2 330.00L101.7 329.86L102.2 329.72L102.7 329.86L103.2 330.00L103.7 330.00L104.2 329.99L104.7 330.00L105.2 330.00L105.7 330.00L106.2 330.00L106.7 330.00L107.2 329.81L107.7 329.62L108.2 329.81L108.7 330.00L109.2 329.95L109.7 329.89L110.2 329.72L110.7 329.54L111.2 329.77L111.7 330.00L112.2 330.00L112.7 329.90L113.2 329.81L113.7 329.90L114.2 330.00L114.7 330.00L115.2 330.00L115.7 330.00L116.2 330.00L116.7 330.00L117.2 330.00L117.7 330.00L118.2 330.00L118.7 330.00L119.2 330.00L119.7 330.00L120.2 330.00L120.7 330.00L121.2 330.00L121.7 330.00L122.2 329.93L122.7 329.87L123.2 329.83L123.7 329.79L124.2 329.55L124.7 329.13L125.2 328.75L125.7 328.18L126.2 328.21L126.7 328.44L127.2 329.14L127.7 329.53L128.2 329.78L128.7 329.91L129.2 329.15L129.7 326.34L130.2 321.82L130.7 322.73L131.2 327.11L131.7 329.39L132.2 329.86L132.7 329.66L133.2 327.99L133.7 322.05L134.2 320.12L134.7 323.28L135.2 327.51L135.7 329.70L136.2 329.88L136.7 329.99L137.2 329.99L137.7 330.00L138.2 329.77L138.7 329.29L139.2 329.29L139.7 329.76L140.2 330.00L140.7 329.95L141.2 329.89L141.7 329.81L142.2 328.89L142.7 326.05L143.2 321.10L143.7 321.48L144.2 324.50L144.7 328.46L145.2 328.54L145.7 326.56L146.2 326.86L146.7 328.34L147.2 329.64L147.7 329.99L148.2 329.99L148.7 329.98L149.2 329.99L149.7 330.00L150.2 329.82L150.7 328.81L151.2 325.74L151.7 322.08L152.2 320.71L152.7 325.06L153.2 328.32L153.7 329.70L154.2 328.50L154.7 326.30L155.2 325.80L155.7 327.92L156.2 329.52L156.7 329.94L157.2 329.92L157.7 329.88L158.2 329.94L158.7 330.00L159.2 330.00L159.7 330.00L160.2 330.00L160.7 330.00L161.2 330.00L161.7 330.00L162.2 330.00L162.7 330.00L163.2 330.00L163.7 330.00L164.2 330.00L164.7 330.00L165.2 330.00L165.7 330.00L166.2 329.94L166.7 329.89L167.2 329.94L167.7 330.00L168.2 330.00L168.7 329.97L169.2 329.90L169.7 329.89L170.2 329.96L170.7 330.00L171.2 330.00L171.7 330.00L172.2 329.93L172.7 329.87L173.2 329.93L173.7 330.00L174.2 330.00L174.7 330.00L175.2 330.00L175.7 330.00L176.2 329.91L176.7 329.35L177.2 327.59L177.7 325.37L178.2 324.63L178.7 327.23L179.2 329.10L179.7 329.58L180.2 328.08L180.7 325.34L181.2 324.99L181.7 327.64L182.2 329.48L182.7 329.94L183.2 330.00L183.7 330.00L184.2 329.86L184.7 329.71L185.2 329.86L185.7 330.00L186.2 329.85L186.7 329.70L187.2 329.85L187.7 329.88L188.2 329.75L188.7 329.88L189.2 330.00L189.7 330.00L190.2 330.00L190.7 330.00L191.2 330.00L191.7 330.00L192.2 329.90L192.7 329.79L193.2 329.89L193.7 329.98L194.2 329.99L194.7 329.90L195.2 329.81L195.7 329.73L196.2 329.65L196.7 329.82L197.2 330.00L197.7 330.00L198.2 330.00L198.7 329.93L199.2 329.87L199.7 329.69L200.2 329.50L200.7 329.75L201.2 330.00L201.7 330.00L202.2 329.99L202.7 329.98L203.2 329.98L203.7 329.99L204.2 330.00L204.7 330.00L205.2 330.00L205.7 330.00L206.2 330.00L206.7 329.76L207.2 329.51L207.7 329.76L208.2 330.00L208.7 330.00L209.2 330.00L209.7 330.00L210.2 329.97L210.7 329.95L211.2 329.97L211.7 329.76L212.2 329.52L212.7 329.75L213.2 329.99L213.7 329.99L214.2 330.00L214.7 329.76L215.2 329.52L215.7 329.67L216.2 329.83L216.7 329.91L217.2 330.00L217.7 330.00L218.2 330.00L218.7 329.77L219.2 329.30L219.7 329.29L220.2 329.76L220.7 330.00L221.2 330.00L221.7 329.99L222.2 330.00L222.7 330.00L223.2 330.00L223.7 330.00L224.2 329.98L224.7 329.95L225.2 329.96L225.7 329.96L226.2 329.98L226.7 330.00L227.2 330.00L227.7 330.00L228.2 330.00L228.7 329.80L229.2 329.61L229.7 329.80L230.2 329.79L230.7 329.58L231.2 329.79L231.7 330.00L232.2 329.99L232.7 329.82L233.2 329.66L233.7 329.80L234.2 329.98L234.7 330.00L235.2 330.00L235.7 330.00L236.2 330.00L236.7 330.00L237.2 329.97L237.7 329.94L238.2 329.97L238.7 330.00L239.2 330.00L239.7 330.00L240.2 330.00L240.7 330.00L241.2 329.75L241.7 329.50L242.2 329.75L242.7 329.97L243.2 329.95L243.7 329.86L244.2 329.77L244.7 329.71L245.2 329.65L245.7 329.83L246.2 330.00L246.7 330.00L247.2 330.00L247.7 330.00L248.2 330.00L248.7 329.56L249.2 329.78L249.7 330.00L250.2 330.00L250.7 330.00L251.2 330.00L251.7 330.00L252.2 330.00L252.7 330.00L253.2 330.00L253.7 329.99L254.2 329.98L254.7 329.77L255.2 329.57L255.7 329.78L256.2 330.00L256.7 330.00L257.2 330.00L257.7 330.00L258.2 330.00L258.7 329.76L259.2 329.51L259.7 329.76L260.2 330.00L260.7 330.00L261.2 330.00L261.7 330.00L262.2 330.00L262.7 330.00L263.2 329.98L263.7 329.88L264.2 329.82L264.7 329.92L265.2 330.00L265.7 330.00L266.2 330.00L266.7 329.86L267.2 329.72L267.7 329.86L268.2 330.00L268.7 330.00L269.2 330.00L269.7 330.00L270.2 329.97L270.7 329.88L271.2 329.84L271.7 329.94L272.2 329.93L272.7 329.65L273.2 329.33L273.7 329.44L274.2 329.83L274.7 330.00L275.2 330.00L275.7 329.88L276.2 329.76L276.7 329.88L277.2 330.00L277.7 330.00L278.2 330.00L278.7 330.00L279.2 329.93L279.7 329.86L280.2 329.93L280.7 330.00L281.2 330.00L281.7 330.00L282.2 330.00L282.7 329.76L283.2 329.52L283.7 329.76L284.2 329.84L284.7 329.67L285.2 329.82L285.7 329.99L286.2 330.00L286.7 330.00L287.2 329.83L287.7 329.67L288.2 329.83L288.7 330.00L289.2 330.00L289.7 330.00L290.2 330.00L290.7 330.00L291.2 329.78L291.7 329.56L292.2 329.78L292.7 330.00L293.2 330.00L293.7 330.00L294.2 330.00L294.7 330.00L295.2 330.00L295.7 330.00L296.2 329.96L296.7 329.92L297.2 329.78L297.7 329.64L298.2 329.82L298.7 330.00L299.2 329.83L299.7 329.65L300.2 329.59L300.7 329.53L301.2 329.76L301.7 330.00L302.2 329.99L302.7 329.98L303.2 329.99L303.7 330.00L304.2 329.80L304.7 329.60L305.2 329.79L305.7 329.93L306.2 329.86L306.7 329.93L307.2 330.00L307.7 330.00L308.2 330.00L308.7 329.90L309.2 329.79L309.7 329.88L310.2 329.98L310.7 329.99L311.2 330.00L311.7 330.00L312.2 330.00L312.7 329.81L313.2 329.62L313.7 329.71L314.2 329.81L314.7 329.90L315.2 330.00L315.7 330.00L316.2 329.90L316.7 329.79L317.2 329.90L317.7 330.00L318.2 330.00L318.7 330.00L319.2 330.00L319.7 330.00L320.2 330.00L320.7 330.00L321.2 330.00L321.7 330.00L322.2 330.00L322.7 330.00L323.2 330.00L323.7 330.00L324.2 330.00L324.7 330.00L325.2 330.00L325.7 330.00L326.2 330.00L326.7 330.00L327.2 330.00L327.7 330.00L328.2 330.00L328.7 330.00L329.2 329.82L329.7 329.65L330.2 329.82L330.7 329.79L331.2 329.58L331.7 329.79L332.2 329.98L332.7 329.97L333.2 329.98L333.7 330.00L334.2 330.00L334.7 329.89L335.2 329.78L335.7 329.89L336.2 330.00L336.7 330.00L337.2 330.00L337.7 330.00L338.2 330.00L338.7 330.00L339.2 329.98L339.7 329.80L340.2 329.65L340.7 329.83L341.2 330.00L341.7 330.00L342.2 330.00L342.7 330.00L343.2 330.00L343.7 330.00L344.2 330.00L344.7 330.00L345.2 330.00L345.7 330.00L346.2 330.00L346.7 330.00L347.2 330.00L347.7 330.00L348.2 330.00L348.7 330.00L349.2 330.00L349.7 330.00L350.2 330.00L350.7 329.98L351.2 329.95L351.7 329.98L352.2 330.00L352.7 330.00L353.2 330.00L353.7 329.99L354.2 329.99L354.7 329.80L355.2 329.58L355.7 329.74L356.2 329.83L356.7 329.73L357.2 329.87L357.7 330.00L358.2 330.00L358.7 330.00L359.2 330.00L359.7 330.00L360.2 330.00L360.7 330.00L361.2 330.00L361.7 329.99L362.2 329.97L362.7 329.97L363.2 329.99L363.7 330.00L364.2 330.00L364.7 330.00L365.2 330.00L365.7 330.00L366.2 330.00L366.7 330.00L367.2 329.92L367.7 329.84L368.2 329.80L368.7 329.75L369.2 329.88L369.7 329.62L370.2 328.87L370.7 328.02L371.2 327.69L371.7 328.67L372.2 329.44L372.7 328.84L373.2 328.63L373.7 329.44L374.2 329.85L374.7 329.97L375.2 330.00L375.7 330.00L376.2 329.87L376.7 329.73L377.2 329.87L377.7 330.00L378.2 330.00L378.7 330.00L379.2 330.00L379.7 330.00L380.2 330.00L380.7 329.84L381.2 329.68L381.7 329.82L382.2 329.97L382.7 329.97L383.2 329.98L383.7 329.99L384.2 329.88L384.7 329.77L385.2 329.88L385.7 330.00L386.2 330.00L386.7 330.00L387.2 329.89L387.7 329.78L388.2 329.89L388.7 330.00L389.2 329.90L389.7 329.73L390.2 329.74L390.7 329.88L391.2 329.85L391.7 329.74L392.2 329.87L392.7 329.93L393.2 329.86L393.7 329.93L394.2 330.00L394.7 330.00L395.2 329.91L395.7 329.82L396.2 329.91L396.7 329.95L397.2 329.90L397.7 329.95L398.2 330.00L398.7 330.00L399.2 330.00L399.7 330.00L400.2 330.00L400.7 330.00L401.2 330.00L401.7 330.00L402.2 329.95L402.7 329.86L403.2 329.87L403.7 329.96L404.2 330.00L404.7 330.00L405.2 330.00L405.7 330.00L406.2 330.00L406.7 330.00L407.2 330.00L407.7 330.00L408.2 330.00L408.7 330.00L409.2 329.76L409.7 329.53L410.2 329.76L410.7 329.94L411.2 329.89L411.7 329.81L412.2 329.74L412.7 329.77L413.2 329.81L413.7 329.90L414.2 329.90L414.7 329.80L415.2 329.88L415.7 329.97L416.2 329.99L416.7 330.00L417.2 330.00L417.7 330.00L418.2 330.00L418.7 330.00L419.2 330.00L419.7 330.00L420.2 330.00L420.7 330.00L421.2 330.00L421.7 329.87L422.2 329.75L422.7 329.87L423.2 330.00L423.7 329.99L424.2 329.80L424.7 329.38L425.2 329.32L425.7 329.75L426.2 330.00L426.7 330.00L427.2 330.00L427.7 330.00L428.2 330.00L428.7 329.99L429.2 329.98L429.7 329.99L430.2 329.99L430.7 329.77L431.2 329.57L431.7 329.79L432.2 330.00L432.7 330.00L433.2 330.00L433.7 330.00L434.2 329.78L434.7 329.56L435.2 329.78L435.7 330.00L436.2 330.00L436.7 330.00L437.2 330.00L437.7 330.00L438.2 330.00L438.7 330.00L439.2 330.00L439.7 329.97L440.2 329.94L440.7 329.97L441.2 330.00L441.7 330.00L442.2 330.00L442.7 330.00L443.2 330.00L443.7 330.00L444.2 330.00L444.7 330.00L445.2 329.96L445.7 329.88L446.2 329.87L446.7 329.93L447.2 329.95L447.7 329.98L448.2 329.96L448.7 329.92L449.2 329.95L449.7 330.00L450.2 330.00L450.7 330.00L451.2 330.00L451.7 330.00L452.2 330.00L452.7 330.00L453.2 329.90L453.7 329.66L454.2 329.57L454.7 329.77L455.2 329.96L455.7 329.81L456.2 329.61L456.7 329.81L457.2 329.78L457.7 329.57L458.2 329.78L458.7 330.00L459.2 329.82L459.7 329.61L460.2 329.78L460.7 329.98L461.2 330.00L461.7 330.00L462.2 329.76L462.7 329.52L463.2 329.76L463.7 329.92L464.2 329.82L464.7 329.65L465.2 329.38L465.7 329.15L466.2 328.79L466.7 328.80L467.2 328.77L467.7 328.86L468.2 329.12L468.7 329.41L469.2 329.64L469.7 329.77L470.2 329.90L470.7 329.97L471.2 329.98L471.7 329.86L472.2 329.72L472.7 329.84L473.2 329.97L473.7 329.99L474.2 330.00L474.7 330.00L475.2 329.98L475.7 329.78L476.2 329.62L476.7 329.82L477.2 330.00L477.7 330.00L478.2 330.00L478.7 329.90L479.2 329.79L479.7 329.78L480.2 329.78L480.5 330.00Z" fill="#3ab0c4" stroke="none" stroke-width="1"/>
<rect x="139.40" y="181.30" width="18.80" height="149.70" fill="none" stroke="#9494a0" stroke-width="0.75"/>
<rect x="174.30" y="181.30" width="10.20" height="149.70" fill="none" stroke="#9494a0" stroke-width="0.75"/>
<rect x="462.90" y="181.30" width="9.70" height="149.70" fill="none" stroke="#9494a0" stroke-width="0.75"/>
<rect x="27.20" y="331.90" width="219.20" height="2.70" fill="#252b82"/>
<rect x="260.70" y="331.90" width="159.50" height="2.70" fill="#252b82"/>
<line x1="420.20" y1="332.80" x2="480.50" y2="332.80" stroke="#d8dde8" stroke-width="0.8"/>
<line x1="27.20" y1="343.10" x2="131.70" y2="343.10" stroke="#9a9a9a" stroke-width="0.6"/>
<rect x="31.90" y="341.40" width="2.20" height="3.40" fill="#333"/>
<rect x="38.85" y="341.40" width="0.90" height="3.40" fill="#333"/>
<rect x="42.40" y="341.40" width="1.20" height="3.40" fill="#333"/>
<rect x="46.10" y="341.40" width="1.80" height="3.40" fill="#333"/>
<rect x="49.70" y="341.40" width="1.40" height="3.40" fill="#333"/>
<rect x="84.15" y="341.40" width="0.90" height="3.40" fill="#333"/>
<line x1="59.60" y1="342.30" x2="59.60" y2="343.90" stroke="#444" stroke-width="0.5"/>
<line x1="70.00" y1="342.30" x2="70.00" y2="343.90" stroke="#444" stroke-width="0.5"/>
<line x1="100.00" y1="342.30" x2="100.00" y2="343.90" stroke="#444" stroke-width="0.5"/>
<line x1="115.00" y1="342.30" x2="115.00" y2="343.90" stroke="#444" stroke-width="0.5"/>
<circle cx="131.7" cy="343.1" r="1.2" fill="#111"/>
<text transform="translate(81.40,358.00) scale(1.0,1)" font-size="7.00" font-style="italic" style="stroke:none">MEF2D</text>
<line x1="247.60" y1="343.50" x2="467.50" y2="343.50" stroke="#9a9a9a" stroke-width="0.6"/>
<rect x="247.40" y="342.40" width="5.30" height="2.20" fill="#111"/>
<rect x="259.30" y="341.80" width="1.00" height="3.40" fill="#333"/>
<rect x="261.30" y="341.80" width="1.00" height="3.40" fill="#333"/>
<rect x="263.40" y="341.80" width="1.00" height="3.40" fill="#333"/>
<rect x="268.80" y="341.80" width="1.20" height="3.40" fill="#333"/>
<rect x="274.20" y="341.80" width="0.80" height="3.40" fill="#333"/>
<rect x="278.50" y="341.80" width="0.60" height="3.40" fill="#333"/>
<rect x="282.50" y="341.80" width="0.80" height="3.40" fill="#333"/>
<rect x="286.10" y="341.80" width="1.00" height="3.40" fill="#333"/>
<rect x="288.30" y="341.80" width="1.00" height="3.40" fill="#333"/>
<rect x="290.10" y="341.80" width="1.00" height="3.40" fill="#333"/>
<rect x="292.95" y="341.80" width="0.70" height="3.40" fill="#333"/>
<rect x="301.95" y="341.80" width="0.90" height="3.40" fill="#333"/>
<rect x="305.10" y="341.80" width="0.60" height="3.40" fill="#333"/>
<rect x="309.10" y="341.80" width="1.00" height="3.40" fill="#333"/>
<rect x="311.30" y="341.80" width="1.00" height="3.40" fill="#333"/>
<rect x="313.50" y="341.80" width="1.00" height="3.40" fill="#333"/>
<rect x="318.00" y="341.80" width="1.00" height="3.40" fill="#333"/>
<rect x="333.50" y="341.80" width="2.20" height="3.40" fill="#333"/>
<rect x="353.00" y="341.80" width="2.40" height="3.40" fill="#333"/>
<rect x="362.55" y="341.80" width="0.90" height="3.40" fill="#333"/>
<rect x="370.10" y="341.80" width="1.20" height="3.40" fill="#333"/>
<rect x="381.85" y="341.80" width="0.90" height="3.40" fill="#333"/>
<rect x="391.95" y="341.80" width="0.90" height="3.40" fill="#333"/>
<rect x="412.25" y="341.80" width="0.90" height="3.40" fill="#333"/>
<rect x="415.90" y="341.80" width="0.80" height="3.40" fill="#333"/>
<rect x="417.90" y="341.80" width="0.80" height="3.40" fill="#333"/>
<rect x="422.00" y="341.80" width="1.00" height="3.40" fill="#333"/>
<rect x="424.10" y="341.80" width="1.00" height="3.40" fill="#333"/>
<rect x="426.10" y="341.80" width="1.00" height="3.40" fill="#333"/>
<rect x="432.00" y="341.80" width="0.80" height="3.40" fill="#333"/>
<rect x="436.80" y="341.80" width="1.00" height="3.40" fill="#333"/>
<rect x="438.80" y="341.80" width="1.00" height="3.40" fill="#333"/>
<rect x="451.60" y="341.80" width="0.80" height="3.40" fill="#333"/>
<rect x="466.85" y="341.80" width="0.70" height="3.40" fill="#333"/>
<line x1="325.00" y1="342.70" x2="325.00" y2="344.30" stroke="#444" stroke-width="0.5"/>
<line x1="344.00" y1="342.70" x2="344.00" y2="344.30" stroke="#444" stroke-width="0.5"/>
<line x1="400.00" y1="342.70" x2="400.00" y2="344.30" stroke="#444" stroke-width="0.5"/>
<line x1="445.00" y1="342.70" x2="445.00" y2="344.30" stroke="#444" stroke-width="0.5"/>
<line x1="458.00" y1="342.70" x2="458.00" y2="344.30" stroke="#444" stroke-width="0.5"/>
<text transform="translate(423.20,358.70) scale(1.0,1)" font-size="7.00" font-style="italic" style="stroke:none">IQGAP3</text>
<path d="M468.3 349.6L468.3 356.2L454.5 356.2" fill="none" stroke="#111" stroke-width="1"/>
<path d="M451.6 356.2L456 354.0L456 358.4Z" fill="#111" stroke="none" stroke-width="1"/>
<text transform="translate(476.40,189.00) scale(1,1)" font-size="7.10" style="stroke:none">Dox</text>
<text transform="translate(491.00,195.20) scale(1,1)" font-size="7.30" style="stroke:none">Input</text>
<line x1="482.60" y1="205.60" x2="486.20" y2="205.60" stroke="#222" stroke-width="0.9"/>
<line x1="483.30" y1="221.30" x2="485.50" y2="221.30" stroke="#333" stroke-width="0.8"/>
<line x1="484.40" y1="220.20" x2="484.40" y2="222.40" stroke="#333" stroke-width="0.8"/>
<line x1="489.60" y1="200.20" x2="489.60" y2="225.50" stroke="#222" stroke-width="1.0"/>
<text transform="translate(493.60,215.90) scale(1,1)" font-size="7.20" fill="#c23a72" stroke="#c23a72" style="stroke:none">LIN9</text>
<line x1="482.60" y1="234.00" x2="486.20" y2="234.00" stroke="#222" stroke-width="0.9"/>
<line x1="483.30" y1="250.30" x2="485.50" y2="250.30" stroke="#333" stroke-width="0.8"/>
<line x1="484.40" y1="249.20" x2="484.40" y2="251.40" stroke="#333" stroke-width="0.8"/>
<line x1="489.60" y1="231.00" x2="489.60" y2="258.60" stroke="#222" stroke-width="1.0"/>
<text transform="translate(493.60,245.90) scale(1,1)" font-size="7.20" fill="#2f9a5a" stroke="#2f9a5a" style="stroke:none">B-MYB</text>
<line x1="482.60" y1="264.50" x2="486.20" y2="264.50" stroke="#222" stroke-width="0.9"/>
<line x1="483.30" y1="279.60" x2="485.50" y2="279.60" stroke="#333" stroke-width="0.8"/>
<line x1="484.40" y1="278.50" x2="484.40" y2="280.70" stroke="#333" stroke-width="0.8"/>
<line x1="489.60" y1="260.00" x2="489.60" y2="283.80" stroke="#222" stroke-width="1.0"/>
<text transform="translate(493.60,275.10) scale(1,1)" font-size="7.20" fill="#3b3b8f" stroke="#3b3b8f" style="stroke:none">YAP</text>
<text transform="translate(487.60,298.90) scale(1,1)" font-size="7.00" fill="#eda36a" stroke="#eda36a" style="stroke:none">H3K4me1</text>
<text transform="translate(487.60,314.60) scale(1,1)" font-size="7.00" fill="#8e9a3c" stroke="#8e9a3c" style="stroke:none">H3K4me3</text>
<text transform="translate(487.60,328.60) scale(1,1)" font-size="7.00" fill="#5cbcc8" stroke="#5cbcc8" style="stroke:none">H3K27Ac</text>
<text transform="translate(487.60,338.60) scale(1,1)" font-size="7.20" fill="#3a3a80" stroke="#3a3a80" style="stroke-width:0.15px">Hi-C</text>
<text transform="translate(1.30,376.40) scale(0.95,1)" font-size="13.44" font-weight="bold" fill="#111" stroke="#111" style="stroke-width:0.45px">E</text>
<rect x="32.30" y="379.60" width="16.70" height="8.40" fill="#a9a9a9"/>
<text transform="translate(53.40,387.30) scale(0.95,1)" font-size="9.67">IgG</text>
<rect x="75.00" y="379.60" width="17.50" height="8.40" fill="#3f87d0"/>
<text transform="translate(97.00,387.30) scale(0.95,1)" font-size="9.67">B-MYB</text>
<rect x="129.60" y="379.60" width="17.70" height="8.40" fill="#e8392b"/>
<text transform="translate(152.00,387.30) scale(0.95,1)" font-size="9.67">YAP</text>
<line x1="46.80" y1="400.90" x2="46.80" y2="508.50" stroke="#3a3a3a" stroke-width="1.1"/>
<line x1="46.80" y1="507.90" x2="158.00" y2="507.90" stroke="#3a3a3a" stroke-width="1.3"/>
<line x1="44.10" y1="507.90" x2="46.80" y2="507.90" stroke="#3a3a3a" stroke-width="1.0"/>
<text transform="translate(41.60,511.10) scale(0.95,1)" font-size="9.67" text-anchor="end">0.00</text>
<line x1="44.10" y1="486.50" x2="46.80" y2="486.50" stroke="#3a3a3a" stroke-width="1.0"/>
<text transform="translate(41.60,489.70) scale(0.95,1)" font-size="9.67" text-anchor="end">0.01</text>
<line x1="44.10" y1="465.10" x2="46.80" y2="465.10" stroke="#3a3a3a" stroke-width="1.0"/>
<text transform="translate(41.60,468.30) scale(0.95,1)" font-size="9.67" text-anchor="end">0.02</text>
<line x1="44.10" y1="443.70" x2="46.80" y2="443.70" stroke="#3a3a3a" stroke-width="1.0"/>
<text transform="translate(41.60,446.90) scale(0.95,1)" font-size="9.67" text-anchor="end">0.03</text>
<line x1="44.10" y1="422.30" x2="46.80" y2="422.30" stroke="#3a3a3a" stroke-width="1.0"/>
<text transform="translate(41.60,425.50) scale(0.95,1)" font-size="9.67" text-anchor="end">0.04</text>
<line x1="44.10" y1="400.90" x2="46.80" y2="400.90" stroke="#3a3a3a" stroke-width="1.0"/>
<text transform="translate(41.60,404.10) scale(0.95,1)" font-size="9.67" text-anchor="end">0.05</text>
<text transform="translate(57.30,404.60) scale(1.0,1)" font-size="9.40" font-style="italic">IQGAP3</text>
<text transform="translate(97.00,404.60) scale(0.95,1)" font-size="9.67">Promoter</text>
<rect x="53.80" y="499.13" width="10.40" height="8.77" fill="#b3b3b3"/>
<line x1="59.00" y1="499.13" x2="59.00" y2="497.63" stroke="#3a3a3a" stroke-width="1.0"/>
<line x1="56.20" y1="497.63" x2="61.80" y2="497.63" stroke="#3a3a3a" stroke-width="1.2"/>
<rect x="71.20" y="500.62" width="10.40" height="7.28" fill="#979797"/>
<line x1="76.40" y1="500.62" x2="76.40" y2="498.70" stroke="#3a3a3a" stroke-width="1.0"/>
<line x1="73.60" y1="498.70" x2="79.20" y2="498.70" stroke="#3a3a3a" stroke-width="1.2"/>
<rect x="88.60" y="480.51" width="10.40" height="27.39" fill="#3f87d0"/>
<line x1="93.80" y1="480.51" x2="93.80" y2="475.80" stroke="#3a3a3a" stroke-width="1.0"/>
<line x1="91.00" y1="475.80" x2="96.60" y2="475.80" stroke="#3a3a3a" stroke-width="1.2"/>
<rect x="106.20" y="432.14" width="10.40" height="75.76" fill="#3f87d0"/>
<line x1="111.40" y1="432.14" x2="111.40" y2="420.59" stroke="#3a3a3a" stroke-width="1.0"/>
<line x1="108.60" y1="420.59" x2="114.20" y2="420.59" stroke="#3a3a3a" stroke-width="1.2"/>
<rect x="123.40" y="491.42" width="10.40" height="16.48" fill="#e8392b"/>
<line x1="128.60" y1="491.42" x2="128.60" y2="488.64" stroke="#3a3a3a" stroke-width="1.0"/>
<line x1="125.80" y1="488.64" x2="131.40" y2="488.64" stroke="#3a3a3a" stroke-width="1.2"/>
<rect x="140.60" y="484.79" width="10.40" height="23.11" fill="#e8392b"/>
<line x1="145.80" y1="484.79" x2="145.80" y2="480.08" stroke="#3a3a3a" stroke-width="1.0"/>
<line x1="143.00" y1="480.08" x2="148.60" y2="480.08" stroke="#3a3a3a" stroke-width="1.2"/>
<text transform="translate(22.90,519.80) scale(1,1)" font-size="8.80">Dox:</text>
<line x1="57.10" y1="517.00" x2="61.30" y2="517.00" stroke="#333" stroke-width="1.0"/>
<line x1="74.00" y1="517.00" x2="78.80" y2="517.00" stroke="#333" stroke-width="1.1"/>
<line x1="76.40" y1="514.60" x2="76.40" y2="519.40" stroke="#333" stroke-width="1.1"/>
<line x1="91.70" y1="517.00" x2="95.90" y2="517.00" stroke="#333" stroke-width="1.0"/>
<line x1="108.80" y1="517.00" x2="113.60" y2="517.00" stroke="#333" stroke-width="1.1"/>
<line x1="111.20" y1="514.60" x2="111.20" y2="519.40" stroke="#333" stroke-width="1.1"/>
<line x1="126.50" y1="517.00" x2="130.70" y2="517.00" stroke="#333" stroke-width="1.0"/>
<line x1="143.40" y1="517.00" x2="148.20" y2="517.00" stroke="#333" stroke-width="1.1"/>
<line x1="145.80" y1="514.60" x2="145.80" y2="519.40" stroke="#333" stroke-width="1.1"/>
<text transform="translate(14.60,454.50) rotate(-90)" font-size="11" text-anchor="middle" fill="#222">% of Input</text>
<text transform="translate(193.40,377.00) scale(0.95,1)" font-size="13.44" font-weight="bold" fill="#111" stroke="#111" style="stroke-width:0.45px">F</text>
<rect x="214.60" y="379.60" width="17.40" height="8.40" fill="#a9a9a9"/>
<text transform="translate(236.30,387.30) scale(0.95,1)" font-size="9.67">IgG</text>
<rect x="257.30" y="379.60" width="17.30" height="8.40" fill="#3f87d0"/>
<text transform="translate(279.40,387.30) scale(0.95,1)" font-size="9.67">B-MYB</text>
<rect x="312.00" y="379.60" width="17.40" height="8.40" fill="#e8392b"/>
<text transform="translate(333.80,387.30) scale(0.95,1)" font-size="9.67">YAP</text>
<line x1="233.60" y1="398.50" x2="233.60" y2="508.00" stroke="#3a3a3a" stroke-width="1.1"/>
<line x1="233.60" y1="507.40" x2="344.70" y2="507.40" stroke="#3a3a3a" stroke-width="1.3"/>
<line x1="230.90" y1="507.40" x2="233.60" y2="507.40" stroke="#3a3a3a" stroke-width="1.0"/>
<text transform="translate(228.40,510.60) scale(0.95,1)" font-size="9.67" text-anchor="end">0.00</text>
<line x1="230.90" y1="471.10" x2="233.60" y2="471.10" stroke="#3a3a3a" stroke-width="1.0"/>
<text transform="translate(228.40,474.30) scale(0.95,1)" font-size="9.67" text-anchor="end">0.05</text>
<line x1="230.90" y1="434.80" x2="233.60" y2="434.80" stroke="#3a3a3a" stroke-width="1.0"/>
<text transform="translate(228.40,438.00) scale(0.95,1)" font-size="9.67" text-anchor="end">0.10</text>
<line x1="230.90" y1="398.50" x2="233.60" y2="398.50" stroke="#3a3a3a" stroke-width="1.0"/>
<text transform="translate(228.40,401.70) scale(0.95,1)" font-size="9.67" text-anchor="end">0.15</text>
<text transform="translate(241.00,404.60) scale(1.0,1)" font-size="9.40" font-style="italic">IQGAP3</text>
<text transform="translate(280.40,404.60) scale(0.95,1)" font-size="9.67">Enhancer</text>
<rect x="243.00" y="506.53" width="10.00" height="0.87" fill="#b3b3b3"/>
<line x1="248.00" y1="506.53" x2="248.00" y2="506.24" stroke="#3a3a3a" stroke-width="1.0"/>
<line x1="245.20" y1="506.24" x2="250.80" y2="506.24" stroke="#3a3a3a" stroke-width="1.2"/>
<rect x="260.00" y="506.53" width="10.00" height="0.87" fill="#979797"/>
<line x1="265.00" y1="506.53" x2="265.00" y2="506.09" stroke="#3a3a3a" stroke-width="1.0"/>
<line x1="262.20" y1="506.09" x2="267.80" y2="506.09" stroke="#3a3a3a" stroke-width="1.2"/>
<rect x="276.20" y="504.93" width="10.40" height="2.47" fill="#3f87d0"/>
<line x1="281.40" y1="504.93" x2="281.40" y2="504.50" stroke="#3a3a3a" stroke-width="1.0"/>
<line x1="278.60" y1="504.50" x2="284.20" y2="504.50" stroke="#3a3a3a" stroke-width="1.2"/>
<rect x="293.30" y="501.45" width="10.40" height="5.95" fill="#3f87d0"/>
<line x1="298.50" y1="501.45" x2="298.50" y2="500.43" stroke="#3a3a3a" stroke-width="1.0"/>
<line x1="295.70" y1="500.43" x2="301.30" y2="500.43" stroke="#3a3a3a" stroke-width="1.2"/>
<rect x="310.40" y="498.18" width="10.40" height="9.22" fill="#e8392b"/>
<line x1="315.60" y1="498.18" x2="315.60" y2="496.73" stroke="#3a3a3a" stroke-width="1.0"/>
<line x1="312.80" y1="496.73" x2="318.40" y2="496.73" stroke="#3a3a3a" stroke-width="1.2"/>
<rect x="327.80" y="438.07" width="10.40" height="69.33" fill="#e8392b"/>
<line x1="333.00" y1="438.07" x2="333.00" y2="431.17" stroke="#3a3a3a" stroke-width="1.0"/>
<line x1="330.20" y1="431.17" x2="335.80" y2="431.17" stroke="#3a3a3a" stroke-width="1.2"/>
<text transform="translate(209.40,519.80) scale(1,1)" font-size="8.80">Dox:</text>
<line x1="244.70" y1="517.00" x2="248.90" y2="517.00" stroke="#333" stroke-width="1.0"/>
<line x1="261.30" y1="517.00" x2="266.10" y2="517.00" stroke="#333" stroke-width="1.1"/>
<line x1="263.70" y1="514.60" x2="263.70" y2="519.40" stroke="#333" stroke-width="1.1"/>
<line x1="279.50" y1="517.00" x2="283.70" y2="517.00" stroke="#333" stroke-width="1.0"/>
<line x1="296.20" y1="517.00" x2="301.00" y2="517.00" stroke="#333" stroke-width="1.1"/>
<line x1="298.60" y1="514.60" x2="298.60" y2="519.40" stroke="#333" stroke-width="1.1"/>
<line x1="314.30" y1="517.00" x2="318.50" y2="517.00" stroke="#333" stroke-width="1.0"/>
<line x1="331.20" y1="517.00" x2="336.00" y2="517.00" stroke="#333" stroke-width="1.1"/>
<line x1="333.60" y1="514.60" x2="333.60" y2="519.40" stroke="#333" stroke-width="1.1"/>
<text transform="translate(205.40,454.00) rotate(-90)" font-size="11" text-anchor="middle" fill="#222">% of Input</text>
<text transform="translate(370.40,378.00) scale(0.95,1)" font-size="13.44" font-weight="bold" fill="#111" stroke="#111" style="stroke-width:0.45px">G</text>
<line x1="416.60" y1="390.00" x2="416.60" y2="507.80" stroke="#1e1e1e" stroke-width="1"/>
<line x1="416.60" y1="507.30" x2="506.50" y2="507.30" stroke="#1e1e1e" stroke-width="1.1"/>
<text transform="translate(412.40,510.50) scale(0.95,1)" font-size="9.67" text-anchor="end">0</text>
<line x1="415.00" y1="507.30" x2="416.60" y2="507.30" stroke="#1e1e1e" stroke-width="0.8"/>
<text transform="translate(412.40,490.94) scale(0.95,1)" font-size="9.67" text-anchor="end">0.2</text>
<line x1="415.00" y1="487.74" x2="416.60" y2="487.74" stroke="#1e1e1e" stroke-width="0.8"/>
<text transform="translate(412.40,471.38) scale(0.95,1)" font-size="9.67" text-anchor="end">0.4</text>
<line x1="415.00" y1="468.18" x2="416.60" y2="468.18" stroke="#1e1e1e" stroke-width="0.8"/>
<text transform="translate(412.40,451.82) scale(0.95,1)" font-size="9.67" text-anchor="end">0.6</text>
<line x1="415.00" y1="448.62" x2="416.60" y2="448.62" stroke="#1e1e1e" stroke-width="0.8"/>
<text transform="translate(412.40,432.26) scale(0.95,1)" font-size="9.67" text-anchor="end">0.8</text>
<line x1="415.00" y1="429.06" x2="416.60" y2="429.06" stroke="#1e1e1e" stroke-width="0.8"/>
<text transform="translate(412.40,412.70) scale(0.95,1)" font-size="9.67" text-anchor="end">1.0</text>
<line x1="415.00" y1="409.50" x2="416.60" y2="409.50" stroke="#1e1e1e" stroke-width="0.8"/>
<text transform="translate(412.40,393.14) scale(0.95,1)" font-size="9.67" text-anchor="end">1.2</text>
<line x1="415.00" y1="389.94" x2="416.60" y2="389.94" stroke="#1e1e1e" stroke-width="0.8"/>
<text transform="translate(383.6,449.1) rotate(-90)" font-size="9.6" text-anchor="middle" fill="#222">Relative <tspan font-style="italic">IQGAP3</tspan></text>
<text transform="translate(392.30,448.50) rotate(-90)" font-size="9.63" text-anchor="middle" fill="#222" stroke="#222">expression</text>
<rect x="427.30" y="409.50" width="10.50" height="97.80" fill="#575757"/>
<rect x="459.80" y="474.05" width="10.50" height="33.25" fill="#575757"/>
<line x1="465.05" y1="474.05" x2="465.05" y2="463.29" stroke="#1e1e1e" stroke-width="0.9"/>
<line x1="463.60" y1="463.29" x2="466.50" y2="463.29" stroke="#1e1e1e" stroke-width="0.8"/>
<rect x="492.20" y="493.61" width="10.50" height="13.69" fill="#575757"/>
<line x1="497.45" y1="493.61" x2="497.45" y2="491.16" stroke="#1e1e1e" stroke-width="0.9"/>
<line x1="496.00" y1="491.16" x2="498.90" y2="491.16" stroke="#1e1e1e" stroke-width="0.8"/>
<line x1="428.00" y1="409.50" x2="437.00" y2="409.50" stroke="#1e1e1e" stroke-width="0.8"/>
<path d="M452.85 378.90L452.85 384.70M455.36 380.35L450.34 383.25M455.36 383.25L450.34 380.35" fill="none" stroke="#1a1a1a" stroke-width="1.35"/>
<path d="M461.15 378.90L461.15 384.70M463.66 380.35L458.64 383.25M463.66 383.25L458.64 380.35" fill="none" stroke="#1a1a1a" stroke-width="1.35"/>
<path d="M469.45 378.90L469.45 384.70M471.96 380.35L466.94 383.25M471.96 383.25L466.94 380.35" fill="none" stroke="#1a1a1a" stroke-width="1.35"/>
<path d="M477.75 378.90L477.75 384.70M480.26 380.35L475.24 383.25M480.26 383.25L475.24 380.35" fill="none" stroke="#1a1a1a" stroke-width="1.35"/>
<path d="M433.00 390.40Q433.00 388.80 434.60 388.80L496.40 388.80Q498.00 388.80 498.00 390.40" fill="none" stroke="#1e1e1e" stroke-width="1.25"/>
<path d="M441.70 395.50L441.70 401.30M444.21 396.95L439.19 399.85M444.21 399.85L439.19 396.95" fill="none" stroke="#1a1a1a" stroke-width="1.35"/>
<path d="M450.00 395.50L450.00 401.30M452.51 396.95L447.49 399.85M452.51 399.85L447.49 396.95" fill="none" stroke="#1a1a1a" stroke-width="1.35"/>
<path d="M458.30 395.50L458.30 401.30M460.81 396.95L455.79 399.85M460.81 399.85L455.79 396.95" fill="none" stroke="#1a1a1a" stroke-width="1.35"/>
<path d="M433.00 406.10Q433.00 404.50 434.60 404.50L464.80 404.50Q466.40 404.50 466.40 406.10" fill="none" stroke="#1e1e1e" stroke-width="1.25"/>
<text transform="translate(432.60,516.60) scale(0.95,1)" font-size="9.67" text-anchor="middle">siCtrl</text>
<text transform="translate(465.50,516.60) scale(0.95,1)" font-size="9.67" text-anchor="middle">siLIN9</text>
<text transform="translate(500.60,516.60) scale(0.95,1)" font-size="9.67" text-anchor="middle">siB-MYB</text>
</svg>
</body></html>
